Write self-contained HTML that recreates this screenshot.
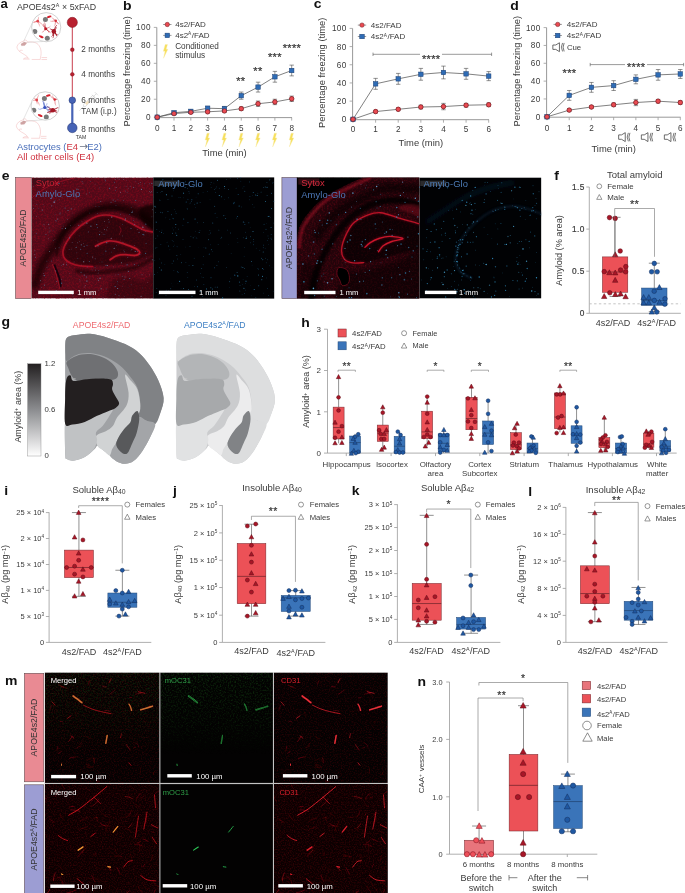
<!DOCTYPE html>
<html><head><meta charset="utf-8"><title>Figure</title>
<style>html,body{margin:0;padding:0;background:#fff}svg{display:block}text{font-family:"Liberation Sans",sans-serif}</style>
</head><body>
<svg width="685" height="893" viewBox="0 0 685 893">
<rect width="685" height="893" fill="#fff"/>
<text transform="translate(0.6 8) scale(1.06 1)" font-size="12.4" font-weight="bold" fill="#111">a</text>
<text x="17" y="10.2" font-size="8.8" fill="#3a3a3a" >APOE4s2<tspan dy="-3" font-size="60%">A</tspan><tspan dy="3" dx="0.5"> × 5xFAD</tspan></text>
<line x1="72.3" y1="22" x2="72.3" y2="100" stroke="#c2273a" stroke-width="0.9" />
<line x1="72.3" y1="100" x2="72.3" y2="128" stroke="#4663b6" stroke-width="2.2" />
<circle cx="72.3" cy="22.4" r="5.1" fill="#b8202f" stroke="#7d1320" stroke-width="0.5" />
<circle cx="72.3" cy="49.7" r="1.9" fill="#b8202f" stroke="#7d1320" stroke-width="0.4" />
<circle cx="72.3" cy="74.3" r="1.9" fill="#b8202f" stroke="#7d1320" stroke-width="0.4" />
<circle cx="72.3" cy="100.2" r="3.3" fill="#4663b6" stroke="#22336e" stroke-width="0.5" />
<circle cx="72.3" cy="127.9" r="4.8" fill="#4663b6" stroke="#22336e" stroke-width="0.5" />
<g transform="translate(88.85,101.15) rotate(-45)" stroke="#bdbdbd" stroke-width="0.45" fill="none"><rect x="-6.8" y="-1.3" width="13.6" height="2.6" fill="#fff"/><rect x="-4.2" y="-1.1" width="3.6" height="2.2" fill="#f6e2bd" stroke="none"/><line x1="-6.8" y1="0" x2="-13.4" y2="0"/><line x1="6.8" y1="-2.3" x2="6.8" y2="2.3"/><line x1="6.8" y1="0" x2="10.6" y2="0"/><line x1="10.6" y1="-2.2" x2="10.6" y2="2.2"/><line x1="1" y1="-1.3" x2="1" y2="0"/><line x1="3" y1="-1.3" x2="3" y2="0"/><line x1="5" y1="-1.3" x2="5" y2="0"/></g>
<text x="81.3" y="52.3" font-size="8.2" fill="#3a3a3a" >2 months</text>
<text x="81.3" y="76.8" font-size="8.2" fill="#3a3a3a" >4 months</text>
<text x="81.3" y="103.2" font-size="8.2" fill="#3a3a3a" >6 months</text>
<text x="81.3" y="113.8" font-size="8.2" fill="#3a3a3a" >TAM (i.p.)</text>
<text x="81.3" y="131.6" font-size="8.2" fill="#3a3a3a" >8 months</text>
<text x="75.8" y="139.3" font-size="5.2" fill="#3a3a3a" >TAM</text>
<text x="17" y="149.5" font-size="9.4" fill="#4a6fba">Astrocytes (<tspan fill="#cf3340">E4</tspan> <tspan fill="#6b7385" font-size="10.5" font-family="DejaVu Sans, sans-serif" dx="-1">→</tspan><tspan dx="-1.2">E2)</tspan></text>
<text x="17" y="160" font-size="9.5" fill="#cf3340" >All other cells (E4)</text>
<path d="M16.94 46.93 C17.69 43.89 20.35 41.99 23.39 41.23 C24.15 39.49 27.03 39.49 27.34 42.14 C30.22 41.61 34.78 41.84 37.06 43.51 C40.25 45.79 42.22 51.48 40.47 57.56 L40.25 59.46 L31.74 59.46 M29.62 59.08 L23.39 59.08 C24.91 57.41 28.1 57.56 28.32 58.62 M28.32 58.32 C27.19 55.28 22.63 54.14 19.59 51.48 C19.21 50.34 21.11 49.97 22.63 50.42 M19.59 51.48 C18.07 49.97 16.86 48.6 16.94 46.93 M41.46 57.56 L47.08 57.56 M41.46 59.53 L47.08 59.53" fill="none" stroke="#f0b4b4" stroke-width="0.5" />
<path d="M20.96 43.89 L24.15 41.99 L26.96 42.75 L24.91 45.41 L21.49 45.79Z" fill="#cfa3a3" stroke="#c59a9a" stroke-width="0.2" />
<line x1="23.6" y1="41.5" x2="32.18" y2="23.11" stroke="#c4c4c4" stroke-width="0.45" />
<line x1="27.1" y1="42.3" x2="43.28" y2="41.51" stroke="#c4c4c4" stroke-width="0.45" />
<circle cx="46.2" cy="27.2" r="14.6" fill="#fff" stroke="#b4b4b4" stroke-width="0.6" />
<clipPath id="bc10"><circle cx="46.2" cy="27.2" r="13.8"/></clipPath><g clip-path="url(#bc10)">
<circle cx="45.4" cy="19.6" r="2.5" fill="#787878" />
<circle cx="34.8" cy="31.4" r="2.5" fill="#787878" />
<circle cx="47.3" cy="38.2" r="2.5" fill="#787878" />
<circle cx="37.7" cy="21.2" r="1.4" fill="#e0474f" />
<line x1="37.7" y1="21.2" x2="33.77" y2="22.42" stroke="#e0474f" stroke-width="0.45" />
<line x1="33.77" y1="22.42" x2="32.23" y2="21.81" stroke="#e0474f" stroke-width="0.32" />
<line x1="37.7" y1="21.2" x2="33.78" y2="22.07" stroke="#e0474f" stroke-width="0.45" />
<line x1="33.78" y1="22.07" x2="32.18" y2="22.19" stroke="#e0474f" stroke-width="0.32" />
<line x1="37.7" y1="21.2" x2="39.31" y2="24.89" stroke="#e0474f" stroke-width="0.45" />
<line x1="39.31" y1="24.89" x2="39.63" y2="26.46" stroke="#e0474f" stroke-width="0.32" />
<line x1="37.7" y1="21.2" x2="38.54" y2="18.13" stroke="#e0474f" stroke-width="0.45" />
<line x1="38.54" y1="18.13" x2="38.48" y2="16.85" stroke="#e0474f" stroke-width="0.32" />
<line x1="37.7" y1="21.2" x2="41.59" y2="23.69" stroke="#e0474f" stroke-width="0.45" />
<line x1="41.59" y1="23.69" x2="42.77" y2="25.11" stroke="#e0474f" stroke-width="0.32" />
<circle cx="55.7" cy="20.7" r="1.26" fill="#d6303a" />
<line x1="55.7" y1="20.7" x2="51.87" y2="21.32" stroke="#d6303a" stroke-width="0.5" />
<line x1="51.87" y1="21.32" x2="50.32" y2="21.16" stroke="#d6303a" stroke-width="0.35" />
<line x1="55.7" y1="20.7" x2="57.4" y2="22.82" stroke="#d6303a" stroke-width="0.5" />
<line x1="57.4" y1="22.82" x2="58.24" y2="23.52" stroke="#d6303a" stroke-width="0.35" />
<line x1="55.7" y1="20.7" x2="55.08" y2="24.81" stroke="#d6303a" stroke-width="0.5" />
<line x1="55.08" y1="24.81" x2="54.35" y2="26.31" stroke="#d6303a" stroke-width="0.35" />
<line x1="55.7" y1="20.7" x2="52.72" y2="18.5" stroke="#d6303a" stroke-width="0.5" />
<line x1="52.72" y1="18.5" x2="51.79" y2="17.35" stroke="#d6303a" stroke-width="0.35" />
<line x1="55.7" y1="20.7" x2="57.84" y2="23.46" stroke="#d6303a" stroke-width="0.5" />
<line x1="57.84" y1="23.46" x2="59.14" y2="23.97" stroke="#d6303a" stroke-width="0.35" />
<circle cx="53.8" cy="31.4" r="1.57" fill="#a51826" />
<line x1="53.8" y1="31.4" x2="53.53" y2="36.29" stroke="#a51826" stroke-width="0.9" />
<line x1="53.53" y1="36.29" x2="52.86" y2="38.13" stroke="#a51826" stroke-width="0.63" />
<line x1="53.8" y1="31.4" x2="56" y2="28.33" stroke="#a51826" stroke-width="0.9" />
<line x1="56" y1="28.33" x2="56.28" y2="26.85" stroke="#a51826" stroke-width="0.63" />
<line x1="53.8" y1="31.4" x2="56.13" y2="34.48" stroke="#a51826" stroke-width="0.9" />
<line x1="56.13" y1="34.48" x2="56.54" y2="35.97" stroke="#a51826" stroke-width="0.63" />
<line x1="53.8" y1="31.4" x2="56.91" y2="34.72" stroke="#a51826" stroke-width="0.9" />
<line x1="56.91" y1="34.72" x2="58.62" y2="35.36" stroke="#a51826" stroke-width="0.63" />
<line x1="53.8" y1="31.4" x2="52.61" y2="35.56" stroke="#a51826" stroke-width="0.9" />
<line x1="52.61" y1="35.56" x2="51.34" y2="36.74" stroke="#a51826" stroke-width="0.63" />
<line x1="53.8" y1="31.4" x2="51.16" y2="29.27" stroke="#a51826" stroke-width="0.9" />
<line x1="51.16" y1="29.27" x2="49.87" y2="28.84" stroke="#a51826" stroke-width="0.63" />
<line x1="53.8" y1="31.4" x2="57.01" y2="35.63" stroke="#a51826" stroke-width="0.9" />
<line x1="57.01" y1="35.63" x2="57.34" y2="37.73" stroke="#a51826" stroke-width="0.63" />
<line x1="53.8" y1="31.4" x2="55.58" y2="26.5" stroke="#a51826" stroke-width="0.9" />
<line x1="55.58" y1="26.5" x2="56.99" y2="24.97" stroke="#a51826" stroke-width="0.63" />
<circle cx="53.8" cy="31.4" r="2.3" fill="#a51826" />
<circle cx="45.7" cy="28.7" r="1.54" fill="#c0202c" />
<line x1="45.7" y1="28.7" x2="49.5" y2="31.71" stroke="#c0202c" stroke-width="0.45" />
<line x1="49.5" y1="31.71" x2="50.68" y2="33.25" stroke="#c0202c" stroke-width="0.32" />
<line x1="45.7" y1="28.7" x2="49.32" y2="27.26" stroke="#c0202c" stroke-width="0.45" />
<line x1="49.32" y1="27.26" x2="50.44" y2="26.18" stroke="#c0202c" stroke-width="0.32" />
<line x1="45.7" y1="28.7" x2="45.21" y2="23.98" stroke="#c0202c" stroke-width="0.45" />
<line x1="45.21" y1="23.98" x2="44.44" y2="22.24" stroke="#c0202c" stroke-width="0.32" />
<line x1="45.7" y1="28.7" x2="44.02" y2="24.88" stroke="#c0202c" stroke-width="0.45" />
<line x1="44.02" y1="24.88" x2="44.06" y2="23.21" stroke="#c0202c" stroke-width="0.32" />
<line x1="45.7" y1="28.7" x2="48.49" y2="31.27" stroke="#c0202c" stroke-width="0.45" />
<line x1="48.49" y1="31.27" x2="48.77" y2="32.76" stroke="#c0202c" stroke-width="0.32" />
<line x1="45.7" y1="28.7" x2="43.27" y2="31.72" stroke="#c0202c" stroke-width="0.45" />
<line x1="43.27" y1="31.72" x2="41.85" y2="32.33" stroke="#c0202c" stroke-width="0.32" />
<line x1="45.7" y1="28.7" x2="43.24" y2="26.03" stroke="#c0202c" stroke-width="0.45" />
<line x1="43.24" y1="26.03" x2="42.34" y2="24.89" stroke="#c0202c" stroke-width="0.32" />
<line x1="45.7" y1="28.7" x2="43.81" y2="25.56" stroke="#c0202c" stroke-width="0.45" />
<line x1="43.81" y1="25.56" x2="43.38" y2="24.16" stroke="#c0202c" stroke-width="0.32" />
<line x1="45.7" y1="28.7" x2="48.59" y2="31.52" stroke="#c0202c" stroke-width="0.45" />
<line x1="48.59" y1="31.52" x2="50.2" y2="31.69" stroke="#c0202c" stroke-width="0.32" />
<ellipse cx="41.2" cy="36.7" rx="2.6" ry="1.1" fill="#d6202c" transform="rotate(25 41.2 36.7)"/>
<ellipse cx="49.2" cy="16.7" rx="2.4" ry="1" fill="#d6202c" transform="rotate(-15 49.2 16.7)"/>
</g>
<path d="M16.34 125.73 C17.09 122.69 19.75 120.79 22.79 120.03 C23.55 118.29 26.43 118.29 26.74 120.94 C29.62 120.41 34.18 120.64 36.46 122.31 C39.65 124.59 41.62 130.28 39.87 136.36 L39.65 138.26 L31.14 138.26 M29.02 137.88 L22.79 137.88 C24.31 136.21 27.5 136.36 27.72 137.42 M27.72 137.12 C26.59 134.08 22.03 132.94 18.99 130.28 C18.61 129.14 20.51 128.77 22.03 129.22 M18.99 130.28 C17.47 128.77 16.26 127.4 16.34 125.73 M40.86 136.36 L46.48 136.36 M40.86 138.33 L46.48 138.33" fill="none" stroke="#f0b4b4" stroke-width="0.5" />
<path d="M20.36 122.69 L23.55 120.79 L26.36 121.55 L24.31 124.21 L20.89 124.59Z" fill="#cfa3a3" stroke="#c59a9a" stroke-width="0.2" />
<line x1="23" y1="120.3" x2="31.57" y2="102.02" stroke="#c4c4c4" stroke-width="0.45" />
<line x1="26.5" y1="121.1" x2="42.36" y2="119.92" stroke="#c4c4c4" stroke-width="0.45" />
<circle cx="45.2" cy="106" r="14.2" fill="#fff" stroke="#b4b4b4" stroke-width="0.6" />
<clipPath id="bc20"><circle cx="45.2" cy="106" r="13.4"/></clipPath><g clip-path="url(#bc20)">
<circle cx="44.4" cy="98.4" r="2.5" fill="#787878" />
<circle cx="33.8" cy="110.2" r="2.5" fill="#787878" />
<circle cx="46.3" cy="117" r="2.5" fill="#787878" />
<circle cx="36.7" cy="100" r="1.4" fill="#e0474f" />
<line x1="36.7" y1="100" x2="38.93" y2="103.77" stroke="#e0474f" stroke-width="0.45" />
<line x1="38.93" y1="103.77" x2="39.48" y2="105.43" stroke="#e0474f" stroke-width="0.32" />
<line x1="36.7" y1="100" x2="33.3" y2="100.45" stroke="#e0474f" stroke-width="0.45" />
<line x1="33.3" y1="100.45" x2="32" y2="100" stroke="#e0474f" stroke-width="0.32" />
<line x1="36.7" y1="100" x2="38.12" y2="96.23" stroke="#e0474f" stroke-width="0.45" />
<line x1="38.12" y1="96.23" x2="38.7" y2="94.73" stroke="#e0474f" stroke-width="0.32" />
<line x1="36.7" y1="100" x2="36.97" y2="102.99" stroke="#e0474f" stroke-width="0.45" />
<line x1="36.97" y1="102.99" x2="37.31" y2="104.15" stroke="#e0474f" stroke-width="0.32" />
<line x1="36.7" y1="100" x2="34" y2="98.4" stroke="#e0474f" stroke-width="0.45" />
<line x1="34" y1="98.4" x2="33.33" y2="97.34" stroke="#e0474f" stroke-width="0.32" />
<circle cx="54.7" cy="99.5" r="1.26" fill="#d6303a" />
<line x1="54.7" y1="99.5" x2="57.55" y2="98.72" stroke="#d6303a" stroke-width="0.5" />
<line x1="57.55" y1="98.72" x2="58.16" y2="97.71" stroke="#d6303a" stroke-width="0.35" />
<line x1="54.7" y1="99.5" x2="57.73" y2="99.46" stroke="#d6303a" stroke-width="0.5" />
<line x1="57.73" y1="99.46" x2="58.72" y2="98.76" stroke="#d6303a" stroke-width="0.35" />
<line x1="54.7" y1="99.5" x2="52.77" y2="96.8" stroke="#d6303a" stroke-width="0.5" />
<line x1="52.77" y1="96.8" x2="52.77" y2="95.47" stroke="#d6303a" stroke-width="0.35" />
<line x1="54.7" y1="99.5" x2="55.21" y2="103.9" stroke="#d6303a" stroke-width="0.5" />
<line x1="55.21" y1="103.9" x2="55.91" y2="105.53" stroke="#d6303a" stroke-width="0.35" />
<line x1="54.7" y1="99.5" x2="51.17" y2="96.91" stroke="#d6303a" stroke-width="0.5" />
<line x1="51.17" y1="96.91" x2="50.13" y2="95.5" stroke="#d6303a" stroke-width="0.35" />
<circle cx="52.8" cy="110.2" r="1.57" fill="#a51826" />
<line x1="52.8" y1="110.2" x2="57.68" y2="107.69" stroke="#a51826" stroke-width="0.9" />
<line x1="57.68" y1="107.69" x2="59.85" y2="108.03" stroke="#a51826" stroke-width="0.63" />
<line x1="52.8" y1="110.2" x2="56.86" y2="112.55" stroke="#a51826" stroke-width="0.9" />
<line x1="56.86" y1="112.55" x2="58.58" y2="113.28" stroke="#a51826" stroke-width="0.63" />
<line x1="52.8" y1="110.2" x2="49.21" y2="109.52" stroke="#a51826" stroke-width="0.9" />
<line x1="49.21" y1="109.52" x2="47.82" y2="109.96" stroke="#a51826" stroke-width="0.63" />
<line x1="52.8" y1="110.2" x2="49.18" y2="111.52" stroke="#a51826" stroke-width="0.9" />
<line x1="49.18" y1="111.52" x2="47.77" y2="112.15" stroke="#a51826" stroke-width="0.63" />
<line x1="52.8" y1="110.2" x2="56.31" y2="110.75" stroke="#a51826" stroke-width="0.9" />
<line x1="56.31" y1="110.75" x2="57.56" y2="111.42" stroke="#a51826" stroke-width="0.63" />
<line x1="52.8" y1="110.2" x2="48.84" y2="112.35" stroke="#a51826" stroke-width="0.9" />
<line x1="48.84" y1="112.35" x2="47.05" y2="112.56" stroke="#a51826" stroke-width="0.63" />
<line x1="52.8" y1="110.2" x2="50.6" y2="112.9" stroke="#a51826" stroke-width="0.9" />
<line x1="50.6" y1="112.9" x2="49.33" y2="113.49" stroke="#a51826" stroke-width="0.63" />
<line x1="52.8" y1="110.2" x2="48.7" y2="107.64" stroke="#a51826" stroke-width="0.9" />
<line x1="48.7" y1="107.64" x2="47.29" y2="106.32" stroke="#a51826" stroke-width="0.63" />
<circle cx="52.8" cy="110.2" r="2.3" fill="#a51826" />
<circle cx="44.7" cy="107.5" r="1.54" fill="#3b55c0" />
<line x1="44.7" y1="107.5" x2="43.48" y2="102.5" stroke="#3b55c0" stroke-width="0.45" />
<line x1="43.48" y1="102.5" x2="42.08" y2="100.99" stroke="#3b55c0" stroke-width="0.32" />
<line x1="44.7" y1="107.5" x2="48.43" y2="107.45" stroke="#3b55c0" stroke-width="0.45" />
<line x1="48.43" y1="107.45" x2="49.87" y2="107.83" stroke="#3b55c0" stroke-width="0.32" />
<line x1="44.7" y1="107.5" x2="48.86" y2="110.21" stroke="#3b55c0" stroke-width="0.45" />
<line x1="48.86" y1="110.21" x2="50.85" y2="110.24" stroke="#3b55c0" stroke-width="0.32" />
<line x1="44.7" y1="107.5" x2="43.37" y2="102.79" stroke="#3b55c0" stroke-width="0.45" />
<line x1="43.37" y1="102.79" x2="43.66" y2="100.85" stroke="#3b55c0" stroke-width="0.32" />
<line x1="44.7" y1="107.5" x2="39.85" y2="109.38" stroke="#3b55c0" stroke-width="0.45" />
<line x1="39.85" y1="109.38" x2="37.94" y2="108.55" stroke="#3b55c0" stroke-width="0.32" />
<line x1="44.7" y1="107.5" x2="48.02" y2="110.45" stroke="#3b55c0" stroke-width="0.45" />
<line x1="48.02" y1="110.45" x2="48.22" y2="112.21" stroke="#3b55c0" stroke-width="0.32" />
<line x1="44.7" y1="107.5" x2="44.4" y2="103.23" stroke="#3b55c0" stroke-width="0.45" />
<line x1="44.4" y1="103.23" x2="43.76" y2="101.65" stroke="#3b55c0" stroke-width="0.32" />
<line x1="44.7" y1="107.5" x2="48.03" y2="106.48" stroke="#3b55c0" stroke-width="0.45" />
<line x1="48.03" y1="106.48" x2="49.42" y2="106.64" stroke="#3b55c0" stroke-width="0.32" />
<line x1="44.7" y1="107.5" x2="46.71" y2="104.46" stroke="#3b55c0" stroke-width="0.45" />
<line x1="46.71" y1="104.46" x2="47.15" y2="103.07" stroke="#3b55c0" stroke-width="0.32" />
<ellipse cx="40.2" cy="115.5" rx="2.6" ry="1.1" fill="#d6202c" transform="rotate(25 40.2 115.5)"/>
<ellipse cx="48.2" cy="95.5" rx="2.4" ry="1" fill="#d6202c" transform="rotate(-15 48.2 95.5)"/>
</g>
<line x1="156.8" y1="27.4" x2="156.8" y2="117.6" stroke="#8c8c8c" stroke-width="0.9" />
<line x1="156.8" y1="117.6" x2="292" y2="117.6" stroke="#8c8c8c" stroke-width="0.9" />
<line x1="153.8" y1="117.2" x2="156.8" y2="117.2" stroke="#9a9a9a" stroke-width="0.8" />
<text x="150.8" y="120.2" font-size="8.2" fill="#3a3a3a" text-anchor="end" letter-spacing="0.35">0</text>
<line x1="153.8" y1="99.24" x2="156.8" y2="99.24" stroke="#9a9a9a" stroke-width="0.8" />
<text x="150.8" y="102.24" font-size="8.2" fill="#3a3a3a" text-anchor="end" letter-spacing="0.35">20</text>
<line x1="153.8" y1="81.28" x2="156.8" y2="81.28" stroke="#9a9a9a" stroke-width="0.8" />
<text x="150.8" y="84.28" font-size="8.2" fill="#3a3a3a" text-anchor="end" letter-spacing="0.35">40</text>
<line x1="153.8" y1="63.32" x2="156.8" y2="63.32" stroke="#9a9a9a" stroke-width="0.8" />
<text x="150.8" y="66.32" font-size="8.2" fill="#3a3a3a" text-anchor="end" letter-spacing="0.35">60</text>
<line x1="153.8" y1="45.36" x2="156.8" y2="45.36" stroke="#9a9a9a" stroke-width="0.8" />
<text x="150.8" y="48.36" font-size="8.2" fill="#3a3a3a" text-anchor="end" letter-spacing="0.35">80</text>
<line x1="153.8" y1="27.4" x2="156.8" y2="27.4" stroke="#9a9a9a" stroke-width="0.8" />
<text x="150.8" y="30.4" font-size="8.2" fill="#3a3a3a" text-anchor="end" letter-spacing="0.35">100</text>
<line x1="157.2" y1="117.6" x2="157.2" y2="120.6" stroke="#9a9a9a" stroke-width="0.8" />
<text x="157.2" y="130.9" font-size="8.2" fill="#3a3a3a" text-anchor="middle" >0</text>
<line x1="174.01" y1="117.6" x2="174.01" y2="120.6" stroke="#9a9a9a" stroke-width="0.8" />
<text x="174.01" y="130.9" font-size="8.2" fill="#3a3a3a" text-anchor="middle" >1</text>
<line x1="190.82" y1="117.6" x2="190.82" y2="120.6" stroke="#9a9a9a" stroke-width="0.8" />
<text x="190.82" y="130.9" font-size="8.2" fill="#3a3a3a" text-anchor="middle" >2</text>
<line x1="207.64" y1="117.6" x2="207.64" y2="120.6" stroke="#9a9a9a" stroke-width="0.8" />
<text x="207.64" y="130.9" font-size="8.2" fill="#3a3a3a" text-anchor="middle" >3</text>
<line x1="224.45" y1="117.6" x2="224.45" y2="120.6" stroke="#9a9a9a" stroke-width="0.8" />
<text x="224.45" y="130.9" font-size="8.2" fill="#3a3a3a" text-anchor="middle" >4</text>
<line x1="241.26" y1="117.6" x2="241.26" y2="120.6" stroke="#9a9a9a" stroke-width="0.8" />
<text x="241.26" y="130.9" font-size="8.2" fill="#3a3a3a" text-anchor="middle" >5</text>
<line x1="258.07" y1="117.6" x2="258.07" y2="120.6" stroke="#9a9a9a" stroke-width="0.8" />
<text x="258.07" y="130.9" font-size="8.2" fill="#3a3a3a" text-anchor="middle" >6</text>
<line x1="274.89" y1="117.6" x2="274.89" y2="120.6" stroke="#9a9a9a" stroke-width="0.8" />
<text x="274.89" y="130.9" font-size="8.2" fill="#3a3a3a" text-anchor="middle" >7</text>
<line x1="291.7" y1="117.6" x2="291.7" y2="120.6" stroke="#9a9a9a" stroke-width="0.8" />
<text x="291.7" y="130.9" font-size="8.2" fill="#3a3a3a" text-anchor="middle" >8</text>
<text x="224.45" y="155.6" font-size="9.4" fill="#3a3a3a" text-anchor="middle" >Time (min)</text>
<text x="130.5" y="71.3" font-size="9.4" fill="#3a3a3a" text-anchor="middle" transform="rotate(-90 130.5 71.3)" >Percentage freezing (time)</text>
<text transform="translate(122.9 9.9) scale(1.06 1)" font-size="13.2" font-weight="bold" fill="#111">b</text>
<polyline points="157.2,117.2 174.01,113.61 190.82,112.26 207.64,111.81 224.45,110.91 241.26,108.67 258.07,103.73 274.89,101.93 291.7,98.79" fill="none" stroke="#4a4a4a" stroke-width="0.7"/>
<line x1="174.01" y1="112.71" x2="174.01" y2="114.51" stroke="#4a4a4a" stroke-width="0.6" />
<line x1="171.81" y1="112.71" x2="176.21" y2="112.71" stroke="#4a4a4a" stroke-width="0.6" />
<line x1="171.81" y1="114.51" x2="176.21" y2="114.51" stroke="#4a4a4a" stroke-width="0.6" />
<line x1="190.82" y1="111.36" x2="190.82" y2="113.16" stroke="#4a4a4a" stroke-width="0.6" />
<line x1="188.62" y1="111.36" x2="193.02" y2="111.36" stroke="#4a4a4a" stroke-width="0.6" />
<line x1="188.62" y1="113.16" x2="193.02" y2="113.16" stroke="#4a4a4a" stroke-width="0.6" />
<line x1="207.64" y1="110.73" x2="207.64" y2="112.89" stroke="#4a4a4a" stroke-width="0.6" />
<line x1="205.44" y1="110.73" x2="209.84" y2="110.73" stroke="#4a4a4a" stroke-width="0.6" />
<line x1="205.44" y1="112.89" x2="209.84" y2="112.89" stroke="#4a4a4a" stroke-width="0.6" />
<line x1="224.45" y1="109.57" x2="224.45" y2="112.26" stroke="#4a4a4a" stroke-width="0.6" />
<line x1="222.25" y1="109.57" x2="226.65" y2="109.57" stroke="#4a4a4a" stroke-width="0.6" />
<line x1="222.25" y1="112.26" x2="226.65" y2="112.26" stroke="#4a4a4a" stroke-width="0.6" />
<line x1="241.26" y1="106.87" x2="241.26" y2="110.47" stroke="#4a4a4a" stroke-width="0.6" />
<line x1="239.06" y1="106.87" x2="243.46" y2="106.87" stroke="#4a4a4a" stroke-width="0.6" />
<line x1="239.06" y1="110.47" x2="243.46" y2="110.47" stroke="#4a4a4a" stroke-width="0.6" />
<line x1="258.07" y1="101.04" x2="258.07" y2="106.42" stroke="#4a4a4a" stroke-width="0.6" />
<line x1="255.88" y1="101.04" x2="260.27" y2="101.04" stroke="#4a4a4a" stroke-width="0.6" />
<line x1="255.88" y1="106.42" x2="260.27" y2="106.42" stroke="#4a4a4a" stroke-width="0.6" />
<line x1="274.89" y1="99.24" x2="274.89" y2="104.63" stroke="#4a4a4a" stroke-width="0.6" />
<line x1="272.69" y1="99.24" x2="277.09" y2="99.24" stroke="#4a4a4a" stroke-width="0.6" />
<line x1="272.69" y1="104.63" x2="277.09" y2="104.63" stroke="#4a4a4a" stroke-width="0.6" />
<line x1="291.7" y1="96.1" x2="291.7" y2="101.48" stroke="#4a4a4a" stroke-width="0.6" />
<line x1="289.5" y1="96.1" x2="293.9" y2="96.1" stroke="#4a4a4a" stroke-width="0.6" />
<line x1="289.5" y1="101.48" x2="293.9" y2="101.48" stroke="#4a4a4a" stroke-width="0.6" />
<circle cx="157.2" cy="117.2" r="2.2" fill="#ea4b52" stroke="#6b1a20" stroke-width="0.5" />
<circle cx="174.01" cy="113.61" r="2.2" fill="#ea4b52" stroke="#6b1a20" stroke-width="0.5" />
<circle cx="190.82" cy="112.26" r="2.2" fill="#ea4b52" stroke="#6b1a20" stroke-width="0.5" />
<circle cx="207.64" cy="111.81" r="2.2" fill="#ea4b52" stroke="#6b1a20" stroke-width="0.5" />
<circle cx="224.45" cy="110.91" r="2.2" fill="#ea4b52" stroke="#6b1a20" stroke-width="0.5" />
<circle cx="241.26" cy="108.67" r="2.2" fill="#ea4b52" stroke="#6b1a20" stroke-width="0.5" />
<circle cx="258.07" cy="103.73" r="2.2" fill="#ea4b52" stroke="#6b1a20" stroke-width="0.5" />
<circle cx="274.89" cy="101.93" r="2.2" fill="#ea4b52" stroke="#6b1a20" stroke-width="0.5" />
<circle cx="291.7" cy="98.79" r="2.2" fill="#ea4b52" stroke="#6b1a20" stroke-width="0.5" />
<polyline points="157.2,117.2 174.01,112.71 190.82,111.36 207.64,108.22 224.45,108.67 241.26,95.65 258.07,87.12 274.89,76.79 291.7,70.5" fill="none" stroke="#4a4a4a" stroke-width="0.7"/>
<line x1="174.01" y1="111.36" x2="174.01" y2="114.06" stroke="#4a4a4a" stroke-width="0.6" />
<line x1="171.81" y1="111.36" x2="176.21" y2="111.36" stroke="#4a4a4a" stroke-width="0.6" />
<line x1="171.81" y1="114.06" x2="176.21" y2="114.06" stroke="#4a4a4a" stroke-width="0.6" />
<line x1="190.82" y1="110.02" x2="190.82" y2="112.71" stroke="#4a4a4a" stroke-width="0.6" />
<line x1="188.62" y1="110.02" x2="193.02" y2="110.02" stroke="#4a4a4a" stroke-width="0.6" />
<line x1="188.62" y1="112.71" x2="193.02" y2="112.71" stroke="#4a4a4a" stroke-width="0.6" />
<line x1="207.64" y1="106.42" x2="207.64" y2="110.02" stroke="#4a4a4a" stroke-width="0.6" />
<line x1="205.44" y1="106.42" x2="209.84" y2="106.42" stroke="#4a4a4a" stroke-width="0.6" />
<line x1="205.44" y1="110.02" x2="209.84" y2="110.02" stroke="#4a4a4a" stroke-width="0.6" />
<line x1="224.45" y1="106.42" x2="224.45" y2="110.91" stroke="#4a4a4a" stroke-width="0.6" />
<line x1="222.25" y1="106.42" x2="226.65" y2="106.42" stroke="#4a4a4a" stroke-width="0.6" />
<line x1="222.25" y1="110.91" x2="226.65" y2="110.91" stroke="#4a4a4a" stroke-width="0.6" />
<line x1="241.26" y1="92.06" x2="241.26" y2="99.24" stroke="#4a4a4a" stroke-width="0.6" />
<line x1="239.06" y1="92.06" x2="243.46" y2="92.06" stroke="#4a4a4a" stroke-width="0.6" />
<line x1="239.06" y1="99.24" x2="243.46" y2="99.24" stroke="#4a4a4a" stroke-width="0.6" />
<line x1="258.07" y1="82.18" x2="258.07" y2="92.06" stroke="#4a4a4a" stroke-width="0.6" />
<line x1="255.88" y1="82.18" x2="260.27" y2="82.18" stroke="#4a4a4a" stroke-width="0.6" />
<line x1="255.88" y1="92.06" x2="260.27" y2="92.06" stroke="#4a4a4a" stroke-width="0.6" />
<line x1="274.89" y1="71.4" x2="274.89" y2="82.18" stroke="#4a4a4a" stroke-width="0.6" />
<line x1="272.69" y1="71.4" x2="277.09" y2="71.4" stroke="#4a4a4a" stroke-width="0.6" />
<line x1="272.69" y1="82.18" x2="277.09" y2="82.18" stroke="#4a4a4a" stroke-width="0.6" />
<line x1="291.7" y1="65.12" x2="291.7" y2="75.89" stroke="#4a4a4a" stroke-width="0.6" />
<line x1="289.5" y1="65.12" x2="293.9" y2="65.12" stroke="#4a4a4a" stroke-width="0.6" />
<line x1="289.5" y1="75.89" x2="293.9" y2="75.89" stroke="#4a4a4a" stroke-width="0.6" />
<rect x="154.95" y="114.95" width="4.5" height="4.5" fill="#2f6cb5" stroke="#1b3f73" stroke-width="0.5" />
<rect x="171.76" y="110.46" width="4.5" height="4.5" fill="#2f6cb5" stroke="#1b3f73" stroke-width="0.5" />
<rect x="188.57" y="109.11" width="4.5" height="4.5" fill="#2f6cb5" stroke="#1b3f73" stroke-width="0.5" />
<rect x="205.39" y="105.97" width="4.5" height="4.5" fill="#2f6cb5" stroke="#1b3f73" stroke-width="0.5" />
<rect x="222.2" y="106.42" width="4.5" height="4.5" fill="#2f6cb5" stroke="#1b3f73" stroke-width="0.5" />
<rect x="239.01" y="93.4" width="4.5" height="4.5" fill="#2f6cb5" stroke="#1b3f73" stroke-width="0.5" />
<rect x="255.82" y="84.87" width="4.5" height="4.5" fill="#2f6cb5" stroke="#1b3f73" stroke-width="0.5" />
<rect x="272.64" y="74.54" width="4.5" height="4.5" fill="#2f6cb5" stroke="#1b3f73" stroke-width="0.5" />
<rect x="289.45" y="68.25" width="4.5" height="4.5" fill="#2f6cb5" stroke="#1b3f73" stroke-width="0.5" />
<circle cx="157.2" cy="117.2" r="2.2" fill="#ea4b52" stroke="#6b1a20" stroke-width="0.5" />
<circle cx="174.01" cy="113.61" r="2.2" fill="#ea4b52" stroke="#6b1a20" stroke-width="0.5" />
<circle cx="190.82" cy="112.26" r="2.2" fill="#ea4b52" stroke="#6b1a20" stroke-width="0.5" />
<circle cx="207.64" cy="111.81" r="2.2" fill="#ea4b52" stroke="#6b1a20" stroke-width="0.5" />
<circle cx="224.45" cy="110.91" r="2.2" fill="#ea4b52" stroke="#6b1a20" stroke-width="0.5" />
<circle cx="241.26" cy="108.67" r="2.2" fill="#ea4b52" stroke="#6b1a20" stroke-width="0.5" />
<circle cx="258.07" cy="103.73" r="2.2" fill="#ea4b52" stroke="#6b1a20" stroke-width="0.5" />
<circle cx="274.89" cy="101.93" r="2.2" fill="#ea4b52" stroke="#6b1a20" stroke-width="0.5" />
<circle cx="291.7" cy="98.79" r="2.2" fill="#ea4b52" stroke="#6b1a20" stroke-width="0.5" />
<line x1="163.1" y1="24.5" x2="171.5" y2="24.5" stroke="#555" stroke-width="0.6" />
<circle cx="167.3" cy="24.5" r="2.2" fill="#ea4b52" stroke="#6b1a20" stroke-width="0.5" />
<line x1="163.1" y1="35.4" x2="171.5" y2="35.4" stroke="#555" stroke-width="0.6" />
<rect x="165.05" y="33.15" width="4.5" height="4.5" fill="#2f6cb5" stroke="#1b3f73" stroke-width="0.5" />
<text x="175.2" y="27.3" font-size="8" fill="#3a3a3a" >4s2/FAD</text>
<text x="175.2" y="38.2" font-size="8" fill="#3a3a3a" >4s2<tspan dy="-2.8" font-size="60%">A</tspan><tspan dy="2.8" dx="0.5">/FAD</tspan></text>
<polygon points="165.2,44.5 167.5,44.5 166.2,49.2 167.9,49.2 163.5,58.3 165,51.3 163.3,51.3" fill="#f6df5a" stroke="#faedb0" stroke-width="0.4"/>
<text x="175.2" y="49.4" font-size="8.2" fill="#3a3a3a" >Conditioned</text>
<text x="175.2" y="58.4" font-size="8.2" fill="#3a3a3a" >stimulus</text>
<polygon points="207.04,133.2 209.34,133.2 208.04,137.9 209.74,137.9 205.34,147 206.84,140 205.14,140" fill="#f6df5a" stroke="#faedb0" stroke-width="0.4"/>
<polygon points="223.85,133.2 226.15,133.2 224.85,137.9 226.55,137.9 222.15,147 223.65,140 221.95,140" fill="#f6df5a" stroke="#faedb0" stroke-width="0.4"/>
<polygon points="240.66,133.2 242.96,133.2 241.66,137.9 243.36,137.9 238.96,147 240.46,140 238.76,140" fill="#f6df5a" stroke="#faedb0" stroke-width="0.4"/>
<polygon points="257.48,133.2 259.77,133.2 258.48,137.9 260.18,137.9 255.78,147 257.27,140 255.57,140" fill="#f6df5a" stroke="#faedb0" stroke-width="0.4"/>
<polygon points="274.29,133.2 276.59,133.2 275.29,137.9 276.99,137.9 272.59,147 274.09,140 272.39,140" fill="#f6df5a" stroke="#faedb0" stroke-width="0.4"/>
<polygon points="291.1,133.2 293.4,133.2 292.1,137.9 293.8,137.9 289.4,147 290.9,140 289.2,140" fill="#f6df5a" stroke="#faedb0" stroke-width="0.4"/>
<text x="240.86" y="85.4" font-size="11" fill="#3a3a3a" text-anchor="middle" letter-spacing="0.35" stroke="#3a3a3a" stroke-width="0.25">**</text>
<text x="257.97" y="74.6" font-size="11" fill="#3a3a3a" text-anchor="middle" letter-spacing="0.35" stroke="#3a3a3a" stroke-width="0.25">**</text>
<text x="274.89" y="60.6" font-size="11" fill="#3a3a3a" text-anchor="middle" letter-spacing="0.35" stroke="#3a3a3a" stroke-width="0.25">***</text>
<text x="291.9" y="52.4" font-size="11" fill="#3a3a3a" text-anchor="middle" letter-spacing="0.35" stroke="#3a3a3a" stroke-width="0.25">****</text>
<line x1="352.6" y1="28.4" x2="352.6" y2="119.7" stroke="#8c8c8c" stroke-width="0.9" />
<line x1="352.6" y1="119.7" x2="489" y2="119.7" stroke="#8c8c8c" stroke-width="0.9" />
<line x1="349.6" y1="119.3" x2="352.6" y2="119.3" stroke="#9a9a9a" stroke-width="0.8" />
<text x="346.6" y="122.3" font-size="8.2" fill="#3a3a3a" text-anchor="end" letter-spacing="0.35">0</text>
<line x1="349.6" y1="101.12" x2="352.6" y2="101.12" stroke="#9a9a9a" stroke-width="0.8" />
<text x="346.6" y="104.12" font-size="8.2" fill="#3a3a3a" text-anchor="end" letter-spacing="0.35">20</text>
<line x1="349.6" y1="82.94" x2="352.6" y2="82.94" stroke="#9a9a9a" stroke-width="0.8" />
<text x="346.6" y="85.94" font-size="8.2" fill="#3a3a3a" text-anchor="end" letter-spacing="0.35">40</text>
<line x1="349.6" y1="64.76" x2="352.6" y2="64.76" stroke="#9a9a9a" stroke-width="0.8" />
<text x="346.6" y="67.76" font-size="8.2" fill="#3a3a3a" text-anchor="end" letter-spacing="0.35">60</text>
<line x1="349.6" y1="46.58" x2="352.6" y2="46.58" stroke="#9a9a9a" stroke-width="0.8" />
<text x="346.6" y="49.58" font-size="8.2" fill="#3a3a3a" text-anchor="end" letter-spacing="0.35">80</text>
<line x1="349.6" y1="28.4" x2="352.6" y2="28.4" stroke="#9a9a9a" stroke-width="0.8" />
<text x="346.6" y="31.4" font-size="8.2" fill="#3a3a3a" text-anchor="end" letter-spacing="0.35">100</text>
<line x1="353" y1="119.7" x2="353" y2="122.7" stroke="#9a9a9a" stroke-width="0.8" />
<text x="353" y="132.1" font-size="8.2" fill="#3a3a3a" text-anchor="middle" >0</text>
<line x1="375.62" y1="119.7" x2="375.62" y2="122.7" stroke="#9a9a9a" stroke-width="0.8" />
<text x="375.62" y="132.1" font-size="8.2" fill="#3a3a3a" text-anchor="middle" >1</text>
<line x1="398.23" y1="119.7" x2="398.23" y2="122.7" stroke="#9a9a9a" stroke-width="0.8" />
<text x="398.23" y="132.1" font-size="8.2" fill="#3a3a3a" text-anchor="middle" >2</text>
<line x1="420.85" y1="119.7" x2="420.85" y2="122.7" stroke="#9a9a9a" stroke-width="0.8" />
<text x="420.85" y="132.1" font-size="8.2" fill="#3a3a3a" text-anchor="middle" >3</text>
<line x1="443.47" y1="119.7" x2="443.47" y2="122.7" stroke="#9a9a9a" stroke-width="0.8" />
<text x="443.47" y="132.1" font-size="8.2" fill="#3a3a3a" text-anchor="middle" >4</text>
<line x1="466.08" y1="119.7" x2="466.08" y2="122.7" stroke="#9a9a9a" stroke-width="0.8" />
<text x="466.08" y="132.1" font-size="8.2" fill="#3a3a3a" text-anchor="middle" >5</text>
<line x1="488.7" y1="119.7" x2="488.7" y2="122.7" stroke="#9a9a9a" stroke-width="0.8" />
<text x="488.7" y="132.1" font-size="8.2" fill="#3a3a3a" text-anchor="middle" >6</text>
<text x="420.85" y="145.6" font-size="9.4" fill="#3a3a3a" text-anchor="middle" >Time (min)</text>
<text x="325.5" y="72.85" font-size="9.4" fill="#3a3a3a" text-anchor="middle" transform="rotate(-90 325.5 72.85)" >Percentage freezing (time)</text>
<text transform="translate(313.8 7.8) scale(1.06 1)" font-size="13.2" font-weight="bold" fill="#111">c</text>
<polyline points="353,119.3 375.62,111.57 398.23,109.3 420.85,107.03 443.47,106.57 466.08,105.21 488.7,104.76" fill="none" stroke="#4a4a4a" stroke-width="0.7"/>
<line x1="375.62" y1="110.21" x2="375.62" y2="112.94" stroke="#4a4a4a" stroke-width="0.6" />
<line x1="373.42" y1="110.21" x2="377.82" y2="110.21" stroke="#4a4a4a" stroke-width="0.6" />
<line x1="373.42" y1="112.94" x2="377.82" y2="112.94" stroke="#4a4a4a" stroke-width="0.6" />
<line x1="398.23" y1="107.94" x2="398.23" y2="110.66" stroke="#4a4a4a" stroke-width="0.6" />
<line x1="396.03" y1="107.94" x2="400.43" y2="107.94" stroke="#4a4a4a" stroke-width="0.6" />
<line x1="396.03" y1="110.66" x2="400.43" y2="110.66" stroke="#4a4a4a" stroke-width="0.6" />
<line x1="420.85" y1="105.21" x2="420.85" y2="108.85" stroke="#4a4a4a" stroke-width="0.6" />
<line x1="418.65" y1="105.21" x2="423.05" y2="105.21" stroke="#4a4a4a" stroke-width="0.6" />
<line x1="418.65" y1="108.85" x2="423.05" y2="108.85" stroke="#4a4a4a" stroke-width="0.6" />
<line x1="443.47" y1="103.39" x2="443.47" y2="109.76" stroke="#4a4a4a" stroke-width="0.6" />
<line x1="441.27" y1="103.39" x2="445.67" y2="103.39" stroke="#4a4a4a" stroke-width="0.6" />
<line x1="441.27" y1="109.76" x2="445.67" y2="109.76" stroke="#4a4a4a" stroke-width="0.6" />
<line x1="466.08" y1="103.39" x2="466.08" y2="107.03" stroke="#4a4a4a" stroke-width="0.6" />
<line x1="463.88" y1="103.39" x2="468.28" y2="103.39" stroke="#4a4a4a" stroke-width="0.6" />
<line x1="463.88" y1="107.03" x2="468.28" y2="107.03" stroke="#4a4a4a" stroke-width="0.6" />
<line x1="488.7" y1="102.94" x2="488.7" y2="106.57" stroke="#4a4a4a" stroke-width="0.6" />
<line x1="486.5" y1="102.94" x2="490.9" y2="102.94" stroke="#4a4a4a" stroke-width="0.6" />
<line x1="486.5" y1="106.57" x2="490.9" y2="106.57" stroke="#4a4a4a" stroke-width="0.6" />
<circle cx="353" cy="119.3" r="2.2" fill="#ea4b52" stroke="#6b1a20" stroke-width="0.5" />
<circle cx="375.62" cy="111.57" r="2.2" fill="#ea4b52" stroke="#6b1a20" stroke-width="0.5" />
<circle cx="398.23" cy="109.3" r="2.2" fill="#ea4b52" stroke="#6b1a20" stroke-width="0.5" />
<circle cx="420.85" cy="107.03" r="2.2" fill="#ea4b52" stroke="#6b1a20" stroke-width="0.5" />
<circle cx="443.47" cy="106.57" r="2.2" fill="#ea4b52" stroke="#6b1a20" stroke-width="0.5" />
<circle cx="466.08" cy="105.21" r="2.2" fill="#ea4b52" stroke="#6b1a20" stroke-width="0.5" />
<circle cx="488.7" cy="104.76" r="2.2" fill="#ea4b52" stroke="#6b1a20" stroke-width="0.5" />
<polyline points="353,119.3 375.62,83.85 398.23,78.85 420.85,74.3 443.47,72.49 466.08,73.85 488.7,76.12" fill="none" stroke="#4a4a4a" stroke-width="0.7"/>
<line x1="375.62" y1="78.39" x2="375.62" y2="89.3" stroke="#4a4a4a" stroke-width="0.6" />
<line x1="373.42" y1="78.39" x2="377.82" y2="78.39" stroke="#4a4a4a" stroke-width="0.6" />
<line x1="373.42" y1="89.3" x2="377.82" y2="89.3" stroke="#4a4a4a" stroke-width="0.6" />
<line x1="398.23" y1="73.4" x2="398.23" y2="84.3" stroke="#4a4a4a" stroke-width="0.6" />
<line x1="396.03" y1="73.4" x2="400.43" y2="73.4" stroke="#4a4a4a" stroke-width="0.6" />
<line x1="396.03" y1="84.3" x2="400.43" y2="84.3" stroke="#4a4a4a" stroke-width="0.6" />
<line x1="420.85" y1="68.4" x2="420.85" y2="80.21" stroke="#4a4a4a" stroke-width="0.6" />
<line x1="418.65" y1="68.4" x2="423.05" y2="68.4" stroke="#4a4a4a" stroke-width="0.6" />
<line x1="418.65" y1="80.21" x2="423.05" y2="80.21" stroke="#4a4a4a" stroke-width="0.6" />
<line x1="443.47" y1="66.12" x2="443.47" y2="78.85" stroke="#4a4a4a" stroke-width="0.6" />
<line x1="441.27" y1="66.12" x2="445.67" y2="66.12" stroke="#4a4a4a" stroke-width="0.6" />
<line x1="441.27" y1="78.85" x2="445.67" y2="78.85" stroke="#4a4a4a" stroke-width="0.6" />
<line x1="466.08" y1="68.4" x2="466.08" y2="79.3" stroke="#4a4a4a" stroke-width="0.6" />
<line x1="463.88" y1="68.4" x2="468.28" y2="68.4" stroke="#4a4a4a" stroke-width="0.6" />
<line x1="463.88" y1="79.3" x2="468.28" y2="79.3" stroke="#4a4a4a" stroke-width="0.6" />
<line x1="488.7" y1="71.58" x2="488.7" y2="80.67" stroke="#4a4a4a" stroke-width="0.6" />
<line x1="486.5" y1="71.58" x2="490.9" y2="71.58" stroke="#4a4a4a" stroke-width="0.6" />
<line x1="486.5" y1="80.67" x2="490.9" y2="80.67" stroke="#4a4a4a" stroke-width="0.6" />
<rect x="350.75" y="117.05" width="4.5" height="4.5" fill="#2f6cb5" stroke="#1b3f73" stroke-width="0.5" />
<rect x="373.37" y="81.6" width="4.5" height="4.5" fill="#2f6cb5" stroke="#1b3f73" stroke-width="0.5" />
<rect x="395.98" y="76.6" width="4.5" height="4.5" fill="#2f6cb5" stroke="#1b3f73" stroke-width="0.5" />
<rect x="418.6" y="72.05" width="4.5" height="4.5" fill="#2f6cb5" stroke="#1b3f73" stroke-width="0.5" />
<rect x="441.22" y="70.24" width="4.5" height="4.5" fill="#2f6cb5" stroke="#1b3f73" stroke-width="0.5" />
<rect x="463.83" y="71.6" width="4.5" height="4.5" fill="#2f6cb5" stroke="#1b3f73" stroke-width="0.5" />
<rect x="486.45" y="73.87" width="4.5" height="4.5" fill="#2f6cb5" stroke="#1b3f73" stroke-width="0.5" />
<circle cx="353" cy="119.3" r="2.2" fill="#ea4b52" stroke="#6b1a20" stroke-width="0.5" />
<circle cx="375.62" cy="111.57" r="2.2" fill="#ea4b52" stroke="#6b1a20" stroke-width="0.5" />
<circle cx="398.23" cy="109.3" r="2.2" fill="#ea4b52" stroke="#6b1a20" stroke-width="0.5" />
<circle cx="420.85" cy="107.03" r="2.2" fill="#ea4b52" stroke="#6b1a20" stroke-width="0.5" />
<circle cx="443.47" cy="106.57" r="2.2" fill="#ea4b52" stroke="#6b1a20" stroke-width="0.5" />
<circle cx="466.08" cy="105.21" r="2.2" fill="#ea4b52" stroke="#6b1a20" stroke-width="0.5" />
<circle cx="488.7" cy="104.76" r="2.2" fill="#ea4b52" stroke="#6b1a20" stroke-width="0.5" />
<line x1="357.8" y1="25.1" x2="366.2" y2="25.1" stroke="#555" stroke-width="0.6" />
<circle cx="362" cy="25.1" r="2.2" fill="#ea4b52" stroke="#6b1a20" stroke-width="0.5" />
<line x1="357.8" y1="36.5" x2="366.2" y2="36.5" stroke="#555" stroke-width="0.6" />
<rect x="359.75" y="34.25" width="4.5" height="4.5" fill="#2f6cb5" stroke="#1b3f73" stroke-width="0.5" />
<text x="370.8" y="27.9" font-size="8" fill="#3a3a3a" >4s2/FAD</text>
<text x="370.8" y="39.3" font-size="8" fill="#3a3a3a" >4s2<tspan dy="-2.8" font-size="60%">A</tspan><tspan dy="2.8" dx="0.5">/FAD</tspan></text>
<line x1="373" y1="54.3" x2="420" y2="54.3" stroke="#555" stroke-width="0.6" />
<line x1="442" y1="54.3" x2="491.6" y2="54.3" stroke="#555" stroke-width="0.6" />
<line x1="373" y1="52.6" x2="373" y2="56" stroke="#555" stroke-width="0.6" />
<line x1="491.6" y1="52.6" x2="491.6" y2="56" stroke="#555" stroke-width="0.6" />
<text x="431.2" y="63.4" font-size="11" fill="#3a3a3a" text-anchor="middle" letter-spacing="0.35" stroke="#3a3a3a" stroke-width="0.25">****</text>
<line x1="546.6" y1="27.6" x2="546.6" y2="117.2" stroke="#8c8c8c" stroke-width="0.9" />
<line x1="546.6" y1="117.2" x2="680.6" y2="117.2" stroke="#8c8c8c" stroke-width="0.9" />
<line x1="543.6" y1="116.8" x2="546.6" y2="116.8" stroke="#9a9a9a" stroke-width="0.8" />
<text x="540.6" y="119.8" font-size="8.2" fill="#3a3a3a" text-anchor="end" letter-spacing="0.35">0</text>
<line x1="543.6" y1="98.96" x2="546.6" y2="98.96" stroke="#9a9a9a" stroke-width="0.8" />
<text x="540.6" y="101.96" font-size="8.2" fill="#3a3a3a" text-anchor="end" letter-spacing="0.35">20</text>
<line x1="543.6" y1="81.12" x2="546.6" y2="81.12" stroke="#9a9a9a" stroke-width="0.8" />
<text x="540.6" y="84.12" font-size="8.2" fill="#3a3a3a" text-anchor="end" letter-spacing="0.35">40</text>
<line x1="543.6" y1="63.28" x2="546.6" y2="63.28" stroke="#9a9a9a" stroke-width="0.8" />
<text x="540.6" y="66.28" font-size="8.2" fill="#3a3a3a" text-anchor="end" letter-spacing="0.35">60</text>
<line x1="543.6" y1="45.44" x2="546.6" y2="45.44" stroke="#9a9a9a" stroke-width="0.8" />
<text x="540.6" y="48.44" font-size="8.2" fill="#3a3a3a" text-anchor="end" letter-spacing="0.35">80</text>
<line x1="543.6" y1="27.6" x2="546.6" y2="27.6" stroke="#9a9a9a" stroke-width="0.8" />
<text x="540.6" y="30.6" font-size="8.2" fill="#3a3a3a" text-anchor="end" letter-spacing="0.35">100</text>
<line x1="547" y1="117.2" x2="547" y2="120.2" stroke="#9a9a9a" stroke-width="0.8" />
<text x="547" y="130.5" font-size="8.2" fill="#3a3a3a" text-anchor="middle" >0</text>
<line x1="569.22" y1="117.2" x2="569.22" y2="120.2" stroke="#9a9a9a" stroke-width="0.8" />
<text x="569.22" y="130.5" font-size="8.2" fill="#3a3a3a" text-anchor="middle" >1</text>
<line x1="591.43" y1="117.2" x2="591.43" y2="120.2" stroke="#9a9a9a" stroke-width="0.8" />
<text x="591.43" y="130.5" font-size="8.2" fill="#3a3a3a" text-anchor="middle" >2</text>
<line x1="613.65" y1="117.2" x2="613.65" y2="120.2" stroke="#9a9a9a" stroke-width="0.8" />
<text x="613.65" y="130.5" font-size="8.2" fill="#3a3a3a" text-anchor="middle" >3</text>
<line x1="635.87" y1="117.2" x2="635.87" y2="120.2" stroke="#9a9a9a" stroke-width="0.8" />
<text x="635.87" y="130.5" font-size="8.2" fill="#3a3a3a" text-anchor="middle" >4</text>
<line x1="658.08" y1="117.2" x2="658.08" y2="120.2" stroke="#9a9a9a" stroke-width="0.8" />
<text x="658.08" y="130.5" font-size="8.2" fill="#3a3a3a" text-anchor="middle" >5</text>
<line x1="680.3" y1="117.2" x2="680.3" y2="120.2" stroke="#9a9a9a" stroke-width="0.8" />
<text x="680.3" y="130.5" font-size="8.2" fill="#3a3a3a" text-anchor="middle" >6</text>
<text x="613.65" y="152.2" font-size="9.4" fill="#3a3a3a" text-anchor="middle" >Time (min)</text>
<text x="519.8" y="71.2" font-size="9.4" fill="#3a3a3a" text-anchor="middle" transform="rotate(-90 519.8 71.2)" >Percentage freezing (time)</text>
<text transform="translate(510.2 9.5) scale(1.06 1)" font-size="13.2" font-weight="bold" fill="#111">d</text>
<polyline points="547,116.8 569.22,110.11 591.43,106.99 613.65,104.76 635.87,102.53 658.08,101.19 680.3,102.53" fill="none" stroke="#4a4a4a" stroke-width="0.7"/>
<line x1="569.22" y1="108.77" x2="569.22" y2="111.45" stroke="#4a4a4a" stroke-width="0.6" />
<line x1="567.02" y1="108.77" x2="571.42" y2="108.77" stroke="#4a4a4a" stroke-width="0.6" />
<line x1="567.02" y1="111.45" x2="571.42" y2="111.45" stroke="#4a4a4a" stroke-width="0.6" />
<line x1="591.43" y1="105.65" x2="591.43" y2="108.33" stroke="#4a4a4a" stroke-width="0.6" />
<line x1="589.23" y1="105.65" x2="593.63" y2="105.65" stroke="#4a4a4a" stroke-width="0.6" />
<line x1="589.23" y1="108.33" x2="593.63" y2="108.33" stroke="#4a4a4a" stroke-width="0.6" />
<line x1="613.65" y1="102.97" x2="613.65" y2="106.54" stroke="#4a4a4a" stroke-width="0.6" />
<line x1="611.45" y1="102.97" x2="615.85" y2="102.97" stroke="#4a4a4a" stroke-width="0.6" />
<line x1="611.45" y1="106.54" x2="615.85" y2="106.54" stroke="#4a4a4a" stroke-width="0.6" />
<line x1="635.87" y1="99.41" x2="635.87" y2="105.65" stroke="#4a4a4a" stroke-width="0.6" />
<line x1="633.67" y1="99.41" x2="638.07" y2="99.41" stroke="#4a4a4a" stroke-width="0.6" />
<line x1="633.67" y1="105.65" x2="638.07" y2="105.65" stroke="#4a4a4a" stroke-width="0.6" />
<line x1="658.08" y1="99.41" x2="658.08" y2="102.97" stroke="#4a4a4a" stroke-width="0.6" />
<line x1="655.88" y1="99.41" x2="660.28" y2="99.41" stroke="#4a4a4a" stroke-width="0.6" />
<line x1="655.88" y1="102.97" x2="660.28" y2="102.97" stroke="#4a4a4a" stroke-width="0.6" />
<line x1="680.3" y1="100.74" x2="680.3" y2="104.31" stroke="#4a4a4a" stroke-width="0.6" />
<line x1="678.1" y1="100.74" x2="682.5" y2="100.74" stroke="#4a4a4a" stroke-width="0.6" />
<line x1="678.1" y1="104.31" x2="682.5" y2="104.31" stroke="#4a4a4a" stroke-width="0.6" />
<circle cx="547" cy="116.8" r="2.2" fill="#ea4b52" stroke="#6b1a20" stroke-width="0.5" />
<circle cx="569.22" cy="110.11" r="2.2" fill="#ea4b52" stroke="#6b1a20" stroke-width="0.5" />
<circle cx="591.43" cy="106.99" r="2.2" fill="#ea4b52" stroke="#6b1a20" stroke-width="0.5" />
<circle cx="613.65" cy="104.76" r="2.2" fill="#ea4b52" stroke="#6b1a20" stroke-width="0.5" />
<circle cx="635.87" cy="102.53" r="2.2" fill="#ea4b52" stroke="#6b1a20" stroke-width="0.5" />
<circle cx="658.08" cy="101.19" r="2.2" fill="#ea4b52" stroke="#6b1a20" stroke-width="0.5" />
<circle cx="680.3" cy="102.53" r="2.2" fill="#ea4b52" stroke="#6b1a20" stroke-width="0.5" />
<polyline points="547,116.8 569.22,95.39 591.43,87.36 613.65,85.58 635.87,79.34 658.08,74.88 680.3,73.98" fill="none" stroke="#4a4a4a" stroke-width="0.7"/>
<line x1="569.22" y1="90.49" x2="569.22" y2="100.3" stroke="#4a4a4a" stroke-width="0.6" />
<line x1="567.02" y1="90.49" x2="571.42" y2="90.49" stroke="#4a4a4a" stroke-width="0.6" />
<line x1="567.02" y1="100.3" x2="571.42" y2="100.3" stroke="#4a4a4a" stroke-width="0.6" />
<line x1="591.43" y1="82.46" x2="591.43" y2="92.27" stroke="#4a4a4a" stroke-width="0.6" />
<line x1="589.23" y1="82.46" x2="593.63" y2="82.46" stroke="#4a4a4a" stroke-width="0.6" />
<line x1="589.23" y1="92.27" x2="593.63" y2="92.27" stroke="#4a4a4a" stroke-width="0.6" />
<line x1="613.65" y1="80.67" x2="613.65" y2="90.49" stroke="#4a4a4a" stroke-width="0.6" />
<line x1="611.45" y1="80.67" x2="615.85" y2="80.67" stroke="#4a4a4a" stroke-width="0.6" />
<line x1="611.45" y1="90.49" x2="615.85" y2="90.49" stroke="#4a4a4a" stroke-width="0.6" />
<line x1="635.87" y1="74.88" x2="635.87" y2="83.8" stroke="#4a4a4a" stroke-width="0.6" />
<line x1="633.67" y1="74.88" x2="638.07" y2="74.88" stroke="#4a4a4a" stroke-width="0.6" />
<line x1="633.67" y1="83.8" x2="638.07" y2="83.8" stroke="#4a4a4a" stroke-width="0.6" />
<line x1="658.08" y1="69.52" x2="658.08" y2="80.23" stroke="#4a4a4a" stroke-width="0.6" />
<line x1="655.88" y1="69.52" x2="660.28" y2="69.52" stroke="#4a4a4a" stroke-width="0.6" />
<line x1="655.88" y1="80.23" x2="660.28" y2="80.23" stroke="#4a4a4a" stroke-width="0.6" />
<line x1="680.3" y1="69.52" x2="680.3" y2="78.44" stroke="#4a4a4a" stroke-width="0.6" />
<line x1="678.1" y1="69.52" x2="682.5" y2="69.52" stroke="#4a4a4a" stroke-width="0.6" />
<line x1="678.1" y1="78.44" x2="682.5" y2="78.44" stroke="#4a4a4a" stroke-width="0.6" />
<rect x="544.75" y="114.55" width="4.5" height="4.5" fill="#2f6cb5" stroke="#1b3f73" stroke-width="0.5" />
<rect x="566.97" y="93.14" width="4.5" height="4.5" fill="#2f6cb5" stroke="#1b3f73" stroke-width="0.5" />
<rect x="589.18" y="85.11" width="4.5" height="4.5" fill="#2f6cb5" stroke="#1b3f73" stroke-width="0.5" />
<rect x="611.4" y="83.33" width="4.5" height="4.5" fill="#2f6cb5" stroke="#1b3f73" stroke-width="0.5" />
<rect x="633.62" y="77.09" width="4.5" height="4.5" fill="#2f6cb5" stroke="#1b3f73" stroke-width="0.5" />
<rect x="655.83" y="72.63" width="4.5" height="4.5" fill="#2f6cb5" stroke="#1b3f73" stroke-width="0.5" />
<rect x="678.05" y="71.73" width="4.5" height="4.5" fill="#2f6cb5" stroke="#1b3f73" stroke-width="0.5" />
<circle cx="547" cy="116.8" r="2.2" fill="#ea4b52" stroke="#6b1a20" stroke-width="0.5" />
<circle cx="569.22" cy="110.11" r="2.2" fill="#ea4b52" stroke="#6b1a20" stroke-width="0.5" />
<circle cx="591.43" cy="106.99" r="2.2" fill="#ea4b52" stroke="#6b1a20" stroke-width="0.5" />
<circle cx="613.65" cy="104.76" r="2.2" fill="#ea4b52" stroke="#6b1a20" stroke-width="0.5" />
<circle cx="635.87" cy="102.53" r="2.2" fill="#ea4b52" stroke="#6b1a20" stroke-width="0.5" />
<circle cx="658.08" cy="101.19" r="2.2" fill="#ea4b52" stroke="#6b1a20" stroke-width="0.5" />
<circle cx="680.3" cy="102.53" r="2.2" fill="#ea4b52" stroke="#6b1a20" stroke-width="0.5" />
<line x1="553.5" y1="24.4" x2="561.9" y2="24.4" stroke="#555" stroke-width="0.6" />
<circle cx="557.7" cy="24.4" r="2.2" fill="#ea4b52" stroke="#6b1a20" stroke-width="0.5" />
<line x1="553.5" y1="35.5" x2="561.9" y2="35.5" stroke="#555" stroke-width="0.6" />
<rect x="555.45" y="33.25" width="4.5" height="4.5" fill="#2f6cb5" stroke="#1b3f73" stroke-width="0.5" />
<text x="566.8" y="27.2" font-size="8" fill="#3a3a3a" >4s2/FAD</text>
<text x="566.8" y="38.3" font-size="8" fill="#3a3a3a" >4s2<tspan dy="-2.8" font-size="60%">A</tspan><tspan dy="2.8" dx="0.5">/FAD</tspan></text>
<path d="M552.85 45 h2.9 l3.7 -2.25 v8.9 l-3.7 -2.25 h-2.9 z" fill="#fff" stroke="#3c3c3c" stroke-width="0.75" stroke-linejoin="miter"/>
<path d="M562.55 42.95 q-2.3 4.25 0 8.5" fill="none" stroke="#3c3c3c" stroke-width="0.7" />
<path d="M564.15 42.95 q-2.1 4.25 0 8.5" fill="none" stroke="#3c3c3c" stroke-width="0.7" />
<text x="566.9" y="50" font-size="7.8" fill="#3a3a3a" >Cue</text>
<path d="M618.65 134.9 h2.9 l3.7 -2.25 v8.9 l-3.7 -2.25 h-2.9 z" fill="#fff" stroke="#3c3c3c" stroke-width="0.75" stroke-linejoin="miter"/>
<path d="M628.35 132.85 q-2.3 4.25 0 8.5" fill="none" stroke="#3c3c3c" stroke-width="0.7" />
<path d="M629.95 132.85 q-2.1 4.25 0 8.5" fill="none" stroke="#3c3c3c" stroke-width="0.7" />
<path d="M641.35 134.9 h2.9 l3.7 -2.25 v8.9 l-3.7 -2.25 h-2.9 z" fill="#fff" stroke="#3c3c3c" stroke-width="0.75" stroke-linejoin="miter"/>
<path d="M651.05 132.85 q-2.3 4.25 0 8.5" fill="none" stroke="#3c3c3c" stroke-width="0.7" />
<path d="M652.65 132.85 q-2.1 4.25 0 8.5" fill="none" stroke="#3c3c3c" stroke-width="0.7" />
<path d="M664.35 134.9 h2.9 l3.7 -2.25 v8.9 l-3.7 -2.25 h-2.9 z" fill="#fff" stroke="#3c3c3c" stroke-width="0.75" stroke-linejoin="miter"/>
<path d="M674.05 132.85 q-2.3 4.25 0 8.5" fill="none" stroke="#3c3c3c" stroke-width="0.7" />
<path d="M675.65 132.85 q-2.1 4.25 0 8.5" fill="none" stroke="#3c3c3c" stroke-width="0.7" />
<text x="569.5" y="77.3" font-size="11" fill="#3a3a3a" text-anchor="middle" letter-spacing="0.35" stroke="#3a3a3a" stroke-width="0.25">***</text>
<line x1="590.2" y1="64.6" x2="625" y2="64.6" stroke="#555" stroke-width="0.6" />
<line x1="647" y1="64.6" x2="683.6" y2="64.6" stroke="#555" stroke-width="0.6" />
<line x1="590.2" y1="62.9" x2="590.2" y2="66.3" stroke="#555" stroke-width="0.6" />
<line x1="683.6" y1="62.9" x2="683.6" y2="66.3" stroke="#555" stroke-width="0.6" />
<text x="636.2" y="71.4" font-size="11" fill="#3a3a3a" text-anchor="middle" letter-spacing="0.35" stroke="#3a3a3a" stroke-width="0.25">****</text>
<text transform="translate(1.7 179.6) scale(1.06 1)" font-size="13.2" font-weight="bold" fill="#111">e</text>
<defs>
<filter id="rn1" x="0" y="0" width="100%" height="100%" color-interpolation-filters="sRGB"><feTurbulence type="fractalNoise" baseFrequency="0.55" numOctaves="3" seed="4"/><feColorMatrix type="matrix" values="0 0 0 0 0.50  0 0 0 0 0.03  0 0 0 0 0.10  2.2 0 0 0 -0.95"/></filter>
<filter id="rn2" x="0" y="0" width="100%" height="100%" color-interpolation-filters="sRGB"><feTurbulence type="fractalNoise" baseFrequency="0.7" numOctaves="2" seed="9"/><feColorMatrix type="matrix" values="0 0 0 0 0  0 0 0 0 0  0 0 0 0 0.02  0 2.8 0 0 -1.2"/></filter>
<filter id="b1"><feGaussianBlur stdDeviation="0.6"/></filter>
<filter id="b2"><feGaussianBlur stdDeviation="2.2"/></filter>
<filter id="b3"><feGaussianBlur stdDeviation="1.1"/></filter>
<clipPath id="ce1"><rect x="31.9" y="177.4" width="121.3" height="121.2"/></clipPath>
<clipPath id="ce3"><rect x="297" y="177.4" width="122.4" height="121.2"/></clipPath>
<clipPath id="ce4"><rect x="419.4" y="177.4" width="122" height="121.2"/></clipPath>
</defs>
<rect x="15.5" y="177.4" width="15.8" height="121.2" fill="#e98a93" stroke="#5a4447" stroke-width="0.55" />
<text x="26.3" y="238" font-size="8.6" fill="#333" text-anchor="middle" transform="rotate(-90 26.3 238)" >APOE4s2/FAD</text>
<g clip-path="url(#ce1)">
<rect x="31.9" y="177.4" width="121.3" height="121.2" fill="#520918" />
<rect x="31.9" y="177.4" width="121.3" height="121.2" fill="#000" filter="url(#rn1)"/>
<path d="M33.8 288.85 C35.06 285.06 38.22 272.88 41.39 266.08 C44.55 259.28 48.34 254.54 52.77 248.06 C57.2 241.57 62.26 233.03 67.95 227.18 C73.64 221.33 79.97 216.43 86.93 212.95 C93.88 209.47 102.11 206.78 109.7 206.31 C117.29 205.83 124.88 207.26 132.47 210.1 C140.06 212.95 151.44 221.17 155.24 223.39" fill="none" stroke="#0a0003" stroke-width="8" filter="url(#b2)" opacity="0.7"/>
<path d="M141.01 207.26 C143.92 205.68 154.45 202.2 157.13 206.31 C159.82 210.42 159.03 228.86 157.13 231.93 C155.24 234.99 148.66 227.4 145.75 224.72 C142.84 222.03 140.47 218.71 139.68 215.8 C138.89 212.89 138.1 208.84 141.01 207.26Z" fill="#0a0003" filter="url(#b3)" opacity="0.8"/>
<path d="M157.13 233.82 C154.92 230.34 147.96 231.77 143.85 230.03 C139.74 228.29 136.26 225.44 132.47 223.39 C128.67 221.33 124.88 219.12 121.08 217.69 C117.29 216.27 113.49 215.16 109.7 214.85 C105.9 214.53 102.11 214.69 98.31 215.8 C94.52 216.9 90.72 219.12 86.93 221.49 C83.13 223.86 79.02 226.71 75.54 230.03 C72.06 233.35 68.27 237.93 66.05 241.41 C63.84 244.89 62.57 248.06 62.26 250.9 C61.94 253.75 62.73 256.44 64.16 258.49 C65.58 260.55 67.95 261.97 70.8 263.24 C73.64 264.5 75.38 265.77 81.23 266.08 C87.08 266.4 97.99 265.61 105.9 265.13 C113.81 264.66 122.35 264.34 128.67 263.24 C135 262.13 139.11 260.55 143.85 258.49 C148.6 256.44 154.92 255.01 157.13 250.9 C159.35 246.79 159.35 237.3 157.13 233.82Z" fill="#0a0003" filter="url(#b3)" opacity="0.5"/>
<path d="M56.57 256.59 C57.2 253.59 57.51 244.2 60.36 238.57 C63.21 232.94 68.27 227.34 73.64 222.82 C79.02 218.3 85.66 213.8 92.62 211.43 C99.58 209.06 108.12 207.86 115.39 208.59 C122.66 209.31 129.62 212.7 136.26 215.8 C142.9 218.9 152.07 225.28 155.24 227.18" fill="none" stroke="#0a0003" stroke-width="3.4" filter="url(#b3)" opacity="0.6"/>
<path d="M75.54 270.83 C78.39 271.14 85.98 272.72 92.62 272.72 C99.26 272.72 108.12 271.77 115.39 270.83 C122.66 269.88 129.62 269.34 136.26 267.03 C142.9 264.72 152.07 258.65 155.24 256.97" fill="none" stroke="#0a0003" stroke-width="4" filter="url(#b3)" opacity="0.55"/>
<path d="M111.59 281.26 C114.44 277.15 123.3 277.47 128.67 277.47 C134.05 277.47 139.11 281.89 143.85 281.26 C148.6 280.63 154.92 270.19 157.13 273.67 C159.35 277.15 164.72 297.39 157.13 302.13 C149.54 306.88 119.18 305.61 111.59 302.13 C104 298.66 108.75 285.37 111.59 281.26Z" fill="#0a0003" filter="url(#b2)" opacity="0.3"/>
<path d="M31.9 197.77 C34.11 196.19 40.44 190.97 45.18 188.28 C49.92 185.59 54.98 183.48 60.36 181.64 C65.74 179.81 74.59 178 77.44 177.28" fill="none" stroke="#a0142a" stroke-width="1" filter="url(#b1)" opacity="0.75"/>
<path d="M155.24 232.31 C153.34 231.93 147.65 231.42 143.85 230.03 C140.06 228.64 136.26 225.92 132.47 223.96 C128.67 222 124.88 219.72 121.08 218.26 C117.29 216.81 113.49 215.61 109.7 215.23 C105.9 214.85 102.11 214.94 98.31 215.99 C94.52 217.03 90.72 219.09 86.93 221.49 C83.13 223.89 78.86 227.09 75.54 230.41 C72.22 233.73 69.09 238 67 241.41 C64.91 244.83 63.43 248.06 63.02 250.9 C62.61 253.75 63.24 256.44 64.54 258.49 C65.83 260.55 68.01 261.97 70.8 263.24 C73.58 264.5 77.6 265.54 81.23 266.08 C84.87 266.62 90.72 266.4 92.62 266.46" fill="none" stroke="#8a0c1e" stroke-width="3" filter="url(#b3)" opacity="0.45"/>
<path d="M155.24 232.31 C153.34 231.93 147.65 231.42 143.85 230.03 C140.06 228.64 136.26 225.92 132.47 223.96 C128.67 222 124.88 219.72 121.08 218.26 C117.29 216.81 113.49 215.61 109.7 215.23 C105.9 214.85 102.11 214.94 98.31 215.99 C94.52 217.03 90.72 219.09 86.93 221.49 C83.13 223.89 78.86 227.09 75.54 230.41 C72.22 233.73 69.09 238 67 241.41 C64.91 244.83 63.43 248.06 63.02 250.9 C62.61 253.75 63.24 256.44 64.54 258.49 C65.83 260.55 68.01 261.97 70.8 263.24 C73.58 264.5 77.6 265.54 81.23 266.08 C84.87 266.62 90.72 266.4 92.62 266.46" fill="none" stroke="#a41024" stroke-width="1.6" filter="url(#b1)" stroke-linecap="round"/>
<path d="M95.46 246.16 C96.57 245.62 99.73 243.82 102.11 242.93 C104.48 242.05 106.85 240.94 109.7 240.84 C112.54 240.75 116.02 241.57 119.18 242.36 C122.35 243.15 125.67 244.42 128.67 245.59 C131.68 246.76 135.38 248.18 137.21 249.38 C139.04 250.59 139.99 251.79 139.68 252.8 C139.36 253.81 137.78 255.14 135.31 255.46 C132.85 255.77 128.04 254.63 124.88 254.7 C121.71 254.76 118.8 254.98 116.34 255.83 C113.87 256.69 111.12 259.16 110.08 259.82" fill="none" stroke="#8a0c1e" stroke-width="3.2" filter="url(#b3)" opacity="0.45"/>
<path d="M95.46 246.16 C96.57 245.62 99.73 243.82 102.11 242.93 C104.48 242.05 106.85 240.94 109.7 240.84 C112.54 240.75 116.02 241.57 119.18 242.36 C122.35 243.15 125.67 244.42 128.67 245.59 C131.68 246.76 135.38 248.18 137.21 249.38 C139.04 250.59 139.99 251.79 139.68 252.8 C139.36 253.81 137.78 255.14 135.31 255.46 C132.85 255.77 128.04 254.63 124.88 254.7 C121.71 254.76 118.8 254.98 116.34 255.83 C113.87 256.69 111.12 259.16 110.08 259.82" fill="none" stroke="#b01226" stroke-width="1.8" filter="url(#b1)" stroke-linecap="round"/>
<path d="M54.29 264.56 C54.83 265.92 56.57 270.1 57.51 272.72 C58.46 275.35 59.44 277.94 59.98 280.31 C60.52 282.69 60.61 285.85 60.74 286.95" fill="none" stroke="#16020a" stroke-width="1.8" filter="url(#b1)"/>
<path d="M52.39 264.18 C52.87 265.45 54.29 268.93 55.24 271.77 C56.19 274.62 57.32 278.42 58.08 281.26 C58.84 284.11 59.51 287.59 59.79 288.85" fill="none" stroke="#c0142a" stroke-width="0.6" filter="url(#b1)"/>
<path d="M119.18 226.23 C119.5 226.87 121.08 228.61 121.08 230.03 C121.08 231.45 119.5 233.98 119.18 234.77" fill="none" stroke="#b0142a" stroke-width="0.5" filter="url(#b1)"/>
<circle cx="86.99" cy="245.24" r="0.58" fill="#3f6f96" opacity="0.73"/><circle cx="135.68" cy="200.42" r="0.54" fill="#3f6f96" opacity="0.81"/><circle cx="128.17" cy="188.81" r="0.39" fill="#5f8fb3" opacity="0.77"/><circle cx="139.95" cy="254.3" r="0.48" fill="#3f6f96" opacity="0.98"/><circle cx="111.36" cy="252.01" r="0.35" fill="#5f8fb3" opacity="0.92"/><circle cx="39.94" cy="181.72" r="0.56" fill="#5f8fb3" opacity="0.89"/><circle cx="71.75" cy="249.02" r="0.36" fill="#4f7fa6" opacity="0.82"/><circle cx="92.72" cy="257.69" r="0.44" fill="#7fa9c9" opacity="0.7"/><circle cx="98.95" cy="290.32" r="0.32" fill="#7fa9c9" opacity="0.66"/><circle cx="60.07" cy="212.43" r="0.32" fill="#5f8fb3" opacity="0.7"/><circle cx="134.65" cy="224.25" r="0.59" fill="#5f8fb3" opacity="0.61"/><circle cx="144.38" cy="183.74" r="0.41" fill="#3f6f96" opacity="0.71"/><circle cx="100.76" cy="201.46" r="0.5" fill="#7fa9c9" opacity="0.54"/><circle cx="72.51" cy="294.25" r="0.53" fill="#5f8fb3" opacity="0.57"/><circle cx="117.78" cy="178.73" r="0.44" fill="#3f6f96" opacity="0.59"/><circle cx="99.92" cy="231.63" r="0.36" fill="#4f7fa6" opacity="0.71"/><circle cx="78.7" cy="225.26" r="0.6" fill="#5f8fb3" opacity="0.63"/><circle cx="149.69" cy="274.77" r="0.39" fill="#5f8fb3" opacity="0.61"/><circle cx="79.97" cy="280.95" r="0.49" fill="#5f8fb3" opacity="0.52"/><circle cx="49.99" cy="230.91" r="0.3" fill="#7fa9c9" opacity="0.92"/><circle cx="78.99" cy="186.4" r="0.36" fill="#4f7fa6" opacity="0.51"/><circle cx="76.87" cy="252.8" r="0.34" fill="#3f6f96" opacity="0.92"/><circle cx="48.71" cy="224.19" r="0.49" fill="#7fa9c9" opacity="0.95"/><circle cx="131.17" cy="207.64" r="0.36" fill="#4f7fa6" opacity="0.84"/><circle cx="79.23" cy="235.88" r="0.32" fill="#5f8fb3" opacity="0.55"/><circle cx="36.98" cy="294.08" r="0.37" fill="#3f6f96" opacity="0.63"/><circle cx="131.89" cy="249.69" r="0.39" fill="#4f7fa6" opacity="0.96"/><circle cx="150.44" cy="192.72" r="0.44" fill="#5f8fb3" opacity="0.64"/><circle cx="143.21" cy="202.12" r="0.3" fill="#7fa9c9" opacity="0.71"/><circle cx="62.41" cy="183.05" r="0.38" fill="#4f7fa6" opacity="0.55"/><circle cx="49.03" cy="231.98" r="0.4" fill="#4f7fa6" opacity="0.79"/><circle cx="143.96" cy="234.94" r="0.41" fill="#7fa9c9" opacity="0.98"/><circle cx="34.87" cy="254.51" r="0.44" fill="#7fa9c9" opacity="0.66"/><circle cx="153.12" cy="186.52" r="0.46" fill="#5f8fb3" opacity="0.95"/><circle cx="121.41" cy="262.69" r="0.54" fill="#7fa9c9" opacity="0.68"/><circle cx="115.13" cy="286.58" r="0.56" fill="#3f6f96" opacity="0.97"/><circle cx="35.96" cy="237.99" r="0.3" fill="#3f6f96" opacity="0.69"/><circle cx="33.8" cy="186.16" r="0.33" fill="#5f8fb3" opacity="1"/><circle cx="138.67" cy="265.66" r="0.42" fill="#3f6f96" opacity="0.72"/><circle cx="133.66" cy="187.55" r="0.53" fill="#5f8fb3" opacity="0.66"/><circle cx="42.91" cy="180.1" r="0.59" fill="#5f8fb3" opacity="0.75"/><circle cx="106.59" cy="288.96" r="0.38" fill="#5f8fb3" opacity="0.68"/><circle cx="49.62" cy="251.55" r="0.46" fill="#7fa9c9" opacity="0.83"/><circle cx="85.73" cy="285.48" r="0.4" fill="#7fa9c9" opacity="0.6"/><circle cx="84.4" cy="275.09" r="0.57" fill="#4f7fa6" opacity="0.69"/><circle cx="102.8" cy="215.76" r="0.34" fill="#3f6f96" opacity="0.68"/><circle cx="140.58" cy="182.32" r="0.32" fill="#7fa9c9" opacity="0.91"/><circle cx="45.94" cy="234.53" r="0.58" fill="#3f6f96" opacity="0.69"/><circle cx="95.17" cy="258.86" r="0.51" fill="#3f6f96" opacity="0.66"/><circle cx="132.49" cy="211.11" r="0.48" fill="#7fa9c9" opacity="0.79"/><circle cx="69.66" cy="273.33" r="0.31" fill="#4f7fa6" opacity="0.7"/><circle cx="55.26" cy="270.63" r="0.38" fill="#4f7fa6" opacity="0.9"/><circle cx="151.27" cy="191.37" r="0.33" fill="#7fa9c9" opacity="0.98"/><circle cx="115.06" cy="201.56" r="0.44" fill="#4f7fa6" opacity="0.86"/><circle cx="123.59" cy="242.22" r="0.31" fill="#4f7fa6" opacity="0.64"/><circle cx="74.1" cy="261.91" r="0.46" fill="#4f7fa6" opacity="0.7"/><circle cx="128.04" cy="287.24" r="0.33" fill="#3f6f96" opacity="0.56"/><circle cx="87.13" cy="253.22" r="0.57" fill="#3f6f96" opacity="0.78"/><circle cx="111.21" cy="238.32" r="0.55" fill="#7fa9c9" opacity="0.73"/><circle cx="111.04" cy="202.23" r="0.52" fill="#5f8fb3" opacity="0.61"/><circle cx="141.11" cy="296.24" r="0.59" fill="#7fa9c9" opacity="0.63"/><circle cx="119.14" cy="179.3" r="0.45" fill="#5f8fb3" opacity="0.72"/><circle cx="98.83" cy="270.51" r="0.45" fill="#5f8fb3" opacity="0.61"/><circle cx="137.19" cy="229.39" r="0.31" fill="#7fa9c9" opacity="0.84"/><circle cx="143.05" cy="234.43" r="0.6" fill="#3f6f96" opacity="0.97"/><circle cx="91.85" cy="292.44" r="0.33" fill="#4f7fa6" opacity="0.72"/><circle cx="99.86" cy="278.14" r="0.47" fill="#4f7fa6" opacity="0.76"/><circle cx="134.29" cy="245.27" r="0.39" fill="#3f6f96" opacity="0.98"/><circle cx="137.49" cy="251.26" r="0.39" fill="#4f7fa6" opacity="0.98"/><circle cx="95.68" cy="246.85" r="0.36" fill="#5f8fb3" opacity="0.75"/><circle cx="105.47" cy="180.76" r="0.59" fill="#3f6f96" opacity="0.77"/><circle cx="151.92" cy="192.18" r="0.33" fill="#4f7fa6" opacity="0.53"/><circle cx="97.43" cy="227.55" r="0.59" fill="#3f6f96" opacity="0.63"/><circle cx="89.51" cy="192.79" r="0.43" fill="#3f6f96" opacity="0.76"/><circle cx="45.43" cy="228.25" r="0.31" fill="#7fa9c9" opacity="0.56"/><circle cx="126.52" cy="180.16" r="0.36" fill="#4f7fa6" opacity="0.51"/><circle cx="66.65" cy="265.1" r="0.37" fill="#3f6f96" opacity="0.55"/><circle cx="120.67" cy="192.28" r="0.45" fill="#7fa9c9" opacity="0.86"/><circle cx="117.1" cy="283.9" r="0.31" fill="#3f6f96" opacity="0.91"/><circle cx="106.75" cy="242.63" r="0.56" fill="#4f7fa6" opacity="0.76"/><circle cx="135.22" cy="251.54" r="0.56" fill="#4f7fa6" opacity="0.96"/><circle cx="108.21" cy="219.53" r="0.35" fill="#7fa9c9" opacity="0.95"/><circle cx="55.84" cy="271.73" r="0.36" fill="#5f8fb3" opacity="0.57"/><circle cx="61.24" cy="265.46" r="0.38" fill="#5f8fb3" opacity="0.72"/><circle cx="146.09" cy="243.25" r="0.51" fill="#4f7fa6" opacity="0.7"/><circle cx="115.14" cy="179.55" r="0.36" fill="#7fa9c9" opacity="0.96"/><circle cx="149.38" cy="191.39" r="0.45" fill="#7fa9c9" opacity="0.75"/><circle cx="115.2" cy="200.31" r="0.32" fill="#5f8fb3" opacity="0.51"/><circle cx="124.43" cy="251.74" r="0.57" fill="#3f6f96" opacity="0.57"/><circle cx="54.61" cy="202.11" r="0.55" fill="#7fa9c9" opacity="0.96"/><circle cx="43.82" cy="184.91" r="0.59" fill="#3f6f96" opacity="0.54"/><circle cx="43.99" cy="224.78" r="0.43" fill="#7fa9c9" opacity="0.72"/><circle cx="104.95" cy="179.01" r="0.51" fill="#4f7fa6" opacity="0.59"/><circle cx="87.18" cy="267.01" r="0.42" fill="#4f7fa6" opacity="0.8"/><circle cx="43.76" cy="273.43" r="0.4" fill="#5f8fb3" opacity="0.9"/><circle cx="117.49" cy="281.72" r="0.49" fill="#3f6f96" opacity="0.78"/><circle cx="55.39" cy="248.26" r="0.4" fill="#7fa9c9" opacity="0.64"/><circle cx="46.36" cy="267.45" r="0.35" fill="#3f6f96" opacity="0.57"/><circle cx="72.19" cy="242.71" r="0.41" fill="#3f6f96" opacity="0.88"/><circle cx="81.35" cy="264.98" r="0.32" fill="#7fa9c9" opacity="0.65"/><circle cx="44.49" cy="285.03" r="0.6" fill="#5f8fb3" opacity="0.62"/><circle cx="146.51" cy="258.13" r="0.4" fill="#3f6f96" opacity="0.78"/><circle cx="96.75" cy="224.62" r="0.6" fill="#4f7fa6" opacity="0.85"/><circle cx="124.39" cy="296.19" r="0.31" fill="#5f8fb3" opacity="0.87"/><circle cx="63.33" cy="226.07" r="0.32" fill="#4f7fa6" opacity="0.82"/><circle cx="33.6" cy="208.74" r="0.38" fill="#7fa9c9" opacity="0.78"/><circle cx="93.7" cy="294.62" r="0.47" fill="#5f8fb3" opacity="0.82"/><circle cx="130.17" cy="186.63" r="0.48" fill="#5f8fb3" opacity="0.69"/><circle cx="145.78" cy="224.17" r="0.59" fill="#3f6f96" opacity="0.77"/><circle cx="104.42" cy="229.46" r="0.45" fill="#7fa9c9" opacity="0.76"/><circle cx="104.58" cy="221.71" r="0.39" fill="#7fa9c9" opacity="0.78"/><circle cx="66.58" cy="264.25" r="0.39" fill="#5f8fb3" opacity="0.89"/><circle cx="103.12" cy="254.12" r="0.42" fill="#3f6f96" opacity="0.53"/><circle cx="70.4" cy="225.61" r="0.47" fill="#7fa9c9" opacity="0.54"/><circle cx="141.78" cy="229.46" r="0.44" fill="#4f7fa6" opacity="0.52"/><circle cx="44.21" cy="275.59" r="0.57" fill="#4f7fa6" opacity="0.99"/><circle cx="131.04" cy="250.56" r="0.33" fill="#3f6f96" opacity="0.73"/><circle cx="56.92" cy="183.71" r="0.46" fill="#5f8fb3" opacity="0.68"/><circle cx="49.2" cy="227.94" r="0.48" fill="#3f6f96" opacity="0.68"/><circle cx="122.23" cy="276.19" r="0.34" fill="#7fa9c9" opacity="0.87"/><circle cx="61.12" cy="191.2" r="0.57" fill="#7fa9c9" opacity="0.64"/><circle cx="106.03" cy="265.28" r="0.51" fill="#4f7fa6" opacity="0.82"/><circle cx="123.38" cy="200.41" r="0.37" fill="#4f7fa6" opacity="0.94"/><circle cx="37.08" cy="184.77" r="0.38" fill="#3f6f96" opacity="0.51"/><circle cx="36.9" cy="204.37" r="0.38" fill="#5f8fb3" opacity="0.96"/><circle cx="51.75" cy="205.85" r="0.59" fill="#3f6f96" opacity="0.74"/><circle cx="57.77" cy="219.06" r="0.52" fill="#5f8fb3" opacity="0.9"/><circle cx="86.38" cy="277.03" r="0.55" fill="#4f7fa6" opacity="0.72"/><circle cx="122.65" cy="224.68" r="0.35" fill="#4f7fa6" opacity="0.83"/><circle cx="151.89" cy="216.84" r="0.46" fill="#4f7fa6" opacity="0.71"/><circle cx="76.94" cy="189.16" r="0.56" fill="#5f8fb3" opacity="0.77"/><circle cx="84.53" cy="246.24" r="0.54" fill="#3f6f96" opacity="0.65"/><circle cx="126.06" cy="186.62" r="0.36" fill="#5f8fb3" opacity="0.85"/><circle cx="92.12" cy="270.01" r="0.4" fill="#4f7fa6" opacity="0.61"/><circle cx="111.76" cy="217.04" r="0.57" fill="#7fa9c9" opacity="0.85"/><circle cx="101.13" cy="288.73" r="0.58" fill="#7fa9c9" opacity="0.72"/><circle cx="129.39" cy="214.34" r="0.4" fill="#3f6f96" opacity="0.98"/><circle cx="120.53" cy="239.96" r="0.33" fill="#7fa9c9" opacity="0.51"/><circle cx="114.15" cy="248.28" r="0.54" fill="#7fa9c9" opacity="0.9"/><circle cx="97.65" cy="278.77" r="0.47" fill="#4f7fa6" opacity="0.54"/><circle cx="87.23" cy="280.99" r="0.54" fill="#4f7fa6" opacity="0.76"/><circle cx="98.09" cy="246.18" r="0.59" fill="#3f6f96" opacity="0.53"/><circle cx="98.41" cy="272.91" r="0.33" fill="#5f8fb3" opacity="0.64"/><circle cx="45.04" cy="215.43" r="0.31" fill="#4f7fa6" opacity="0.55"/><circle cx="130.98" cy="228.55" r="0.51" fill="#3f6f96" opacity="0.88"/><circle cx="95.36" cy="270.08" r="0.42" fill="#7fa9c9" opacity="0.9"/><circle cx="72.56" cy="193.97" r="0.45" fill="#5f8fb3" opacity="0.85"/><circle cx="142.92" cy="227.17" r="0.55" fill="#7fa9c9" opacity="0.93"/><circle cx="129.73" cy="278.46" r="0.57" fill="#5f8fb3" opacity="0.76"/><circle cx="118.15" cy="274.63" r="0.43" fill="#3f6f96" opacity="0.96"/><circle cx="62.01" cy="197.07" r="0.49" fill="#4f7fa6" opacity="0.66"/><circle cx="79.37" cy="241.52" r="0.38" fill="#5f8fb3" opacity="0.74"/><circle cx="120.65" cy="214.18" r="0.35" fill="#4f7fa6" opacity="0.96"/><circle cx="123.35" cy="179.48" r="0.44" fill="#5f8fb3" opacity="0.66"/><circle cx="56.19" cy="220.95" r="0.48" fill="#3f6f96" opacity="0.8"/><circle cx="59.38" cy="199.82" r="0.38" fill="#4f7fa6" opacity="0.96"/><circle cx="145.63" cy="253.36" r="0.58" fill="#3f6f96" opacity="0.93"/><circle cx="90.91" cy="226.2" r="0.59" fill="#5f8fb3" opacity="0.74"/><circle cx="59.02" cy="183.42" r="0.58" fill="#3f6f96" opacity="0.99"/><circle cx="128.38" cy="271.23" r="0.54" fill="#5f8fb3" opacity="0.83"/><circle cx="61.03" cy="178.72" r="0.44" fill="#7fa9c9" opacity="0.73"/><circle cx="62.11" cy="228.48" r="0.56" fill="#3f6f96" opacity="0.58"/><circle cx="71.21" cy="208.84" r="0.56" fill="#4f7fa6" opacity="0.82"/><circle cx="152.37" cy="209.7" r="0.46" fill="#4f7fa6" opacity="0.79"/><circle cx="53.86" cy="202.16" r="0.57" fill="#4f7fa6" opacity="0.91"/><circle cx="42.27" cy="210.11" r="0.51" fill="#5f8fb3" opacity="0.94"/><circle cx="116.17" cy="187.44" r="0.52" fill="#7fa9c9" opacity="0.51"/><circle cx="55" cy="200.8" r="0.5" fill="#3f6f96" opacity="0.6"/><circle cx="97.99" cy="241.11" r="0.35" fill="#7fa9c9" opacity="0.66"/><circle cx="81.32" cy="244.83" r="0.6" fill="#5f8fb3" opacity="0.68"/><circle cx="115.37" cy="190.22" r="0.42" fill="#3f6f96" opacity="0.87"/><circle cx="127.14" cy="192.17" r="0.43" fill="#3f6f96" opacity="0.86"/><circle cx="89.76" cy="212.97" r="0.33" fill="#5f8fb3" opacity="0.93"/><circle cx="134.4" cy="264.57" r="0.57" fill="#4f7fa6" opacity="0.65"/><circle cx="77.76" cy="242.82" r="0.39" fill="#7fa9c9" opacity="0.88"/><circle cx="99.47" cy="187.94" r="0.36" fill="#3f6f96" opacity="0.87"/><circle cx="72.12" cy="291.94" r="0.47" fill="#7fa9c9" opacity="0.72"/><circle cx="78.54" cy="189.75" r="0.49" fill="#4f7fa6" opacity="0.84"/><circle cx="117.93" cy="199.2" r="0.42" fill="#3f6f96" opacity="0.8"/><circle cx="43.19" cy="204.86" r="0.35" fill="#5f8fb3" opacity="0.72"/><circle cx="125.54" cy="218.81" r="0.55" fill="#4f7fa6" opacity="0.82"/><circle cx="125.01" cy="276.92" r="0.42" fill="#7fa9c9" opacity="0.96"/><circle cx="107.62" cy="265.5" r="0.48" fill="#7fa9c9" opacity="0.99"/><circle cx="127.77" cy="257.42" r="0.48" fill="#5f8fb3" opacity="0.63"/><circle cx="55.12" cy="214.58" r="0.43" fill="#3f6f96" opacity="0.6"/><circle cx="72.53" cy="212.97" r="0.33" fill="#4f7fa6" opacity="0.63"/><circle cx="97.45" cy="213.58" r="0.37" fill="#4f7fa6" opacity="0.79"/><circle cx="56.26" cy="290.54" r="0.6" fill="#4f7fa6" opacity="0.78"/><circle cx="35.53" cy="257.32" r="0.53" fill="#4f7fa6" opacity="0.62"/><circle cx="102" cy="261.89" r="0.4" fill="#7fa9c9" opacity="0.63"/><circle cx="139.05" cy="232.22" r="0.52" fill="#4f7fa6" opacity="0.95"/><circle cx="98" cy="245.36" r="0.47" fill="#7fa9c9" opacity="0.58"/><circle cx="122.46" cy="286.11" r="0.4" fill="#4f7fa6" opacity="0.56"/><circle cx="132" cy="212.38" r="0.57" fill="#4f7fa6" opacity="0.88"/><circle cx="76.2" cy="197.5" r="0.48" fill="#5f8fb3" opacity="0.73"/><circle cx="81.07" cy="272.27" r="0.58" fill="#4f7fa6" opacity="0.65"/><circle cx="113.45" cy="266.81" r="0.41" fill="#5f8fb3" opacity="0.58"/><circle cx="82.11" cy="181.41" r="0.46" fill="#5f8fb3" opacity="0.78"/><circle cx="53.3" cy="240.4" r="0.38" fill="#7fa9c9" opacity="0.53"/><circle cx="127.08" cy="264.86" r="0.54" fill="#3f6f96" opacity="0.98"/><circle cx="104.85" cy="234.35" r="0.42" fill="#3f6f96" opacity="0.88"/><circle cx="91.03" cy="297.95" r="0.55" fill="#3f6f96" opacity="0.91"/><circle cx="46.49" cy="191.29" r="0.58" fill="#7fa9c9" opacity="0.76"/><circle cx="84.56" cy="287" r="0.4" fill="#5f8fb3" opacity="0.65"/><circle cx="106.8" cy="229.91" r="0.41" fill="#7fa9c9" opacity="0.88"/><circle cx="69.14" cy="249.32" r="0.32" fill="#5f8fb3" opacity="0.92"/><circle cx="61.6" cy="283.21" r="0.59" fill="#3f6f96" opacity="0.85"/><circle cx="95.92" cy="206.38" r="0.39" fill="#3f6f96" opacity="0.97"/><circle cx="138.66" cy="298.51" r="0.52" fill="#7fa9c9" opacity="0.93"/><circle cx="83.25" cy="275" r="0.37" fill="#3f6f96" opacity="0.78"/><circle cx="141.52" cy="189.35" r="0.54" fill="#5f8fb3" opacity="0.94"/><circle cx="101.92" cy="232.33" r="0.39" fill="#7fa9c9" opacity="0.51"/><circle cx="53.1" cy="230.82" r="0.44" fill="#3f6f96" opacity="0.57"/><circle cx="116" cy="205.37" r="0.39" fill="#3f6f96" opacity="0.95"/><circle cx="69.52" cy="237.81" r="0.58" fill="#3f6f96" opacity="0.94"/><circle cx="56.81" cy="281.51" r="0.51" fill="#5f8fb3" opacity="0.6"/><circle cx="133.6" cy="220.32" r="0.44" fill="#4f7fa6" opacity="0.82"/><circle cx="116.68" cy="245.25" r="0.46" fill="#4f7fa6" opacity="0.6"/><circle cx="138.71" cy="183.46" r="0.33" fill="#7fa9c9" opacity="0.98"/><circle cx="65.41" cy="228.35" r="0.56" fill="#7fa9c9" opacity="0.85"/><circle cx="145.68" cy="231.35" r="0.32" fill="#4f7fa6" opacity="0.93"/><circle cx="46.89" cy="261.17" r="0.38" fill="#4f7fa6" opacity="0.75"/><circle cx="68.02" cy="210.52" r="0.54" fill="#5f8fb3" opacity="0.79"/><circle cx="59.99" cy="213.87" r="0.58" fill="#4f7fa6" opacity="0.64"/><circle cx="109.67" cy="188.31" r="0.59" fill="#3f6f96" opacity="0.96"/><circle cx="41.22" cy="287.38" r="0.3" fill="#7fa9c9" opacity="0.77"/><circle cx="83.49" cy="246.31" r="0.35" fill="#4f7fa6" opacity="0.62"/><circle cx="66.04" cy="243.83" r="0.36" fill="#4f7fa6" opacity="0.99"/><circle cx="36.36" cy="233.35" r="0.53" fill="#3f6f96" opacity="0.5"/><circle cx="140.09" cy="184.7" r="0.32" fill="#7fa9c9" opacity="0.66"/><circle cx="90.75" cy="181.27" r="0.39" fill="#4f7fa6" opacity="0.8"/><circle cx="125.54" cy="190.99" r="0.43" fill="#3f6f96" opacity="0.77"/><circle cx="63.27" cy="264.19" r="0.52" fill="#7fa9c9" opacity="0.74"/><circle cx="59.05" cy="247.71" r="0.45" fill="#5f8fb3" opacity="0.6"/><circle cx="149.65" cy="183.76" r="0.43" fill="#4f7fa6" opacity="0.66"/><circle cx="105.84" cy="251.16" r="0.54" fill="#3f6f96" opacity="0.86"/><circle cx="135.87" cy="181.15" r="0.33" fill="#4f7fa6" opacity="0.78"/><circle cx="97.98" cy="273.34" r="0.37" fill="#4f7fa6" opacity="0.53"/><circle cx="83.73" cy="261.71" r="0.55" fill="#7fa9c9" opacity="0.88"/><circle cx="92.55" cy="256.19" r="0.45" fill="#3f6f96" opacity="0.63"/><circle cx="51.62" cy="261.11" r="0.55" fill="#3f6f96" opacity="0.53"/><circle cx="81.95" cy="221.57" r="0.36" fill="#5f8fb3" opacity="0.56"/><circle cx="123.63" cy="250.21" r="0.34" fill="#3f6f96" opacity="0.76"/><circle cx="151.46" cy="177.81" r="0.42" fill="#4f7fa6" opacity="0.55"/><circle cx="99.53" cy="234.59" r="0.58" fill="#5f8fb3" opacity="0.84"/><circle cx="118.99" cy="295.7" r="0.48" fill="#7fa9c9" opacity="0.63"/><circle cx="99.02" cy="206.69" r="0.44" fill="#4f7fa6" opacity="0.68"/><circle cx="73.05" cy="296.33" r="0.48" fill="#5f8fb3" opacity="0.58"/><circle cx="103.05" cy="297.96" r="0.52" fill="#4f7fa6" opacity="0.73"/><circle cx="79.81" cy="279.58" r="0.41" fill="#5f8fb3" opacity="0.61"/><circle cx="74.3" cy="199.65" r="0.46" fill="#4f7fa6" opacity="0.74"/><circle cx="80.69" cy="249.38" r="0.53" fill="#3f6f96" opacity="0.72"/><circle cx="152.39" cy="259.72" r="0.56" fill="#4f7fa6" opacity="0.77"/><circle cx="82.98" cy="183.12" r="0.38" fill="#7fa9c9" opacity="0.81"/><circle cx="95.04" cy="267.28" r="0.45" fill="#4f7fa6" opacity="0.63"/><circle cx="75.96" cy="196.01" r="0.58" fill="#7fa9c9" opacity="0.57"/><circle cx="61.42" cy="279.13" r="0.34" fill="#7fa9c9" opacity="0.92"/><circle cx="86.7" cy="280.97" r="0.41" fill="#7fa9c9" opacity="0.89"/><circle cx="95.08" cy="184.05" r="0.42" fill="#4f7fa6" opacity="0.74"/><circle cx="55" cy="239.68" r="0.34" fill="#4f7fa6" opacity="0.66"/><circle cx="83.57" cy="243.33" r="0.34" fill="#7fa9c9" opacity="0.66"/><circle cx="86.91" cy="223.09" r="0.56" fill="#7fa9c9" opacity="0.77"/><circle cx="86.63" cy="193.97" r="0.46" fill="#7fa9c9" opacity="0.61"/><circle cx="67.61" cy="219.21" r="0.36" fill="#5f8fb3" opacity="0.92"/><circle cx="122.62" cy="235.92" r="0.3" fill="#7fa9c9" opacity="0.83"/><circle cx="40.39" cy="280.78" r="0.47" fill="#7fa9c9" opacity="0.83"/><circle cx="147.78" cy="282.65" r="0.37" fill="#7fa9c9" opacity="0.54"/><circle cx="84.01" cy="224.96" r="0.32" fill="#3f6f96" opacity="0.97"/><circle cx="66.7" cy="262.64" r="0.37" fill="#3f6f96" opacity="0.6"/><circle cx="125.19" cy="219.91" r="0.51" fill="#5f8fb3" opacity="0.87"/><circle cx="142.02" cy="274.87" r="0.44" fill="#7fa9c9" opacity="0.85"/><circle cx="99.18" cy="262.26" r="0.31" fill="#3f6f96" opacity="0.56"/><circle cx="142.28" cy="287.99" r="0.38" fill="#3f6f96" opacity="0.75"/><circle cx="103.13" cy="234.24" r="0.4" fill="#7fa9c9" opacity="0.54"/><circle cx="36.57" cy="216.61" r="0.41" fill="#7fa9c9" opacity="0.63"/><circle cx="113.07" cy="199.94" r="0.44" fill="#7fa9c9" opacity="0.98"/><circle cx="76.14" cy="247.23" r="0.58" fill="#5f8fb3" opacity="0.81"/><circle cx="107.36" cy="227.21" r="0.42" fill="#7fa9c9" opacity="0.53"/><circle cx="88.39" cy="231.89" r="0.59" fill="#3f6f96" opacity="0.52"/><circle cx="48.72" cy="238.86" r="0.39" fill="#7fa9c9" opacity="0.74"/><circle cx="34.85" cy="250.78" r="0.38" fill="#7fa9c9" opacity="0.84"/><circle cx="60.66" cy="177.51" r="0.46" fill="#3f6f96" opacity="0.5"/><circle cx="98.43" cy="280.3" r="0.53" fill="#5f8fb3" opacity="0.81"/><circle cx="100.1" cy="278.13" r="0.59" fill="#7fa9c9" opacity="0.63"/><circle cx="44.86" cy="179.75" r="0.54" fill="#4f7fa6" opacity="0.85"/><circle cx="115.3" cy="294.23" r="0.55" fill="#4f7fa6" opacity="0.67"/><circle cx="115.63" cy="274.96" r="0.39" fill="#3f6f96" opacity="0.64"/><circle cx="122.85" cy="242.12" r="0.37" fill="#4f7fa6" opacity="0.68"/><circle cx="117.68" cy="288.59" r="0.52" fill="#5f8fb3" opacity="0.99"/><circle cx="131.18" cy="284.74" r="0.39" fill="#3f6f96" opacity="0.76"/><circle cx="114.42" cy="182.29" r="0.49" fill="#3f6f96" opacity="0.93"/><circle cx="38.76" cy="208.17" r="0.45" fill="#3f6f96" opacity="0.63"/><circle cx="109.04" cy="221.97" r="0.5" fill="#4f7fa6" opacity="0.67"/><circle cx="124.09" cy="279.54" r="0.55" fill="#3f6f96" opacity="0.82"/><circle cx="47.48" cy="267.12" r="0.38" fill="#4f7fa6" opacity="0.56"/><circle cx="77.87" cy="258.53" r="0.37" fill="#4f7fa6" opacity="0.99"/><circle cx="89.34" cy="261.49" r="0.54" fill="#4f7fa6" opacity="0.63"/><circle cx="65.08" cy="207.94" r="0.5" fill="#3f6f96" opacity="0.97"/><circle cx="151.85" cy="183.3" r="0.51" fill="#5f8fb3" opacity="0.94"/><circle cx="55.73" cy="220.6" r="0.46" fill="#5f8fb3" opacity="0.7"/>
</g>
<rect x="32.9" y="178.3" width="21" height="6.3" fill="#3a1018" opacity="0.75"/>
<text x="35.8" y="185.8" font-size="9.4" fill="#c81f33" >Sytox</text>
<text x="35.6" y="197.2" font-size="9.4" fill="#4d78b8" letter-spacing="0.1">Amylo-Glo</text>
<rect x="38.2" y="290.7" width="35.6" height="3.4" fill="#fff" />
<text x="77.3" y="295.2" font-size="7.6" fill="#fff" >1 mm</text>
<rect x="153.2" y="177.4" width="121" height="121.2" fill="#010103" />
<circle cx="173.48" cy="261" r="0.41" fill="#2a6f98" opacity="0.99"/><circle cx="210.79" cy="294.14" r="0.42" fill="#2f7fa8" opacity="0.46"/><circle cx="266" cy="229.3" r="0.48" fill="#2a6f98" opacity="0.83"/><circle cx="206.24" cy="298.04" r="0.39" fill="#1f5f88" opacity="0.47"/><circle cx="193.24" cy="237.7" r="0.54" fill="#3f9fcf" opacity="0.46"/><circle cx="242.89" cy="188.12" r="0.29" fill="#2a6f98" opacity="0.75"/><circle cx="194.92" cy="236.15" r="0.29" fill="#2a6f98" opacity="0.49"/><circle cx="177.38" cy="259.06" r="0.46" fill="#2f7fa8" opacity="0.52"/><circle cx="211" cy="277.63" r="0.53" fill="#1f5f88" opacity="0.61"/><circle cx="268.62" cy="238.17" r="0.41" fill="#3f9fcf" opacity="0.46"/><circle cx="164.84" cy="264.43" r="0.41" fill="#1f5f88" opacity="0.49"/><circle cx="192" cy="296.18" r="0.46" fill="#3f9fcf" opacity="0.91"/><circle cx="183.21" cy="197.85" r="0.33" fill="#1f5f88" opacity="0.66"/><circle cx="212.75" cy="222.92" r="0.52" fill="#2a6f98" opacity="0.76"/><circle cx="160.52" cy="212.3" r="0.46" fill="#2f7fa8" opacity="0.68"/><circle cx="174.16" cy="185.82" r="0.52" fill="#2a6f98" opacity="0.86"/><circle cx="216.94" cy="265.71" r="0.34" fill="#3f9fcf" opacity="0.89"/><circle cx="259.82" cy="250.28" r="0.44" fill="#1f5f88" opacity="0.62"/><circle cx="154.83" cy="260.46" r="0.29" fill="#3f9fcf" opacity="0.8"/><circle cx="256.23" cy="248.22" r="0.39" fill="#2a6f98" opacity="0.52"/><circle cx="165.03" cy="188.79" r="0.4" fill="#2a6f98" opacity="0.49"/><circle cx="167.95" cy="211.5" r="0.53" fill="#1f5f88" opacity="0.72"/><circle cx="180.06" cy="197.53" r="0.38" fill="#2f7fa8" opacity="0.78"/><circle cx="214.44" cy="267.76" r="0.53" fill="#1f5f88" opacity="0.71"/><circle cx="161.25" cy="269.99" r="0.47" fill="#3f9fcf" opacity="0.98"/><circle cx="226.53" cy="267.79" r="0.32" fill="#3f9fcf" opacity="0.9"/><circle cx="250.37" cy="236.8" r="0.43" fill="#2f7fa8" opacity="0.73"/><circle cx="242.12" cy="294.61" r="0.47" fill="#2a6f98" opacity="0.49"/><circle cx="251.77" cy="295.79" r="0.37" fill="#1f5f88" opacity="0.51"/><circle cx="162.77" cy="186.29" r="0.49" fill="#1f5f88" opacity="0.73"/><circle cx="267.72" cy="259.8" r="0.41" fill="#1f5f88" opacity="0.93"/><circle cx="162.08" cy="180.42" r="0.29" fill="#3f9fcf" opacity="0.84"/><circle cx="252.08" cy="265.12" r="0.34" fill="#1f5f88" opacity="0.63"/><circle cx="181.05" cy="288.26" r="0.29" fill="#2a6f98" opacity="0.72"/><circle cx="240.02" cy="285.33" r="0.45" fill="#3f9fcf" opacity="0.58"/><circle cx="264.06" cy="224.18" r="0.5" fill="#2f7fa8" opacity="0.54"/><circle cx="177.95" cy="283.53" r="0.3" fill="#2a6f98" opacity="0.49"/><circle cx="190.06" cy="291.76" r="0.4" fill="#2f7fa8" opacity="0.99"/><circle cx="173.66" cy="229.91" r="0.38" fill="#2a6f98" opacity="0.59"/><circle cx="268.22" cy="216.44" r="0.51" fill="#2a6f98" opacity="0.94"/><circle cx="214.7" cy="206.29" r="0.47" fill="#2a6f98" opacity="0.97"/><circle cx="209.87" cy="230.35" r="0.36" fill="#2a6f98" opacity="0.82"/><circle cx="228.52" cy="189.39" r="0.34" fill="#3f9fcf" opacity="0.9"/><circle cx="266.24" cy="262.8" r="0.42" fill="#2f7fa8" opacity="0.67"/><circle cx="267.06" cy="195.32" r="0.33" fill="#3f9fcf" opacity="0.94"/><circle cx="198.19" cy="193.76" r="0.5" fill="#2f7fa8" opacity="0.62"/><circle cx="203.87" cy="284.36" r="0.44" fill="#1f5f88" opacity="0.94"/><circle cx="155.72" cy="247.95" r="0.52" fill="#2a6f98" opacity="0.53"/><circle cx="172" cy="196" r="0.45" fill="#2f7fa8" opacity="0.94"/><circle cx="162.16" cy="185.6" r="0.46" fill="#2a6f98" opacity="0.65"/><circle cx="196.06" cy="197.05" r="0.35" fill="#1f5f88" opacity="0.54"/><circle cx="166.15" cy="290.22" r="0.39" fill="#2a6f98" opacity="0.85"/><circle cx="216.81" cy="186.89" r="0.34" fill="#2f7fa8" opacity="0.85"/><circle cx="156.14" cy="222.06" r="0.51" fill="#1f5f88" opacity="0.89"/><circle cx="262.82" cy="259.75" r="0.49" fill="#2f7fa8" opacity="0.98"/><circle cx="200.61" cy="291.55" r="0.49" fill="#2f7fa8" opacity="0.95"/><circle cx="174.49" cy="209.54" r="0.38" fill="#2a6f98" opacity="0.55"/><circle cx="271.03" cy="238.06" r="0.34" fill="#3f9fcf" opacity="0.88"/><circle cx="242.77" cy="284.39" r="0.3" fill="#1f5f88" opacity="0.78"/><circle cx="222.64" cy="297.89" r="0.54" fill="#2f7fa8" opacity="0.99"/><circle cx="242.78" cy="267.3" r="0.42" fill="#3f9fcf" opacity="0.94"/><circle cx="215.53" cy="192.29" r="0.39" fill="#1f5f88" opacity="0.87"/><circle cx="244.14" cy="256.27" r="0.4" fill="#1f5f88" opacity="0.57"/><circle cx="211.1" cy="182.31" r="0.34" fill="#3f9fcf" opacity="0.77"/><circle cx="273.31" cy="223.08" r="0.28" fill="#3f9fcf" opacity="0.77"/><circle cx="273.82" cy="201.27" r="0.48" fill="#1f5f88" opacity="0.82"/><circle cx="156.86" cy="288.47" r="0.37" fill="#3f9fcf" opacity="0.66"/><circle cx="257.87" cy="268.46" r="0.35" fill="#1f5f88" opacity="0.89"/><circle cx="265.44" cy="201.49" r="0.52" fill="#2f7fa8" opacity="0.86"/><circle cx="183.57" cy="193.14" r="0.53" fill="#2f7fa8" opacity="0.83"/><circle cx="189.24" cy="203.85" r="0.41" fill="#1f5f88" opacity="0.57"/><circle cx="236.31" cy="218.01" r="0.38" fill="#2a6f98" opacity="0.91"/><circle cx="187.79" cy="209.21" r="0.3" fill="#2f7fa8" opacity="1"/><circle cx="181.61" cy="262.77" r="0.43" fill="#3f9fcf" opacity="0.69"/><circle cx="156.17" cy="292.67" r="0.39" fill="#1f5f88" opacity="0.8"/><circle cx="208.66" cy="239.67" r="0.49" fill="#2f7fa8" opacity="0.92"/><circle cx="261.77" cy="279.64" r="0.52" fill="#2f7fa8" opacity="0.64"/><circle cx="172.2" cy="179.03" r="0.47" fill="#3f9fcf" opacity="0.57"/><circle cx="159.4" cy="200.02" r="0.45" fill="#2a6f98" opacity="0.57"/><circle cx="167.07" cy="242.18" r="0.39" fill="#2f7fa8" opacity="0.56"/><circle cx="237.91" cy="242.69" r="0.35" fill="#2f7fa8" opacity="0.58"/><circle cx="237.77" cy="275.88" r="0.54" fill="#3f9fcf" opacity="0.94"/><circle cx="203.94" cy="247.34" r="0.39" fill="#1f5f88" opacity="0.55"/><circle cx="265.21" cy="187.07" r="0.49" fill="#3f9fcf" opacity="0.74"/><circle cx="173.36" cy="218.71" r="0.46" fill="#1f5f88" opacity="0.95"/><circle cx="188.91" cy="191.39" r="0.41" fill="#2a6f98" opacity="0.86"/><circle cx="171.6" cy="214.78" r="0.46" fill="#1f5f88" opacity="0.95"/><circle cx="159.51" cy="267.78" r="0.42" fill="#2f7fa8" opacity="0.8"/><circle cx="210.67" cy="244.84" r="0.33" fill="#1f5f88" opacity="0.79"/><circle cx="155.86" cy="238.33" r="0.34" fill="#2a6f98" opacity="0.93"/><circle cx="194.19" cy="258.25" r="0.46" fill="#1f5f88" opacity="0.59"/><circle cx="196.33" cy="279.92" r="0.47" fill="#2a6f98" opacity="0.83"/><circle cx="255.57" cy="195.07" r="0.49" fill="#2f7fa8" opacity="0.93"/><circle cx="183.25" cy="298.2" r="0.38" fill="#2a6f98" opacity="0.85"/><circle cx="156.95" cy="247.44" r="0.34" fill="#2a6f98" opacity="0.88"/><circle cx="258.69" cy="285.7" r="0.54" fill="#1f5f88" opacity="0.81"/><circle cx="233.83" cy="203.05" r="0.52" fill="#1f5f88" opacity="0.82"/><circle cx="189.13" cy="193.09" r="0.32" fill="#2f7fa8" opacity="0.86"/><circle cx="173.6" cy="190.85" r="0.3" fill="#3f9fcf" opacity="0.51"/><circle cx="215.1" cy="213.25" r="0.47" fill="#1f5f88" opacity="0.87"/><circle cx="268.19" cy="244.56" r="0.28" fill="#1f5f88" opacity="0.91"/><circle cx="271.62" cy="208.57" r="0.36" fill="#3f9fcf" opacity="0.92"/><circle cx="169.88" cy="219.21" r="0.38" fill="#2a6f98" opacity="0.9"/><circle cx="187.18" cy="272.35" r="0.37" fill="#2a6f98" opacity="0.88"/><circle cx="237.14" cy="238.56" r="0.29" fill="#3f9fcf" opacity="0.77"/><circle cx="228.51" cy="197.87" r="0.31" fill="#3f9fcf" opacity="0.68"/><circle cx="192.92" cy="265.52" r="0.49" fill="#3f9fcf" opacity="0.86"/><circle cx="241.48" cy="206.98" r="0.36" fill="#1f5f88" opacity="0.87"/><circle cx="176.42" cy="293.28" r="0.52" fill="#1f5f88" opacity="0.7"/><circle cx="237.08" cy="272.48" r="0.45" fill="#2f7fa8" opacity="0.93"/><circle cx="263.45" cy="187.67" r="0.41" fill="#2a6f98" opacity="0.9"/><circle cx="263.18" cy="252.1" r="0.49" fill="#3f9fcf" opacity="0.74"/><circle cx="240.57" cy="177.63" r="0.52" fill="#1f5f88" opacity="0.5"/><circle cx="202.7" cy="296.62" r="0.49" fill="#1f5f88" opacity="0.86"/><circle cx="176.07" cy="213.55" r="0.34" fill="#2f7fa8" opacity="0.96"/><circle cx="170.74" cy="288.71" r="0.43" fill="#3f9fcf" opacity="0.67"/><circle cx="243.34" cy="222.02" r="0.53" fill="#2a6f98" opacity="0.94"/><circle cx="209.04" cy="234.69" r="0.35" fill="#1f5f88" opacity="0.6"/><circle cx="177.08" cy="246.75" r="0.44" fill="#1f5f88" opacity="0.74"/><circle cx="217.24" cy="287.11" r="0.48" fill="#3f9fcf" opacity="0.91"/><circle cx="211.57" cy="249.73" r="0.42" fill="#2f7fa8" opacity="0.93"/><circle cx="231.12" cy="253.6" r="0.36" fill="#2f7fa8" opacity="0.56"/><circle cx="218.41" cy="261.82" r="0.43" fill="#2a6f98" opacity="0.8"/><circle cx="237.77" cy="298.18" r="0.39" fill="#2a6f98" opacity="0.69"/><circle cx="155.44" cy="212.77" r="0.33" fill="#3f9fcf" opacity="0.96"/><circle cx="229.47" cy="281.3" r="0.44" fill="#2a6f98" opacity="0.48"/><circle cx="197.26" cy="222.74" r="0.4" fill="#2f7fa8" opacity="0.6"/><circle cx="172.94" cy="285.96" r="0.31" fill="#2a6f98" opacity="0.54"/><circle cx="223.64" cy="215.61" r="0.53" fill="#2f7fa8" opacity="0.47"/><circle cx="159.78" cy="259" r="0.43" fill="#2a6f98" opacity="0.54"/><circle cx="201.43" cy="276.88" r="0.29" fill="#2a6f98" opacity="0.53"/><circle cx="266.44" cy="223.46" r="0.32" fill="#1f5f88" opacity="0.64"/><circle cx="234.58" cy="202.19" r="0.33" fill="#2f7fa8" opacity="0.99"/><circle cx="158.37" cy="294.5" r="0.37" fill="#1f5f88" opacity="0.89"/><circle cx="211.11" cy="187.59" r="0.39" fill="#3f9fcf" opacity="0.53"/><circle cx="215.83" cy="188.16" r="0.4" fill="#1f5f88" opacity="0.81"/><circle cx="250.16" cy="227.26" r="0.29" fill="#3f9fcf" opacity="0.58"/><circle cx="185.37" cy="246.99" r="0.34" fill="#1f5f88" opacity="0.66"/><circle cx="194.86" cy="292.03" r="0.33" fill="#3f9fcf" opacity="0.91"/><circle cx="187.85" cy="277.3" r="0.29" fill="#2f7fa8" opacity="0.99"/><circle cx="162" cy="191.63" r="0.46" fill="#3f9fcf" opacity="0.88"/><circle cx="270.76" cy="217.33" r="0.35" fill="#2a6f98" opacity="0.55"/><circle cx="243.97" cy="186.75" r="0.39" fill="#1f5f88" opacity="0.72"/><circle cx="262.48" cy="268.58" r="0.5" fill="#1f5f88" opacity="0.97"/><circle cx="239.82" cy="291" r="0.5" fill="#2a6f98" opacity="0.6"/><circle cx="178.44" cy="197.78" r="0.29" fill="#1f5f88" opacity="0.78"/><circle cx="187.49" cy="188.69" r="0.35" fill="#2f7fa8" opacity="0.83"/><circle cx="254.06" cy="207.02" r="0.38" fill="#3f9fcf" opacity="0.48"/><circle cx="272" cy="267.44" r="0.29" fill="#2a6f98" opacity="0.47"/><circle cx="212.01" cy="292.73" r="0.54" fill="#1f5f88" opacity="0.84"/><circle cx="263.27" cy="247.78" r="0.45" fill="#2f7fa8" opacity="0.59"/><circle cx="191.85" cy="199.71" r="0.54" fill="#2a6f98" opacity="0.76"/><circle cx="253.37" cy="239.41" r="0.45" fill="#2a6f98" opacity="0.88"/><circle cx="271.49" cy="208.81" r="0.49" fill="#3f9fcf" opacity="0.66"/><circle cx="210.86" cy="287.79" r="0.54" fill="#3f9fcf" opacity="0.58"/><circle cx="233.77" cy="203.72" r="0.41" fill="#1f5f88" opacity="0.97"/><circle cx="173.4" cy="241.68" r="0.35" fill="#2f7fa8" opacity="0.53"/><circle cx="185" cy="182.29" r="0.46" fill="#2a6f98" opacity="0.71"/><circle cx="230.55" cy="278.07" r="0.38" fill="#1f5f88" opacity="0.62"/><circle cx="257.82" cy="193.19" r="0.39" fill="#3f9fcf" opacity="0.61"/><circle cx="200.09" cy="202.52" r="0.33" fill="#3f9fcf" opacity="0.93"/><circle cx="157.56" cy="272.49" r="0.35" fill="#1f5f88" opacity="0.57"/><circle cx="225.7" cy="218.49" r="0.48" fill="#2f7fa8" opacity="0.77"/><circle cx="249.95" cy="196.4" r="0.4" fill="#2a6f98" opacity="0.91"/><circle cx="171.41" cy="283.18" r="0.29" fill="#1f5f88" opacity="0.52"/><circle cx="220.91" cy="238.46" r="0.4" fill="#2f7fa8" opacity="0.61"/><circle cx="155.76" cy="207.34" r="0.46" fill="#2f7fa8" opacity="0.63"/><circle cx="209.27" cy="254.13" r="0.55" fill="#1f5f88" opacity="0.65"/><circle cx="252.47" cy="204.35" r="0.33" fill="#2a6f98" opacity="0.85"/><circle cx="212.68" cy="251.28" r="0.3" fill="#2a6f98" opacity="0.89"/><circle cx="246.02" cy="281.53" r="0.55" fill="#1f5f88" opacity="0.66"/><circle cx="191.61" cy="201.42" r="0.45" fill="#2a6f98" opacity="0.74"/><circle cx="248.82" cy="222.7" r="0.5" fill="#2f7fa8" opacity="0.55"/><circle cx="244.86" cy="224.46" r="0.49" fill="#2a6f98" opacity="0.83"/><circle cx="240.82" cy="181.17" r="0.46" fill="#1f5f88" opacity="0.49"/><circle cx="162.91" cy="179.43" r="0.52" fill="#1f5f88" opacity="0.67"/><circle cx="157.83" cy="235.91" r="0.44" fill="#2a6f98" opacity="0.88"/><circle cx="255.84" cy="297.65" r="0.45" fill="#3f9fcf" opacity="0.52"/><circle cx="177.34" cy="271.59" r="0.49" fill="#2f7fa8" opacity="0.61"/><circle cx="203.15" cy="264.69" r="0.44" fill="#1f5f88" opacity="0.68"/><circle cx="266.96" cy="182.36" r="0.29" fill="#3f9fcf" opacity="0.94"/><circle cx="230.38" cy="233.03" r="0.45" fill="#3f9fcf" opacity="0.66"/><circle cx="229.6" cy="287.69" r="0.29" fill="#2a6f98" opacity="0.71"/><circle cx="245.36" cy="283.57" r="0.38" fill="#2a6f98" opacity="0.64"/><circle cx="269.92" cy="179.4" r="0.47" fill="#2a6f98" opacity="0.9"/><circle cx="195.49" cy="231.22" r="0.37" fill="#2a6f98" opacity="0.53"/><circle cx="175.84" cy="232.98" r="0.5" fill="#2f7fa8" opacity="0.59"/><circle cx="221.65" cy="196.78" r="0.5" fill="#2f7fa8" opacity="0.69"/><circle cx="187.96" cy="222.62" r="0.51" fill="#2f7fa8" opacity="0.57"/><circle cx="175.29" cy="211.83" r="0.33" fill="#2a6f98" opacity="0.69"/><circle cx="203.64" cy="256.67" r="0.43" fill="#2a6f98" opacity="0.66"/><circle cx="199.94" cy="230.48" r="0.45" fill="#2a6f98" opacity="0.5"/><circle cx="168.57" cy="245.91" r="0.53" fill="#2f7fa8" opacity="0.6"/><circle cx="176.91" cy="255.38" r="0.34" fill="#3f9fcf" opacity="0.97"/><circle cx="263.27" cy="269.22" r="0.37" fill="#2f7fa8" opacity="0.91"/><circle cx="189.78" cy="292.62" r="0.28" fill="#1f5f88" opacity="0.95"/><circle cx="271.5" cy="193.36" r="0.5" fill="#2a6f98" opacity="0.73"/><circle cx="258.53" cy="275.08" r="0.5" fill="#3f9fcf" opacity="0.56"/><circle cx="262.5" cy="276.28" r="0.54" fill="#3f9fcf" opacity="0.89"/><circle cx="175.81" cy="224.56" r="0.53" fill="#2f7fa8" opacity="0.92"/><circle cx="203.1" cy="277.56" r="0.38" fill="#3f9fcf" opacity="0.7"/><circle cx="265.22" cy="248.15" r="0.46" fill="#1f5f88" opacity="0.55"/><circle cx="198.13" cy="247.72" r="0.28" fill="#2a6f98" opacity="0.45"/><circle cx="249.26" cy="199.82" r="0.36" fill="#2a6f98" opacity="0.84"/><circle cx="250.59" cy="242.84" r="0.39" fill="#2f7fa8" opacity="0.65"/><circle cx="203.5" cy="222.43" r="0.36" fill="#3f9fcf" opacity="0.63"/><circle cx="263.64" cy="232.33" r="0.39" fill="#2f7fa8" opacity="0.49"/><circle cx="156.95" cy="192.77" r="0.29" fill="#1f5f88" opacity="0.81"/><circle cx="267.7" cy="288.49" r="0.39" fill="#1f5f88" opacity="0.82"/><circle cx="252.54" cy="195.45" r="0.31" fill="#2a6f98" opacity="0.74"/><circle cx="224.8" cy="188.4" r="0.38" fill="#2a6f98" opacity="0.84"/><circle cx="157.61" cy="186.1" r="0.38" fill="#2f7fa8" opacity="0.97"/><circle cx="183.03" cy="239.5" r="0.49" fill="#2a6f98" opacity="0.54"/><circle cx="161.98" cy="230.04" r="0.28" fill="#2a6f98" opacity="0.99"/><circle cx="165.99" cy="295.17" r="0.4" fill="#2f7fa8" opacity="0.78"/><circle cx="159.34" cy="231.67" r="0.33" fill="#2f7fa8" opacity="0.57"/><circle cx="243.92" cy="288.27" r="0.51" fill="#3f9fcf" opacity="0.81"/><circle cx="154.33" cy="274.6" r="0.52" fill="#1f5f88" opacity="0.7"/><circle cx="179.63" cy="281.21" r="0.54" fill="#3f9fcf" opacity="0.96"/><circle cx="261.42" cy="258.18" r="0.44" fill="#3f9fcf" opacity="0.8"/><circle cx="221.62" cy="237.18" r="0.52" fill="#2a6f98" opacity="0.56"/><circle cx="193.98" cy="187.75" r="0.32" fill="#3f9fcf" opacity="0.74"/><circle cx="219.23" cy="188.2" r="0.39" fill="#2a6f98" opacity="0.8"/><circle cx="224.47" cy="199.36" r="0.38" fill="#1f5f88" opacity="0.55"/><circle cx="271.24" cy="234.48" r="0.5" fill="#1f5f88" opacity="0.55"/><circle cx="160.63" cy="192.46" r="0.3" fill="#1f5f88" opacity="0.91"/><circle cx="195.04" cy="218.95" r="0.5" fill="#2f7fa8" opacity="0.91"/><circle cx="160.09" cy="200.61" r="0.38" fill="#2f7fa8" opacity="0.59"/><circle cx="185.92" cy="262.4" r="0.33" fill="#2a6f98" opacity="0.76"/><circle cx="187.94" cy="199.24" r="0.48" fill="#1f5f88" opacity="0.81"/><circle cx="245.35" cy="232.17" r="0.43" fill="#2f7fa8" opacity="0.61"/><circle cx="243.26" cy="237.75" r="0.47" fill="#2a6f98" opacity="0.56"/><circle cx="200.59" cy="273.6" r="0.33" fill="#1f5f88" opacity="0.9"/><circle cx="269.58" cy="180.26" r="0.42" fill="#2f7fa8" opacity="0.48"/><circle cx="173.92" cy="270.35" r="0.28" fill="#2a6f98" opacity="0.85"/><circle cx="210.01" cy="199.86" r="0.38" fill="#1f5f88" opacity="0.62"/><circle cx="253.31" cy="192.44" r="0.54" fill="#1f5f88" opacity="0.82"/><circle cx="166.88" cy="183.73" r="0.35" fill="#3f9fcf" opacity="0.52"/><circle cx="160.89" cy="244.7" r="0.35" fill="#1f5f88" opacity="0.98"/><circle cx="267.07" cy="187.26" r="0.54" fill="#2a6f98" opacity="0.99"/><circle cx="269.06" cy="216.4" r="0.53" fill="#3f9fcf" opacity="0.48"/><circle cx="226.76" cy="179.48" r="0.31" fill="#3f9fcf" opacity="0.82"/><circle cx="168.3" cy="290.37" r="0.42" fill="#3f9fcf" opacity="0.46"/><circle cx="185.8" cy="181.14" r="0.34" fill="#2f7fa8" opacity="1"/><circle cx="175.32" cy="227.57" r="0.4" fill="#2a6f98" opacity="0.65"/><circle cx="182.94" cy="225.25" r="0.38" fill="#1f5f88" opacity="0.79"/><circle cx="169.9" cy="249.85" r="0.38" fill="#1f5f88" opacity="0.78"/><circle cx="194.75" cy="204.2" r="0.44" fill="#2f7fa8" opacity="0.62"/><circle cx="161.52" cy="232.41" r="0.55" fill="#2a6f98" opacity="0.58"/><circle cx="243.19" cy="267.33" r="0.45" fill="#2f7fa8" opacity="0.46"/><circle cx="178.09" cy="272.43" r="0.45" fill="#1f5f88" opacity="0.91"/><circle cx="183.7" cy="219.06" r="0.53" fill="#2a6f98" opacity="0.75"/><circle cx="165.85" cy="217.84" r="0.35" fill="#2a6f98" opacity="0.61"/><circle cx="258.31" cy="269.12" r="0.4" fill="#2f7fa8" opacity="0.77"/><circle cx="267.27" cy="240.37" r="0.4" fill="#1f5f88" opacity="0.83"/><circle cx="229.8" cy="281.85" r="0.34" fill="#3f9fcf" opacity="0.84"/><circle cx="172.65" cy="233.25" r="0.44" fill="#2f7fa8" opacity="0.95"/><circle cx="217.03" cy="217.62" r="0.42" fill="#2f7fa8" opacity="0.58"/><circle cx="244.65" cy="268.33" r="0.36" fill="#3f9fcf" opacity="0.89"/><circle cx="210.69" cy="184.72" r="0.29" fill="#1f5f88" opacity="0.88"/><circle cx="218.91" cy="230.1" r="0.35" fill="#3f9fcf" opacity="0.82"/><circle cx="241.23" cy="267" r="0.48" fill="#1f5f88" opacity="0.89"/><circle cx="213.92" cy="182.99" r="0.36" fill="#3f9fcf" opacity="0.56"/><circle cx="197.49" cy="286.84" r="0.49" fill="#1f5f88" opacity="1"/><circle cx="238.16" cy="194.45" r="0.5" fill="#1f5f88" opacity="0.74"/><circle cx="257.18" cy="195.61" r="0.5" fill="#3f9fcf" opacity="0.79"/><circle cx="253" cy="231.41" r="0.47" fill="#3f9fcf" opacity="0.98"/><circle cx="190.92" cy="236.29" r="0.32" fill="#3f9fcf" opacity="0.87"/><circle cx="167.62" cy="199.55" r="0.32" fill="#3f9fcf" opacity="0.55"/><circle cx="161.36" cy="262.96" r="0.34" fill="#2f7fa8" opacity="0.99"/><circle cx="244.36" cy="293.39" r="0.42" fill="#2a6f98" opacity="0.96"/><circle cx="214.65" cy="189.37" r="0.33" fill="#3f9fcf" opacity="0.8"/><circle cx="203.05" cy="192.64" r="0.44" fill="#1f5f88" opacity="0.57"/><circle cx="178.61" cy="229.06" r="0.33" fill="#3f9fcf" opacity="0.74"/><circle cx="197.03" cy="238.5" r="0.33" fill="#1f5f88" opacity="0.6"/><circle cx="237.41" cy="216.41" r="0.52" fill="#1f5f88" opacity="0.78"/><circle cx="180.79" cy="254.72" r="0.34" fill="#3f9fcf" opacity="0.53"/><circle cx="245.98" cy="281.07" r="0.55" fill="#2f7fa8" opacity="0.6"/><circle cx="224.56" cy="186.53" r="0.54" fill="#3f9fcf" opacity="0.84"/><circle cx="224.93" cy="215.73" r="0.29" fill="#3f9fcf" opacity="0.6"/><circle cx="162.17" cy="212.75" r="0.43" fill="#2f7fa8" opacity="0.92"/><circle cx="272.41" cy="183.01" r="0.44" fill="#2a6f98" opacity="0.67"/><circle cx="176.46" cy="235.31" r="0.46" fill="#3f9fcf" opacity="0.95"/><circle cx="261.05" cy="192.02" r="0.38" fill="#3f9fcf" opacity="0.83"/><circle cx="253.71" cy="241.69" r="0.47" fill="#1f5f88" opacity="0.68"/><circle cx="269.63" cy="265.86" r="0.37" fill="#1f5f88" opacity="0.82"/><circle cx="205.87" cy="248" r="0.43" fill="#3f9fcf" opacity="0.84"/><circle cx="268.58" cy="295.58" r="0.4" fill="#2a6f98" opacity="0.87"/><circle cx="254.24" cy="289.59" r="0.53" fill="#2a6f98" opacity="0.99"/><circle cx="267.99" cy="235.92" r="0.34" fill="#2a6f98" opacity="0.91"/><circle cx="172.69" cy="218.22" r="0.38" fill="#2f7fa8" opacity="0.6"/><circle cx="207.78" cy="191.68" r="0.32" fill="#1f5f88" opacity="0.92"/><circle cx="156.85" cy="229.64" r="0.39" fill="#2f7fa8" opacity="0.7"/><circle cx="244.66" cy="247.36" r="0.3" fill="#2a6f98" opacity="0.82"/><circle cx="185.11" cy="187.36" r="0.53" fill="#1f5f88" opacity="1"/><circle cx="168.83" cy="199.74" r="0.31" fill="#1f5f88" opacity="0.92"/><circle cx="250.56" cy="285.76" r="0.29" fill="#2a6f98" opacity="0.49"/><circle cx="167.95" cy="182.99" r="0.29" fill="#1f5f88" opacity="0.61"/><circle cx="239.12" cy="206.08" r="0.51" fill="#2f7fa8" opacity="0.88"/><circle cx="172.16" cy="240.75" r="0.4" fill="#2f7fa8" opacity="0.54"/><circle cx="263.37" cy="245.09" r="0.43" fill="#2a6f98" opacity="0.98"/><circle cx="243.09" cy="279.41" r="0.33" fill="#2a6f98" opacity="0.53"/><circle cx="163.39" cy="233.64" r="0.31" fill="#2a6f98" opacity="0.61"/><circle cx="215.11" cy="287.09" r="0.41" fill="#2a6f98" opacity="0.96"/><circle cx="273.38" cy="182.5" r="0.37" fill="#1f5f88" opacity="0.73"/><circle cx="218.14" cy="244.39" r="0.4" fill="#3f9fcf" opacity="0.51"/><circle cx="228.64" cy="244.49" r="0.31" fill="#1f5f88" opacity="0.58"/><circle cx="195.55" cy="207.59" r="0.45" fill="#1f5f88" opacity="0.53"/><circle cx="244.8" cy="191.23" r="0.49" fill="#3f9fcf" opacity="0.66"/><circle cx="271.07" cy="227.61" r="0.5" fill="#2a6f98" opacity="0.9"/><circle cx="246.62" cy="237" r="0.53" fill="#2a6f98" opacity="0.54"/><circle cx="186.19" cy="201.96" r="0.5" fill="#1f5f88" opacity="0.85"/><circle cx="206.57" cy="289.18" r="0.43" fill="#2f7fa8" opacity="0.84"/><circle cx="154.99" cy="206.2" r="0.53" fill="#3f9fcf" opacity="0.84"/><circle cx="209.34" cy="292.72" r="0.34" fill="#3f9fcf" opacity="0.81"/><circle cx="201.73" cy="268.39" r="0.4" fill="#2f7fa8" opacity="0.97"/><circle cx="187.15" cy="208.62" r="0.37" fill="#3f9fcf" opacity="0.67"/><circle cx="219.27" cy="195.59" r="0.52" fill="#3f9fcf" opacity="0.89"/><circle cx="245.6" cy="290.07" r="0.35" fill="#1f5f88" opacity="0.79"/><circle cx="212.39" cy="288.96" r="0.53" fill="#2f7fa8" opacity="0.74"/><circle cx="166.4" cy="194.7" r="0.53" fill="#3f9fcf" opacity="0.91"/><circle cx="263.55" cy="293.08" r="0.41" fill="#2a6f98" opacity="0.57"/><circle cx="246.12" cy="238.58" r="0.5" fill="#3f9fcf" opacity="0.87"/><circle cx="236.07" cy="188.14" r="0.31" fill="#2f7fa8" opacity="0.84"/><circle cx="198.36" cy="186.09" r="0.43" fill="#2f7fa8" opacity="0.99"/><circle cx="189.99" cy="246.54" r="0.47" fill="#3f9fcf" opacity="0.47"/><circle cx="249.58" cy="181.96" r="0.38" fill="#2f7fa8" opacity="0.94"/><circle cx="156.78" cy="222.44" r="0.29" fill="#3f9fcf" opacity="0.84"/><circle cx="172.06" cy="263.55" r="0.31" fill="#3f9fcf" opacity="0.87"/><circle cx="157.35" cy="192.48" r="0.35" fill="#2a6f98" opacity="0.89"/><circle cx="247.15" cy="276.42" r="0.48" fill="#1f5f88" opacity="0.5"/><circle cx="209.73" cy="294.7" r="0.37" fill="#3f9fcf" opacity="0.94"/><circle cx="251.52" cy="261.52" r="0.55" fill="#2f7fa8" opacity="0.64"/><circle cx="183.65" cy="288.52" r="0.49" fill="#2f7fa8" opacity="0.99"/><circle cx="190.25" cy="177.48" r="0.46" fill="#1f5f88" opacity="0.57"/><circle cx="266.37" cy="277.97" r="0.4" fill="#1f5f88" opacity="0.55"/><circle cx="189.04" cy="265.61" r="0.42" fill="#2f7fa8" opacity="0.66"/><circle cx="206.56" cy="288.74" r="0.48" fill="#2f7fa8" opacity="0.8"/><circle cx="188.59" cy="289.43" r="0.43" fill="#3f9fcf" opacity="0.95"/><circle cx="244.82" cy="222.54" r="0.35" fill="#2f7fa8" opacity="0.5"/><circle cx="190.35" cy="203.01" r="0.41" fill="#1f5f88" opacity="0.66"/><circle cx="271.8" cy="239.42" r="0.3" fill="#3f9fcf" opacity="0.73"/><circle cx="194.62" cy="286.51" r="0.3" fill="#2f7fa8" opacity="0.94"/><circle cx="239.39" cy="282.1" r="0.54" fill="#2f7fa8" opacity="0.67"/><circle cx="197.12" cy="203.04" r="0.5" fill="#2f7fa8" opacity="0.84"/><circle cx="237.58" cy="178.65" r="0.41" fill="#2f7fa8" opacity="0.87"/><circle cx="230.14" cy="178.3" r="0.29" fill="#2f7fa8" opacity="0.86"/><circle cx="234.77" cy="275.14" r="0.53" fill="#1f5f88" opacity="0.97"/><circle cx="174.79" cy="245.04" r="0.34" fill="#2f7fa8" opacity="0.5"/><circle cx="196.21" cy="237.91" r="0.44" fill="#1f5f88" opacity="0.88"/><circle cx="253.45" cy="244.69" r="0.47" fill="#1f5f88" opacity="0.76"/><circle cx="173.74" cy="246.63" r="0.4" fill="#2a6f98" opacity="0.6"/><circle cx="177.72" cy="235.46" r="0.32" fill="#2a6f98" opacity="0.55"/><circle cx="265.41" cy="258.17" r="0.32" fill="#2a6f98" opacity="0.91"/><circle cx="273.8" cy="291.58" r="0.3" fill="#1f5f88" opacity="0.69"/><circle cx="217.67" cy="180.26" r="0.42" fill="#3f9fcf" opacity="0.99"/><circle cx="199.12" cy="232.48" r="0.49" fill="#2f7fa8" opacity="0.91"/><circle cx="227.68" cy="230.06" r="0.43" fill="#1f5f88" opacity="0.87"/><circle cx="210.57" cy="233.03" r="0.43" fill="#1f5f88" opacity="0.9"/><circle cx="172.19" cy="227.98" r="0.38" fill="#1f5f88" opacity="0.59"/>
<rect x="154.2" y="180.6" width="26" height="5.4" fill="#2a2a2c" />
<text x="158.2" y="187.2" font-size="9.4" fill="#4d7db8" letter-spacing="0.1">Amylo-Glo</text>
<rect x="158.9" y="290.7" width="36.6" height="3.4" fill="#fff" />
<text x="199" y="295.2" font-size="7.6" fill="#fff" >1 mm</text>
<rect x="281.9" y="177.4" width="15.1" height="121.2" fill="#9c9dd3" stroke="#5a4447" stroke-width="0.55" />
<text x="292.35" y="238" font-size="8.8" fill="#333" text-anchor="middle" transform="rotate(-90 292.35 238)" >APOE4s2<tspan dy="-2.8" font-size="60%">A</tspan><tspan dy="2.8" dx="0.5">/FAD</tspan></text>
<g clip-path="url(#ce3)">
<rect x="297" y="177.4" width="122.4" height="121.2" fill="#020102" />
<path d="M296.24 245.82 L297.31 235.09 L299.46 226.5 L304.18 217.92 L310.19 210.41 L317.27 202.9 L325.21 196.46 L333.36 191.31 L342.38 186.8 L350.96 182.51 L359.55 178.86 L368.13 175 L430 170 L430 310 L296.24 310 Z" fill="#22040a" />
<rect x="297" y="177.4" width="122.4" height="121.2" fill="#000" filter="url(#rn1)" opacity="0.5"/>
<path d="M290 170 L368.13 170 L368.13 175 L359.55 178.86 L350.96 182.51 L342.38 186.8 L333.36 191.31 L325.21 196.46 L317.27 202.9 L310.19 210.41 L304.18 217.92 L299.46 226.5 L297.31 235.09 L296.24 245.82 L296.24 310 L290 310 Z" fill="#030102" filter="url(#b1)"/>
<path d="M299.24 248.39 C299.42 246.6 299.78 240.88 300.32 237.66 C300.85 234.44 301.32 231.94 302.46 229.08 C303.61 226.22 305.4 223.18 307.18 220.49 C308.97 217.81 311.01 215.49 313.19 212.98 C315.37 210.48 317.77 207.8 320.27 205.47 C322.78 203.15 325.53 200.97 328.21 199.03 C330.9 197.1 333.51 195.49 336.37 193.88 C339.23 192.27 342.45 190.84 345.38 189.38 C348.31 187.91 351.1 186.41 353.97 185.09 C356.83 183.76 359.69 182.69 362.55 181.44 C365.41 180.19 369.7 178.22 371.13 177.58" fill="none" stroke="#b0162a" stroke-width="2.6" filter="url(#b3)" opacity="0.6"/>
<path d="M315.55 239.81 C316.34 238.38 318.49 233.91 320.27 231.22 C322.06 228.54 324.1 226.22 326.28 223.71 C328.46 221.21 330.86 218.53 333.36 216.2 C335.87 213.88 338.62 211.7 341.3 209.76 C343.99 207.83 346.6 206.22 349.46 204.61 C352.32 203 355.54 201.57 358.47 200.11 C361.4 198.64 364.19 197.14 367.06 195.82 C369.92 194.49 372.78 193.42 375.64 192.17 C378.5 190.92 380.47 189.02 384.22 188.3 C387.98 187.59 390.84 187.59 398.17 187.88 C405.5 188.16 423.21 189.66 428.21 190.02" fill="none" stroke="#050001" stroke-width="9" filter="url(#b2)" opacity="0.55"/>
<path d="M310.19 308.05 C310.9 303.04 311.62 288.02 314.48 278 C317.34 267.99 321.99 257.44 327.36 247.96 C332.72 238.48 339.52 228.29 346.67 221.14 C353.82 213.98 361.69 208.51 370.27 205.04 C378.86 201.57 388.52 199.79 398.17 200.32 C407.83 200.86 423.21 206.94 428.21 208.26" fill="none" stroke="#050001" stroke-width="6.5" filter="url(#b3)" opacity="0.8"/>
<path d="M342.38 308.05 C328.43 302.68 340.23 282.3 344.52 275.86 C348.82 269.42 359.19 271.92 368.13 269.42 C377.07 266.92 388.16 264.06 398.17 260.84 C408.19 257.62 423.21 242.24 428.21 250.11 C433.22 257.98 442.52 298.39 428.21 308.05 C413.91 317.7 356.33 313.41 342.38 308.05Z" fill="#050001" filter="url(#b2)" opacity="0.45"/>
<path d="M299.46 308.05 C295.53 300.89 299.1 271.92 301.61 265.13 C304.11 258.33 310.9 263.7 314.48 267.27 C318.06 270.85 321.28 279.79 323.06 286.59 C324.85 293.38 329.14 304.47 325.21 308.05 C321.28 311.62 303.39 315.2 299.46 308.05Z" fill="#050001" filter="url(#b2)" opacity="0.35"/>
<path d="M428.21 226.07 C423.21 221.53 406.04 220.71 398.17 218.56 C390.3 216.42 386.01 213.73 381 213.2 C376 212.66 372.78 213.56 368.13 215.34 C363.48 217.13 356.97 220.21 353.11 223.93 C349.24 227.65 346.85 233.3 344.95 237.66 C343.06 242.02 341.73 246.49 341.73 250.11 C341.73 253.72 342.7 257.08 344.95 259.33 C347.21 261.59 350.32 263.45 355.25 263.63 C360.19 263.81 367.41 262.02 374.57 260.41 C381.72 258.8 389.23 256.4 398.17 253.97 C407.11 251.54 423.21 250.46 428.21 245.82 C433.22 241.17 433.22 230.62 428.21 226.07Z" fill="#050001" filter="url(#b3)" opacity="0.6"/>
<path d="M398.17 207.19 C399.24 205.94 406.04 203.61 411.05 203.97 C416.05 204.33 425.35 206.47 428.21 209.33 C431.08 212.2 430.36 220.24 428.21 221.14 C426.07 222.03 419.27 216.31 415.34 214.7 C411.4 213.09 407.47 212.73 404.61 211.48 C401.75 210.23 397.1 208.44 398.17 207.19Z" fill="#7a0e1e" filter="url(#b3)" opacity="0.5"/>
<path d="M338.73 267.7 C340.27 266.92 344.49 268.06 346.24 269.42 C347.99 270.78 348.89 273.53 349.24 275.86 C349.6 278.18 349.53 281.76 348.39 283.37 C347.24 284.98 343.81 286.05 342.38 285.52 C340.95 284.98 340.7 282.05 339.8 280.15 C338.91 278.25 337.19 276.22 337.01 274.14 C336.83 272.07 337.19 268.49 338.73 267.7Z" fill="#020001" filter="url(#b1)"/>
<path d="M338.73 267.7 C340.27 266.92 344.49 268.06 346.24 269.42 C347.99 270.78 348.89 273.53 349.24 275.86 C349.6 278.18 349.53 281.76 348.39 283.37 C347.24 284.98 343.81 286.05 342.38 285.52 C340.95 284.98 340.7 282.05 339.8 280.15 C338.91 278.25 337.19 276.22 337.01 274.14 C336.83 272.07 337.19 268.49 338.73 267.7Z" fill="none" stroke="#a01226" stroke-width="0.6" filter="url(#b1)" opacity="0.9"/>
<path d="M428.21 225.21 C426.43 224.89 422.49 224.5 417.48 223.28 C412.48 222.07 404.25 219.67 398.17 217.92 C392.09 216.17 386.01 213.27 381 212.77 C376 212.27 372.78 213.13 368.13 214.91 C363.48 216.7 356.97 219.78 353.11 223.5 C349.24 227.22 346.88 232.8 344.95 237.23 C343.02 241.67 341.59 246.42 341.52 250.11 C341.45 253.79 342.59 257.19 344.52 259.33 C346.45 261.48 349.89 262.45 353.11 262.98 C356.33 263.52 362.05 262.63 363.84 262.55" fill="none" stroke="#8a0c1e" stroke-width="2.8" filter="url(#b3)" opacity="0.4"/>
<path d="M428.21 225.21 C426.43 224.89 422.49 224.5 417.48 223.28 C412.48 222.07 404.25 219.67 398.17 217.92 C392.09 216.17 386.01 213.27 381 212.77 C376 212.27 372.78 213.13 368.13 214.91 C363.48 216.7 356.97 219.78 353.11 223.5 C349.24 227.22 346.88 232.8 344.95 237.23 C343.02 241.67 341.59 246.42 341.52 250.11 C341.45 253.79 342.59 257.19 344.52 259.33 C346.45 261.48 349.89 262.45 353.11 262.98 C356.33 263.52 362.05 262.63 363.84 262.55" fill="none" stroke="#b81226" stroke-width="1.3" filter="url(#b1)" stroke-linecap="round"/>
<path d="M364.91 247.32 C365.8 246.53 367.95 244.06 370.27 242.6 C372.6 241.13 375.64 239.56 378.86 238.52 C382.08 237.48 385.58 236.37 389.59 236.37 C393.59 236.37 402.54 237.66 402.89 238.52 C403.25 239.38 395.02 240.31 391.73 241.52 C388.44 242.74 385.37 244.1 383.15 245.82 C380.93 247.53 379.22 250.82 378.43 251.82" fill="none" stroke="#8a0c1e" stroke-width="2.8" filter="url(#b3)" opacity="0.4"/>
<path d="M364.91 247.32 C365.8 246.53 367.95 244.06 370.27 242.6 C372.6 241.13 375.64 239.56 378.86 238.52 C382.08 237.48 385.58 236.37 389.59 236.37 C393.59 236.37 402.54 237.66 402.89 238.52 C403.25 239.38 395.02 240.31 391.73 241.52 C388.44 242.74 385.37 244.1 383.15 245.82 C380.93 247.53 379.22 250.82 378.43 251.82" fill="none" stroke="#c8142a" stroke-width="1.4" filter="url(#b1)" stroke-linecap="round"/>
<circle cx="380.7" cy="194.21" r="0.5" fill="#3a8fc0" opacity="0.57"/><circle cx="387.66" cy="257.65" r="0.64" fill="#2f7fa8" opacity="0.76"/><circle cx="322.08" cy="249.28" r="0.75" fill="#2f7fa8" opacity="0.67"/><circle cx="322.21" cy="224.9" r="0.51" fill="#3a8fc0" opacity="0.71"/><circle cx="378.12" cy="184.68" r="0.48" fill="#3a8fc0" opacity="0.6"/><circle cx="399.38" cy="297.26" r="0.73" fill="#2f7fa8" opacity="0.83"/><circle cx="323.73" cy="273.95" r="0.49" fill="#3a8fc0" opacity="0.74"/><circle cx="329.24" cy="212.96" r="0.62" fill="#5fb0e0" opacity="0.98"/><circle cx="416.52" cy="297.81" r="0.54" fill="#3a8fc0" opacity="0.78"/><circle cx="411.56" cy="279" r="0.48" fill="#3f8fc0" opacity="0.96"/><circle cx="370.61" cy="261.68" r="0.58" fill="#5fb0e0" opacity="0.82"/><circle cx="418.38" cy="201.26" r="0.76" fill="#2f7fa8" opacity="0.7"/><circle cx="302.94" cy="263.94" r="0.79" fill="#3f8fc0" opacity="0.98"/><circle cx="359.67" cy="281.68" r="0.62" fill="#3f8fc0" opacity="0.93"/><circle cx="356.42" cy="274.03" r="0.62" fill="#3f8fc0" opacity="0.63"/><circle cx="390.7" cy="296.79" r="0.41" fill="#2f7fa8" opacity="0.79"/><circle cx="351.57" cy="297.77" r="0.66" fill="#3f8fc0" opacity="0.96"/><circle cx="405.55" cy="273.02" r="0.79" fill="#3a8fc0" opacity="0.78"/><circle cx="365.36" cy="239.62" r="0.63" fill="#3a8fc0" opacity="0.76"/><circle cx="384.77" cy="233.34" r="0.61" fill="#3a8fc0" opacity="0.69"/><circle cx="360.97" cy="219.44" r="0.53" fill="#2f7fa8" opacity="0.79"/><circle cx="317.34" cy="280.8" r="0.59" fill="#3a8fc0" opacity="0.62"/><circle cx="405.01" cy="202.22" r="0.54" fill="#3a8fc0" opacity="0.96"/><circle cx="329.98" cy="291.24" r="0.61" fill="#5fb0e0" opacity="0.63"/><circle cx="321.74" cy="276.04" r="0.58" fill="#2f7fa8" opacity="0.69"/><circle cx="382.42" cy="222.03" r="0.43" fill="#3a8fc0" opacity="0.94"/><circle cx="381.9" cy="285.06" r="0.69" fill="#3a8fc0" opacity="0.71"/><circle cx="398.82" cy="296.32" r="0.52" fill="#5fb0e0" opacity="0.65"/><circle cx="408.7" cy="247.62" r="0.75" fill="#3a8fc0" opacity="0.62"/><circle cx="314.44" cy="254.08" r="0.78" fill="#3a8fc0" opacity="0.51"/><circle cx="407.93" cy="237.08" r="0.61" fill="#5fb0e0" opacity="0.65"/><circle cx="344.45" cy="259.48" r="0.5" fill="#2f7fa8" opacity="0.52"/><circle cx="366.84" cy="293.64" r="0.78" fill="#2f7fa8" opacity="0.84"/><circle cx="336.62" cy="296.56" r="0.43" fill="#3a8fc0" opacity="0.86"/><circle cx="390.06" cy="229.23" r="0.54" fill="#3f8fc0" opacity="0.97"/><circle cx="324.59" cy="281.81" r="0.43" fill="#2f7fa8" opacity="0.9"/><circle cx="350.86" cy="235.58" r="0.71" fill="#5fb0e0" opacity="0.62"/><circle cx="418.55" cy="233.78" r="0.82" fill="#2f7fa8" opacity="0.95"/><circle cx="336.44" cy="224.56" r="0.83" fill="#2f7fa8" opacity="0.52"/><circle cx="386.4" cy="232.06" r="0.77" fill="#5fb0e0" opacity="0.71"/><circle cx="365.07" cy="272.51" r="0.46" fill="#5fb0e0" opacity="0.94"/><circle cx="403.56" cy="192.57" r="0.5" fill="#5fb0e0" opacity="0.67"/><circle cx="409.5" cy="271.31" r="0.67" fill="#2f7fa8" opacity="0.67"/><circle cx="407.92" cy="197.94" r="0.45" fill="#5fb0e0" opacity="0.63"/><circle cx="392.42" cy="229.77" r="0.44" fill="#2f7fa8" opacity="0.74"/><circle cx="314.54" cy="230.25" r="0.52" fill="#5fb0e0" opacity="0.66"/><circle cx="400.63" cy="243.94" r="0.45" fill="#3a8fc0" opacity="0.78"/><circle cx="369.47" cy="270.37" r="0.65" fill="#2f7fa8" opacity="0.8"/><circle cx="363.4" cy="281.12" r="0.52" fill="#3f8fc0" opacity="0.82"/><circle cx="317.59" cy="260.78" r="0.83" fill="#3a8fc0" opacity="0.71"/><circle cx="415.31" cy="198.28" r="0.71" fill="#5fb0e0" opacity="0.9"/><circle cx="356.72" cy="201.59" r="0.41" fill="#5fb0e0" opacity="0.83"/><circle cx="316.84" cy="263.19" r="0.67" fill="#5fb0e0" opacity="0.97"/><circle cx="313.42" cy="288.39" r="0.81" fill="#5fb0e0" opacity="0.91"/><circle cx="417.03" cy="246.09" r="0.57" fill="#2f7fa8" opacity="0.65"/><circle cx="314.6" cy="295.5" r="0.72" fill="#3f8fc0" opacity="0.66"/><circle cx="327.53" cy="282.83" r="0.82" fill="#5fb0e0" opacity="0.76"/><circle cx="349.31" cy="297.72" r="0.84" fill="#3f8fc0" opacity="0.82"/><circle cx="386.32" cy="250.26" r="0.8" fill="#5fb0e0" opacity="0.83"/><circle cx="357.05" cy="219.1" r="0.61" fill="#5fb0e0" opacity="0.97"/><circle cx="330.96" cy="220.66" r="0.52" fill="#2f7fa8" opacity="0.67"/><circle cx="376.13" cy="201.68" r="0.64" fill="#3f8fc0" opacity="0.51"/><circle cx="362.31" cy="241.63" r="0.77" fill="#2f7fa8" opacity="0.54"/><circle cx="369.75" cy="248.61" r="0.75" fill="#2f7fa8" opacity="0.75"/><circle cx="361.26" cy="244.41" r="0.63" fill="#3f8fc0" opacity="0.99"/><circle cx="412.46" cy="211.55" r="0.53" fill="#2f7fa8" opacity="0.62"/><circle cx="351.52" cy="207.01" r="0.62" fill="#3a8fc0" opacity="0.56"/><circle cx="377.46" cy="250.32" r="0.42" fill="#5fb0e0" opacity="0.85"/><circle cx="373.53" cy="189.81" r="0.58" fill="#2f7fa8" opacity="0.84"/><circle cx="375.25" cy="223.99" r="0.76" fill="#3f8fc0" opacity="0.67"/><circle cx="413.27" cy="250.86" r="0.8" fill="#3f8fc0" opacity="0.58"/><circle cx="366.74" cy="185.67" r="0.42" fill="#2f7fa8" opacity="0.61"/><circle cx="361.01" cy="184.27" r="0.49" fill="#5fb0e0" opacity="0.56"/><circle cx="365.33" cy="187.94" r="0.46" fill="#2f7fa8" opacity="0.89"/><circle cx="417.8" cy="216.91" r="0.57" fill="#3f8fc0" opacity="0.93"/><circle cx="404.39" cy="279.66" r="0.85" fill="#2f7fa8" opacity="0.61"/><circle cx="354.61" cy="260.64" r="0.64" fill="#3f8fc0" opacity="0.91"/><circle cx="382.27" cy="277.86" r="0.67" fill="#3a8fc0" opacity="0.81"/><circle cx="315.13" cy="232.49" r="0.66" fill="#3f8fc0" opacity="0.85"/><circle cx="345.02" cy="248.38" r="0.51" fill="#5fb0e0" opacity="0.76"/><circle cx="332.73" cy="243.8" r="0.63" fill="#3f8fc0" opacity="0.69"/><circle cx="396.77" cy="207.6" r="0.74" fill="#3a8fc0" opacity="0.84"/><circle cx="399.93" cy="274.63" r="0.55" fill="#5fb0e0" opacity="0.83"/><circle cx="345.64" cy="212.35" r="0.72" fill="#3a8fc0" opacity="0.94"/><circle cx="321.1" cy="261.79" r="0.66" fill="#5fb0e0" opacity="0.77"/><circle cx="411.98" cy="256.98" r="0.51" fill="#2f7fa8" opacity="0.86"/><circle cx="402.65" cy="182.1" r="0.56" fill="#5fb0e0" opacity="0.8"/><circle cx="327.71" cy="220.25" r="0.66" fill="#3f8fc0" opacity="0.81"/><circle cx="397.57" cy="245.7" r="0.6" fill="#5fb0e0" opacity="0.54"/><circle cx="398.48" cy="214.66" r="0.57" fill="#3f8fc0" opacity="0.86"/><circle cx="345.12" cy="262.4" r="0.44" fill="#5fb0e0" opacity="0.61"/><circle cx="349.06" cy="287.75" r="0.54" fill="#3a8fc0" opacity="0.55"/><circle cx="398.42" cy="267.47" r="0.44" fill="#3a8fc0" opacity="0.69"/><circle cx="350.08" cy="239.95" r="0.7" fill="#3a8fc0" opacity="0.84"/><circle cx="308.65" cy="255.88" r="0.56" fill="#3f8fc0" opacity="0.76"/><circle cx="396.66" cy="217.12" r="0.78" fill="#2f7fa8" opacity="0.78"/><circle cx="400.39" cy="195.42" r="0.68" fill="#5fb0e0" opacity="0.82"/><circle cx="375.92" cy="228.77" r="0.48" fill="#3a8fc0" opacity="0.78"/><circle cx="401.28" cy="244.1" r="0.67" fill="#3a8fc0" opacity="0.73"/><circle cx="338.43" cy="214.7" r="0.51" fill="#2f7fa8" opacity="0.55"/><circle cx="392.1" cy="235.37" r="0.62" fill="#5fb0e0" opacity="0.64"/><circle cx="326.91" cy="223.54" r="0.74" fill="#3a8fc0" opacity="0.83"/><circle cx="398.81" cy="292.78" r="0.83" fill="#5fb0e0" opacity="0.75"/><circle cx="313.59" cy="241.99" r="0.85" fill="#3a8fc0" opacity="0.67"/><circle cx="332.04" cy="278.84" r="0.76" fill="#5fb0e0" opacity="0.75"/><circle cx="376.99" cy="207.96" r="0.52" fill="#3a8fc0" opacity="0.53"/><circle cx="319.74" cy="220.54" r="0.76" fill="#3f8fc0" opacity="0.72"/><circle cx="303.91" cy="281.76" r="0.84" fill="#2f7fa8" opacity="0.94"/><circle cx="318.67" cy="232.91" r="0.53" fill="#2f7fa8" opacity="0.68"/><circle cx="391.73" cy="277.82" r="0.53" fill="#3a8fc0" opacity="1"/><circle cx="380.24" cy="206.48" r="0.58" fill="#2f7fa8" opacity="0.94"/><circle cx="362.13" cy="245.97" r="0.72" fill="#3f8fc0" opacity="0.75"/><circle cx="376.66" cy="186.41" r="0.73" fill="#5fb0e0" opacity="0.87"/><circle cx="352.9" cy="193.07" r="0.85" fill="#5fb0e0" opacity="0.7"/><circle cx="380.98" cy="262.81" r="0.42" fill="#2f7fa8" opacity="0.82"/><circle cx="407.51" cy="294.17" r="0.56" fill="#3a8fc0" opacity="0.59"/><circle cx="324.3" cy="296.03" r="0.61" fill="#3a8fc0" opacity="0.52"/><circle cx="347.45" cy="241.88" r="0.74" fill="#2f7fa8" opacity="0.92"/><circle cx="360.33" cy="208.25" r="0.56" fill="#3f8fc0" opacity="0.69"/><circle cx="385.99" cy="254.64" r="0.6" fill="#2f7fa8" opacity="0.9"/>
</g>
<rect x="298.3" y="178.4" width="21" height="6.2" fill="#3a1018" opacity="0.8"/>
<text x="301.2" y="186" font-size="9.4" fill="#d62a3c" >Sytox</text>
<text x="301.2" y="197.5" font-size="9.4" fill="#4d78b8" letter-spacing="0.1">Amylo-Glo</text>
<rect x="304.2" y="290.8" width="31.3" height="3.4" fill="#fff" />
<text x="339.4" y="295.3" font-size="7.6" fill="#fff" >1 mm</text>
<g clip-path="url(#ce4)">
<rect x="419.4" y="177.4" width="122" height="121.2" fill="#010204" />
<path d="M545.93 215.8 C543.08 214.69 534.23 210.74 528.85 209.16 C523.48 207.57 519.05 206.31 513.67 206.31 C508.3 206.31 501.97 207.26 496.59 209.16 C491.22 211.05 486.16 214.22 481.41 217.69 C476.67 221.17 471.93 225.44 468.13 230.03 C464.34 234.61 460.7 240.15 458.64 245.21 C456.59 250.27 455.48 255.96 455.8 260.39 C456.11 264.82 457.85 268.77 460.54 271.77 C463.23 274.78 470.03 277.31 471.93 278.42" fill="none" stroke="#0a2438" stroke-width="2.4" filter="url(#b3)" opacity="0.55"/>
<path d="M426.39 222.44 C429.23 220.54 437.14 215.16 443.46 211.05 C449.79 206.94 457.06 201.57 464.34 197.77 C471.61 193.98 478.88 190.81 487.11 188.28 C495.33 185.75 509.24 183.54 513.67 182.59" fill="none" stroke="#061826" stroke-width="3" filter="url(#b2)"/>
<circle cx="465.88" cy="205.36" r="0.71" fill="#4fb0e0" opacity="0.75"/><circle cx="466.19" cy="266.07" r="0.65" fill="#2f8fc0" opacity="0.69"/><circle cx="439.84" cy="256.74" r="0.33" fill="#2f8fc0" opacity="0.69"/><circle cx="453.78" cy="266.46" r="0.46" fill="#1f6f98" opacity="0.52"/><circle cx="501.13" cy="192.4" r="0.61" fill="#2a7fb0" opacity="0.48"/><circle cx="458.17" cy="252.53" r="0.38" fill="#2f8fc0" opacity="0.62"/><circle cx="437.2" cy="258.32" r="0.6" fill="#1f6f98" opacity="0.92"/><circle cx="447.51" cy="187.81" r="0.73" fill="#1f6f98" opacity="0.68"/><circle cx="510.22" cy="242.82" r="0.59" fill="#4fb0e0" opacity="0.55"/><circle cx="517.87" cy="264.2" r="0.61" fill="#2f8fc0" opacity="0.99"/><circle cx="505.43" cy="285.85" r="0.62" fill="#2f8fc0" opacity="0.78"/><circle cx="470.44" cy="280.23" r="0.41" fill="#1f6f98" opacity="0.65"/><circle cx="475.48" cy="264.91" r="0.34" fill="#4fb0e0" opacity="0.75"/><circle cx="532.75" cy="207.56" r="0.62" fill="#1f6f98" opacity="0.88"/><circle cx="455.36" cy="230.85" r="0.55" fill="#2a7fb0" opacity="0.47"/><circle cx="441.44" cy="258.19" r="0.41" fill="#2a7fb0" opacity="0.72"/><circle cx="434.28" cy="223.97" r="0.67" fill="#1f6f98" opacity="0.78"/><circle cx="506.39" cy="244.37" r="0.74" fill="#4fb0e0" opacity="0.9"/><circle cx="423.04" cy="248.85" r="0.59" fill="#2a7fb0" opacity="0.68"/><circle cx="538.07" cy="293.93" r="0.6" fill="#4fb0e0" opacity="0.57"/><circle cx="468.11" cy="290.37" r="0.43" fill="#4fb0e0" opacity="0.92"/><circle cx="494.06" cy="277.94" r="0.43" fill="#1f6f98" opacity="0.62"/><circle cx="516.69" cy="261.22" r="0.53" fill="#1f6f98" opacity="0.58"/><circle cx="441.66" cy="234.88" r="0.52" fill="#1f6f98" opacity="0.48"/><circle cx="520.14" cy="264.23" r="0.31" fill="#2a7fb0" opacity="0.68"/><circle cx="480.23" cy="288.71" r="0.49" fill="#2f8fc0" opacity="0.57"/><circle cx="525.88" cy="239.67" r="0.59" fill="#1f6f98" opacity="0.46"/><circle cx="519.88" cy="210.24" r="0.64" fill="#2a7fb0" opacity="0.66"/><circle cx="442.12" cy="241.27" r="0.61" fill="#1f6f98" opacity="0.49"/><circle cx="485.03" cy="182.26" r="0.42" fill="#2f8fc0" opacity="0.86"/><circle cx="517.34" cy="280.82" r="0.62" fill="#2f8fc0" opacity="0.62"/><circle cx="517.73" cy="243.4" r="0.44" fill="#1f6f98" opacity="0.86"/><circle cx="464.81" cy="273.74" r="0.47" fill="#4fb0e0" opacity="0.54"/><circle cx="475.19" cy="209.43" r="0.33" fill="#2f8fc0" opacity="0.62"/><circle cx="529.58" cy="215.34" r="0.39" fill="#1f6f98" opacity="0.99"/><circle cx="526.56" cy="261.25" r="0.71" fill="#4fb0e0" opacity="0.74"/><circle cx="533.39" cy="210.58" r="0.64" fill="#1f6f98" opacity="0.87"/><circle cx="513.6" cy="226.38" r="0.6" fill="#4fb0e0" opacity="0.76"/><circle cx="439.08" cy="291.08" r="0.31" fill="#4fb0e0" opacity="0.74"/><circle cx="442.98" cy="257.99" r="0.41" fill="#4fb0e0" opacity="0.6"/><circle cx="430.68" cy="279.87" r="0.44" fill="#1f6f98" opacity="0.93"/><circle cx="486.17" cy="264.52" r="0.73" fill="#4fb0e0" opacity="0.96"/><circle cx="469.99" cy="291.84" r="0.59" fill="#2f8fc0" opacity="0.9"/><circle cx="426.89" cy="251.46" r="0.52" fill="#2f8fc0" opacity="0.73"/><circle cx="487.87" cy="234.63" r="0.32" fill="#2f8fc0" opacity="0.8"/><circle cx="475.19" cy="187.38" r="0.7" fill="#2f8fc0" opacity="0.9"/><circle cx="536.35" cy="295.2" r="0.31" fill="#4fb0e0" opacity="0.7"/><circle cx="471.98" cy="210.18" r="0.58" fill="#2f8fc0" opacity="0.96"/><circle cx="518.82" cy="272.31" r="0.48" fill="#4fb0e0" opacity="0.71"/><circle cx="464.61" cy="293.21" r="0.7" fill="#2a7fb0" opacity="0.83"/><circle cx="452.29" cy="210.14" r="0.34" fill="#2a7fb0" opacity="0.54"/><circle cx="520.55" cy="187.32" r="0.42" fill="#4fb0e0" opacity="0.89"/><circle cx="535.96" cy="198.56" r="0.37" fill="#4fb0e0" opacity="0.77"/><circle cx="514.88" cy="187.23" r="0.62" fill="#2f8fc0" opacity="0.88"/><circle cx="498.42" cy="188.39" r="0.46" fill="#2f8fc0" opacity="0.53"/><circle cx="455.88" cy="292.26" r="0.38" fill="#1f6f98" opacity="0.58"/><circle cx="445.33" cy="235.33" r="0.46" fill="#1f6f98" opacity="0.72"/><circle cx="473.76" cy="287.76" r="0.58" fill="#4fb0e0" opacity="0.53"/><circle cx="431.05" cy="231.57" r="0.51" fill="#2a7fb0" opacity="0.97"/><circle cx="519.04" cy="288.98" r="0.46" fill="#2f8fc0" opacity="0.75"/><circle cx="454.54" cy="281.16" r="0.4" fill="#2f8fc0" opacity="0.73"/><circle cx="529.16" cy="241.31" r="0.6" fill="#1f6f98" opacity="0.96"/><circle cx="491.87" cy="238.43" r="0.34" fill="#1f6f98" opacity="0.54"/><circle cx="497.49" cy="244.12" r="0.65" fill="#2a7fb0" opacity="0.56"/><circle cx="536.31" cy="218.79" r="0.41" fill="#1f6f98" opacity="0.94"/><circle cx="454.81" cy="225.48" r="0.68" fill="#4fb0e0" opacity="0.56"/><circle cx="461.51" cy="279.93" r="0.38" fill="#4fb0e0" opacity="0.77"/><circle cx="535.72" cy="262.51" r="0.32" fill="#1f6f98" opacity="0.89"/><circle cx="436.35" cy="229.65" r="0.66" fill="#2f8fc0" opacity="0.5"/><circle cx="517.01" cy="257.61" r="0.31" fill="#4fb0e0" opacity="1"/><circle cx="536.49" cy="277.76" r="0.68" fill="#2f8fc0" opacity="0.96"/><circle cx="434.9" cy="241.94" r="0.71" fill="#2a7fb0" opacity="0.72"/><circle cx="467.69" cy="242.16" r="0.58" fill="#2a7fb0" opacity="0.71"/><circle cx="432.4" cy="270.22" r="0.47" fill="#2a7fb0" opacity="0.54"/><circle cx="513.86" cy="198.88" r="0.31" fill="#2f8fc0" opacity="0.52"/><circle cx="459.99" cy="244.33" r="0.66" fill="#2f8fc0" opacity="0.93"/><circle cx="462.09" cy="276.56" r="0.72" fill="#1f6f98" opacity="0.64"/><circle cx="455.15" cy="297.93" r="0.5" fill="#1f6f98" opacity="0.63"/><circle cx="504.73" cy="209.45" r="0.61" fill="#1f6f98" opacity="0.79"/><circle cx="446.14" cy="256.85" r="0.37" fill="#2a7fb0" opacity="0.72"/><circle cx="501.92" cy="203.41" r="0.59" fill="#4fb0e0" opacity="0.82"/><circle cx="446.35" cy="292.48" r="0.38" fill="#4fb0e0" opacity="0.78"/><circle cx="473.57" cy="296.08" r="0.65" fill="#1f6f98" opacity="0.48"/><circle cx="471.32" cy="204.61" r="0.61" fill="#4fb0e0" opacity="0.88"/><circle cx="529.41" cy="247.84" r="0.31" fill="#4fb0e0" opacity="0.71"/><circle cx="460.28" cy="239.75" r="0.66" fill="#2a7fb0" opacity="0.85"/><circle cx="460.26" cy="297.95" r="0.41" fill="#2f8fc0" opacity="0.88"/><circle cx="526.44" cy="278.78" r="0.48" fill="#4fb0e0" opacity="0.9"/><circle cx="445.64" cy="296.95" r="0.71" fill="#2f8fc0" opacity="0.61"/><circle cx="479.24" cy="276.98" r="0.72" fill="#2f8fc0" opacity="0.88"/><circle cx="483.74" cy="263.28" r="0.49" fill="#2f8fc0" opacity="0.78"/><circle cx="519.53" cy="187.23" r="0.74" fill="#2f8fc0" opacity="0.51"/><circle cx="497.99" cy="185.4" r="0.34" fill="#2a7fb0" opacity="0.95"/><circle cx="495.81" cy="291.04" r="0.6" fill="#1f6f98" opacity="0.7"/><circle cx="451.47" cy="286.46" r="0.4" fill="#2a7fb0" opacity="0.68"/><circle cx="462.08" cy="200.26" r="0.54" fill="#2f8fc0" opacity="0.92"/><circle cx="534.99" cy="291.52" r="0.62" fill="#2f8fc0" opacity="0.67"/><circle cx="464.15" cy="289.72" r="0.67" fill="#4fb0e0" opacity="0.87"/><circle cx="419.44" cy="187.13" r="0.7" fill="#2a7fb0" opacity="0.9"/><circle cx="461.46" cy="256.8" r="0.55" fill="#2a7fb0" opacity="0.89"/><circle cx="525.31" cy="281.32" r="0.74" fill="#1f6f98" opacity="0.84"/><circle cx="470.97" cy="213.68" r="0.64" fill="#2f8fc0" opacity="0.57"/><circle cx="472.18" cy="223.81" r="0.47" fill="#1f6f98" opacity="0.93"/><circle cx="489.53" cy="285.25" r="0.73" fill="#4fb0e0" opacity="0.49"/><circle cx="522.41" cy="275.03" r="0.57" fill="#2a7fb0" opacity="0.86"/><circle cx="522.67" cy="288.06" r="0.41" fill="#4fb0e0" opacity="0.63"/><circle cx="484.06" cy="227.15" r="0.37" fill="#2a7fb0" opacity="0.7"/><circle cx="470.48" cy="242.43" r="0.6" fill="#1f6f98" opacity="0.46"/><circle cx="457.26" cy="227.14" r="0.48" fill="#4fb0e0" opacity="0.82"/><circle cx="506.87" cy="266.04" r="0.69" fill="#2a7fb0" opacity="0.57"/><circle cx="467.07" cy="254.02" r="0.65" fill="#2a7fb0" opacity="0.8"/><circle cx="472.84" cy="214.14" r="0.38" fill="#4fb0e0" opacity="0.66"/><circle cx="445.35" cy="233.25" r="0.66" fill="#2f8fc0" opacity="0.47"/><circle cx="454.74" cy="289.28" r="0.64" fill="#2a7fb0" opacity="0.95"/><circle cx="495.22" cy="223.84" r="0.4" fill="#1f6f98" opacity="0.77"/><circle cx="532.61" cy="287.25" r="0.42" fill="#1f6f98" opacity="0.63"/><circle cx="530.5" cy="232.1" r="0.62" fill="#1f6f98" opacity="0.57"/><circle cx="493.93" cy="277.06" r="0.39" fill="#2f8fc0" opacity="0.95"/><circle cx="502.35" cy="272.89" r="0.34" fill="#2f8fc0" opacity="0.54"/><circle cx="533.29" cy="193.82" r="0.71" fill="#2a7fb0" opacity="0.66"/><circle cx="510.24" cy="235.63" r="0.47" fill="#4fb0e0" opacity="0.81"/><circle cx="454.54" cy="270.54" r="0.65" fill="#4fb0e0" opacity="0.8"/><circle cx="479.58" cy="265.23" r="0.31" fill="#1f6f98" opacity="0.97"/><circle cx="427.3" cy="283.58" r="0.6" fill="#2f8fc0" opacity="0.82"/><circle cx="451.39" cy="273.72" r="0.58" fill="#1f6f98" opacity="0.68"/><circle cx="444.46" cy="272.26" r="0.73" fill="#4fb0e0" opacity="0.78"/><circle cx="460.68" cy="211.92" r="0.38" fill="#1f6f98" opacity="0.9"/><circle cx="426.37" cy="267.87" r="0.7" fill="#4fb0e0" opacity="0.79"/><circle cx="423.72" cy="259.87" r="0.46" fill="#2a7fb0" opacity="0.64"/><circle cx="484.52" cy="199.76" r="0.43" fill="#4fb0e0" opacity="0.74"/><circle cx="487.29" cy="182.46" r="0.38" fill="#2f8fc0" opacity="0.98"/><circle cx="536.52" cy="252.65" r="0.43" fill="#2a7fb0" opacity="0.64"/><circle cx="511.63" cy="190.75" r="0.58" fill="#4fb0e0" opacity="0.87"/><circle cx="437.3" cy="256.87" r="0.56" fill="#1f6f98" opacity="0.69"/><circle cx="500.92" cy="223.44" r="0.54" fill="#1f6f98" opacity="0.66"/><circle cx="426.99" cy="229.4" r="0.51" fill="#4fb0e0" opacity="0.75"/><circle cx="476.38" cy="236.64" r="0.58" fill="#1f6f98" opacity="0.93"/><circle cx="505.58" cy="290.38" r="0.64" fill="#1f6f98" opacity="0.93"/><circle cx="430.59" cy="251.86" r="0.45" fill="#2a7fb0" opacity="0.77"/><circle cx="472.88" cy="190.44" r="0.32" fill="#2f8fc0" opacity="0.99"/><circle cx="500.55" cy="202.98" r="0.45" fill="#4fb0e0" opacity="0.62"/><circle cx="448.55" cy="210.26" r="0.43" fill="#2f8fc0" opacity="0.61"/><circle cx="466.73" cy="202.25" r="0.68" fill="#2a7fb0" opacity="0.91"/><circle cx="497.9" cy="228.95" r="0.37" fill="#4fb0e0" opacity="0.62"/><circle cx="470.65" cy="195.95" r="0.68" fill="#2a7fb0" opacity="0.9"/><circle cx="428.45" cy="268.77" r="0.48" fill="#1f6f98" opacity="0.55"/><circle cx="474.92" cy="203.31" r="0.66" fill="#2f8fc0" opacity="0.63"/><circle cx="519.82" cy="255.45" r="0.44" fill="#1f6f98" opacity="0.54"/><circle cx="530.52" cy="215.13" r="0.59" fill="#2f8fc0" opacity="0.48"/><circle cx="447.16" cy="269.9" r="0.73" fill="#1f6f98" opacity="0.75"/><circle cx="533.01" cy="185.74" r="0.4" fill="#2f8fc0" opacity="0.78"/><circle cx="490.48" cy="191.39" r="0.46" fill="#2a7fb0" opacity="0.65"/><circle cx="432.61" cy="259.34" r="0.35" fill="#1f6f98" opacity="0.52"/><circle cx="456.67" cy="209.14" r="0.52" fill="#2f8fc0" opacity="0.65"/><circle cx="449.88" cy="238.62" r="0.5" fill="#2f8fc0" opacity="0.67"/><circle cx="473.46" cy="221.94" r="0.72" fill="#4fb0e0" opacity="0.67"/><circle cx="456.46" cy="242.15" r="0.71" fill="#2a7fb0" opacity="0.49"/><circle cx="507.97" cy="236.45" r="0.68" fill="#4fb0e0" opacity="0.48"/><circle cx="494.64" cy="295.42" r="0.58" fill="#2a7fb0" opacity="0.9"/><circle cx="426.38" cy="237.83" r="0.36" fill="#2f8fc0" opacity="0.9"/><circle cx="519.34" cy="241.45" r="0.53" fill="#1f6f98" opacity="0.7"/><circle cx="501.79" cy="182.82" r="0.54" fill="#2a7fb0" opacity="0.6"/><circle cx="525.18" cy="219.41" r="0.35" fill="#4fb0e0" opacity="0.45"/><circle cx="484.08" cy="202.41" r="0.5" fill="#2a7fb0" opacity="0.93"/><circle cx="521.6" cy="241.44" r="0.43" fill="#2f8fc0" opacity="0.99"/><circle cx="492.59" cy="258.5" r="0.67" fill="#2a7fb0" opacity="0.93"/><circle cx="531.74" cy="291.01" r="0.65" fill="#4fb0e0" opacity="0.94"/><circle cx="463.46" cy="269.96" r="0.47" fill="#2a7fb0" opacity="1"/><circle cx="473.33" cy="232.22" r="0.43" fill="#4fb0e0" opacity="0.88"/><circle cx="462.77" cy="224.35" r="0.37" fill="#4fb0e0" opacity="0.65"/><circle cx="472.97" cy="242.13" r="0.59" fill="#1f6f98" opacity="0.55"/><circle cx="475.45" cy="250.12" r="0.44" fill="#2f8fc0" opacity="0.68"/><circle cx="427.6" cy="249.47" r="0.39" fill="#1f6f98" opacity="0.71"/><circle cx="495.48" cy="266.8" r="0.72" fill="#2a7fb0" opacity="0.62"/><circle cx="468.93" cy="227.69" r="0.44" fill="#4fb0e0" opacity="0.61"/><circle cx="509.53" cy="296.73" r="0.32" fill="#4fb0e0" opacity="0.65"/><circle cx="444.32" cy="276.64" r="0.59" fill="#2f8fc0" opacity="0.63"/><circle cx="443.04" cy="284.59" r="0.72" fill="#4fb0e0" opacity="0.85"/><circle cx="497.55" cy="200.45" r="0.58" fill="#2f8fc0" opacity="0.52"/><circle cx="475.05" cy="298.38" r="0.52" fill="#4fb0e0" opacity="0.74"/><circle cx="523" cy="248.9" r="0.72" fill="#4fb0e0" opacity="0.98"/><circle cx="469.3" cy="203.85" r="0.3" fill="#4fb0e0" opacity="0.85"/><circle cx="495.02" cy="281.9" r="0.67" fill="#2f8fc0" opacity="0.77"/><circle cx="512.93" cy="280.49" r="0.51" fill="#2f8fc0" opacity="0.71"/><circle cx="525.85" cy="200.75" r="0.36" fill="#2f8fc0" opacity="0.77"/><circle cx="453.38" cy="218.75" r="0.58" fill="#2a7fb0" opacity="0.54"/><circle cx="462.71" cy="270.4" r="0.72" fill="#2f8fc0" opacity="0.94"/><circle cx="515.46" cy="206.55" r="0.62" fill="#2a7fb0" opacity="0.5"/><circle cx="456.69" cy="255.7" r="0.74" fill="#1f6f98" opacity="0.73"/><circle cx="498.08" cy="209.43" r="0.4" fill="#2f8fc0" opacity="0.76"/><circle cx="518.81" cy="262.75" r="0.48" fill="#2a7fb0" opacity="0.63"/><circle cx="426.52" cy="290.94" r="0.73" fill="#1f6f98" opacity="0.72"/><circle cx="534.72" cy="235.95" r="0.67" fill="#2f8fc0" opacity="0.59"/><circle cx="462.21" cy="242.71" r="0.58" fill="#4fb0e0" opacity="0.54"/><circle cx="491.46" cy="296.93" r="0.63" fill="#2f8fc0" opacity="0.86"/><circle cx="421.36" cy="279.88" r="0.36" fill="#2a7fb0" opacity="0.68"/><circle cx="462.24" cy="200.3" r="0.37" fill="#1f6f98" opacity="0.96"/><circle cx="470.32" cy="202.81" r="0.41" fill="#2a7fb0" opacity="0.73"/><circle cx="504.77" cy="244.44" r="0.6" fill="#1f6f98" opacity="0.59"/><circle cx="458.76" cy="240.49" r="0.37" fill="#2f8fc0" opacity="0.88"/><circle cx="487.59" cy="293.5" r="0.35" fill="#2a7fb0" opacity="0.54"/><circle cx="466.22" cy="235.16" r="0.36" fill="#2a7fb0" opacity="0.98"/><circle cx="470.59" cy="195.77" r="0.32" fill="#2a7fb0" opacity="0.57"/><circle cx="454.16" cy="261.19" r="0.36" fill="#4fb0e0" opacity="0.9"/><circle cx="439.12" cy="247.63" r="0.63" fill="#2a7fb0" opacity="0.82"/><circle cx="430.32" cy="242.37" r="0.57" fill="#1f6f98" opacity="0.76"/><circle cx="538.98" cy="191.76" r="0.49" fill="#4fb0e0" opacity="0.46"/><circle cx="447.69" cy="288.49" r="0.34" fill="#2f8fc0" opacity="0.86"/><circle cx="467.31" cy="224.87" r="0.67" fill="#4fb0e0" opacity="0.57"/><circle cx="458.7" cy="284.94" r="0.47" fill="#2f8fc0" opacity="0.6"/><circle cx="536.63" cy="203.29" r="0.5" fill="#2f8fc0" opacity="0.7"/><circle cx="527.19" cy="268.47" r="0.67" fill="#2f8fc0" opacity="0.76"/><circle cx="441.95" cy="282.38" r="0.31" fill="#4fb0e0" opacity="0.98"/><circle cx="521.74" cy="272.51" r="0.37" fill="#2a7fb0" opacity="0.51"/><circle cx="457.24" cy="289.34" r="0.52" fill="#4fb0e0" opacity="0.51"/><circle cx="455.85" cy="246.12" r="0.63" fill="#2a7fb0" opacity="0.95"/><circle cx="457.46" cy="261.64" r="0.51" fill="#2a7fb0" opacity="0.98"/><circle cx="478.01" cy="287.75" r="0.47" fill="#4fb0e0" opacity="0.91"/><circle cx="439.57" cy="254.86" r="0.73" fill="#2f8fc0" opacity="0.86"/><circle cx="455.55" cy="232.67" r="0.5" fill="#2f8fc0" opacity="0.82"/><circle cx="431.22" cy="277.65" r="0.7" fill="#2a7fb0" opacity="0.82"/><circle cx="456.86" cy="291.71" r="0.67" fill="#4fb0e0" opacity="0.84"/><circle cx="437.55" cy="267.82" r="0.62" fill="#4fb0e0" opacity="0.8"/><circle cx="441.59" cy="228.41" r="0.33" fill="#4fb0e0" opacity="0.99"/><circle cx="486.12" cy="193.9" r="0.7" fill="#2a7fb0" opacity="0.71"/><circle cx="535.02" cy="205.61" r="0.41" fill="#2a7fb0" opacity="0.71"/><circle cx="484.73" cy="185.12" r="0.31" fill="#1f6f98" opacity="0.66"/><circle cx="443.76" cy="221.3" r="0.59" fill="#2f8fc0" opacity="0.64"/><circle cx="484.11" cy="291.43" r="0.66" fill="#4fb0e0" opacity="0.55"/><circle cx="520.24" cy="216.3" r="0.43" fill="#2a7fb0" opacity="0.89"/>
<circle cx="462.77" cy="239.7" r="0.58" fill="#3f9fd0" opacity="0.87"/>
<circle cx="463.21" cy="273.72" r="0.58" fill="#3f9fd0" opacity="0.82"/>
<circle cx="461.15" cy="272.44" r="0.37" fill="#3f9fd0" opacity="0.77"/>
<circle cx="465.78" cy="232.09" r="0.38" fill="#3f9fd0" opacity="0.96"/>
<circle cx="455.56" cy="259.22" r="0.34" fill="#3f9fd0" opacity="0.81"/>
<circle cx="525.93" cy="209.35" r="0.36" fill="#3f9fd0" opacity="0.61"/>
<circle cx="470.72" cy="277.03" r="0.59" fill="#3f9fd0" opacity="0.77"/>
<circle cx="457.88" cy="247.44" r="0.51" fill="#3f9fd0" opacity="0.98"/>
<circle cx="460.72" cy="271.84" r="0.35" fill="#3f9fd0" opacity="0.57"/>
<circle cx="535.6" cy="212.07" r="0.3" fill="#3f9fd0" opacity="0.84"/>
<circle cx="495.67" cy="210.02" r="0.44" fill="#3f9fd0" opacity="0.66"/>
<circle cx="477.35" cy="221.07" r="0.59" fill="#3f9fd0" opacity="0.51"/>
<circle cx="457.07" cy="255.79" r="0.54" fill="#3f9fd0" opacity="0.68"/>
<circle cx="465.38" cy="232.44" r="0.35" fill="#3f9fd0" opacity="0.98"/>
<circle cx="517.59" cy="207.66" r="0.58" fill="#3f9fd0" opacity="0.67"/>
<circle cx="493.7" cy="211.25" r="0.33" fill="#3f9fd0" opacity="0.87"/>
<circle cx="457.2" cy="261.64" r="0.58" fill="#3f9fd0" opacity="0.55"/>
<circle cx="495.76" cy="210.39" r="0.4" fill="#3f9fd0" opacity="0.96"/>
<circle cx="469.08" cy="228.58" r="0.35" fill="#3f9fd0" opacity="0.54"/>
<circle cx="524" cy="208.98" r="0.35" fill="#3f9fd0" opacity="0.52"/>
<circle cx="470.62" cy="277.47" r="0.37" fill="#3f9fd0" opacity="0.8"/>
<circle cx="457.8" cy="265.24" r="0.32" fill="#3f9fd0" opacity="0.96"/>
<circle cx="540.89" cy="214.38" r="0.34" fill="#3f9fd0" opacity="0.87"/>
<circle cx="466.99" cy="275.88" r="0.33" fill="#3f9fd0" opacity="0.72"/>
<circle cx="524.19" cy="207.85" r="0.44" fill="#3f9fd0" opacity="1"/>
<circle cx="459.74" cy="267.95" r="0.45" fill="#3f9fd0" opacity="0.86"/>
<circle cx="476.94" cy="221.38" r="0.34" fill="#3f9fd0" opacity="0.69"/>
<circle cx="471.47" cy="277.92" r="0.45" fill="#3f9fd0" opacity="0.67"/>
<circle cx="531.87" cy="210.92" r="0.56" fill="#3f9fd0" opacity="0.68"/>
<circle cx="456.59" cy="261.55" r="0.5" fill="#3f9fd0" opacity="0.88"/>
<circle cx="492.81" cy="211.12" r="0.45" fill="#3f9fd0" opacity="0.88"/>
<circle cx="457.69" cy="249.23" r="0.49" fill="#3f9fd0" opacity="0.79"/>
<circle cx="544.23" cy="214.71" r="0.5" fill="#3f9fd0" opacity="0.73"/>
<circle cx="457.69" cy="264.85" r="0.4" fill="#3f9fd0" opacity="0.82"/>
<circle cx="457.35" cy="254.69" r="0.55" fill="#3f9fd0" opacity="0.93"/>
<circle cx="458.85" cy="248.9" r="0.46" fill="#3f9fd0" opacity="0.76"/>
<circle cx="521.87" cy="208.44" r="0.44" fill="#3f9fd0" opacity="0.85"/>
<circle cx="457.65" cy="251.93" r="0.53" fill="#3f9fd0" opacity="0.79"/>
<circle cx="458.61" cy="245.25" r="0.53" fill="#3f9fd0" opacity="0.82"/>
<circle cx="456.51" cy="252.01" r="0.43" fill="#3f9fd0" opacity="0.83"/>
<circle cx="514.4" cy="206.6" r="0.31" fill="#3f9fd0" opacity="0.74"/>
<circle cx="512.34" cy="205.83" r="0.4" fill="#3f9fd0" opacity="0.59"/>
<circle cx="516.87" cy="206.99" r="0.41" fill="#3f9fd0" opacity="0.81"/>
<circle cx="464.76" cy="235.4" r="0.3" fill="#3f9fd0" opacity="0.7"/>
<circle cx="504.87" cy="207.14" r="0.55" fill="#3f9fd0" opacity="0.69"/>
</g>
<rect x="420.2" y="180.6" width="26" height="5.4" fill="#2a2a2c" />
<text x="423.4" y="187.2" font-size="9.4" fill="#4d7db8" letter-spacing="0.1">Amylo-Glo</text>
<rect x="424.9" y="290.7" width="31.5" height="3.4" fill="#fff" />
<text x="459" y="295.2" font-size="7.6" fill="#fff" >1 mm</text>
<text transform="translate(554.3 179.9) scale(1.06 1)" font-size="13.2" font-weight="bold" fill="#111">f</text>
<text x="634.8" y="177.8" font-size="9.5" fill="#3a3a3a" text-anchor="middle" >Total amyloid</text>
<line x1="589.3" y1="187" x2="589.3" y2="313.3" stroke="#9a9a9a" stroke-width="0.8" />
<line x1="589.3" y1="313.3" x2="680.8" y2="313.3" stroke="#9a9a9a" stroke-width="0.8" />
<line x1="586.3" y1="187" x2="589.3" y2="187" stroke="#9a9a9a" stroke-width="0.8" />
<text x="584.7" y="189.9" font-size="8.3" fill="#3a3a3a" text-anchor="end" letter-spacing="0.35" stroke="#3a3a3a" stroke-width="0.2">1.5</text>
<line x1="586.3" y1="229.1" x2="589.3" y2="229.1" stroke="#9a9a9a" stroke-width="0.8" />
<text x="584.7" y="232" font-size="8.3" fill="#3a3a3a" text-anchor="end" letter-spacing="0.35" stroke="#3a3a3a" stroke-width="0.2">1.0</text>
<line x1="586.3" y1="271.2" x2="589.3" y2="271.2" stroke="#9a9a9a" stroke-width="0.8" />
<text x="584.7" y="274.1" font-size="8.3" fill="#3a3a3a" text-anchor="end" letter-spacing="0.35" stroke="#3a3a3a" stroke-width="0.2">0.5</text>
<line x1="586.3" y1="313.3" x2="589.3" y2="313.3" stroke="#9a9a9a" stroke-width="0.8" />
<text x="584.7" y="316.2" font-size="8.3" fill="#3a3a3a" text-anchor="end" letter-spacing="0.35" stroke="#3a3a3a" stroke-width="0.2">0</text>
<text x="561.7" y="250.4" font-size="9.2" fill="#3a3a3a" text-anchor="middle" transform="rotate(-90 561.7 250.4)" >Amyloid (% area)</text>
<line x1="589.3" y1="303.8" x2="680.8" y2="303.8" stroke="#b5b5b5" stroke-width="0.8" stroke-dasharray="2.4 2.4"/>
<line x1="615.1" y1="217.31" x2="615.1" y2="296.46" stroke="#555" stroke-width="0.65" />
<line x1="609.6" y1="217.31" x2="620.6" y2="217.31" stroke="#555" stroke-width="0.65" />
<line x1="609.6" y1="296.46" x2="620.6" y2="296.46" stroke="#555" stroke-width="0.65" />
<rect x="602.4" y="256.89" width="25.4" height="35.36" fill="#ec5157" stroke="#73262c" stroke-width="0.5" />
<line x1="602.4" y1="272.04" x2="627.8" y2="272.04" stroke="#73262c" stroke-width="0.75" />
<line x1="654.3" y1="263.2" x2="654.3" y2="311.62" stroke="#555" stroke-width="0.65" />
<line x1="648.8" y1="263.2" x2="659.8" y2="263.2" stroke="#555" stroke-width="0.65" />
<line x1="648.8" y1="311.62" x2="659.8" y2="311.62" stroke="#555" stroke-width="0.65" />
<rect x="641.6" y="288.04" width="25.4" height="17.26" fill="#3a74b9" stroke="#234877" stroke-width="0.5" />
<line x1="641.6" y1="300.67" x2="667" y2="300.67" stroke="#234877" stroke-width="0.75" />
<circle cx="609.5" cy="217.6" r="2.3" fill="#a81627" stroke="#5e0d16" stroke-width="0.5" />
<circle cx="615.2" cy="218.4" r="2.3" fill="#a81627" stroke="#5e0d16" stroke-width="0.5" />
<circle cx="620.2" cy="251" r="2.3" fill="#a81627" stroke="#5e0d16" stroke-width="0.5" />
<polygon points="615.2,251.77 612.51,256.72 617.89,256.72" fill="#a81627" stroke="#5e0d16" stroke-width="0.5"/>
<circle cx="625.8" cy="266.6" r="2.3" fill="#a81627" stroke="#5e0d16" stroke-width="0.5" />
<circle cx="604.2" cy="271.6" r="2.3" fill="#a81627" stroke="#5e0d16" stroke-width="0.5" />
<polygon points="609.4,269.77 606.71,274.72 612.09,274.72" fill="#a81627" stroke="#5e0d16" stroke-width="0.5"/>
<polygon points="615.2,269.97 612.51,274.92 617.89,274.92" fill="#a81627" stroke="#5e0d16" stroke-width="0.5"/>
<circle cx="620.6" cy="270" r="2.3" fill="#a81627" stroke="#5e0d16" stroke-width="0.5" />
<circle cx="625.6" cy="271.8" r="2.3" fill="#a81627" stroke="#5e0d16" stroke-width="0.5" />
<polygon points="615.2,277.37 612.51,282.32 617.89,282.32" fill="#a81627" stroke="#5e0d16" stroke-width="0.5"/>
<circle cx="609.8" cy="292.8" r="2.3" fill="#a81627" stroke="#5e0d16" stroke-width="0.5" />
<polygon points="615.3,291.57 612.61,296.52 617.99,296.52" fill="#a81627" stroke="#5e0d16" stroke-width="0.5"/>
<polygon points="620.6,290.97 617.91,295.92 623.29,295.92" fill="#a81627" stroke="#5e0d16" stroke-width="0.5"/>
<polygon points="604.2,293.57 601.51,298.52 606.89,298.52" fill="#a81627" stroke="#5e0d16" stroke-width="0.5"/>
<polygon points="625.6,293.77 622.91,298.72 628.29,298.72" fill="#a81627" stroke="#5e0d16" stroke-width="0.5"/>
<circle cx="654.3" cy="263.4" r="2.3" fill="#1f58a2" stroke="#152f5c" stroke-width="0.5" />
<circle cx="651.6" cy="271.8" r="2.3" fill="#1f58a2" stroke="#152f5c" stroke-width="0.5" />
<circle cx="657.2" cy="271.8" r="2.3" fill="#1f58a2" stroke="#152f5c" stroke-width="0.5" />
<polygon points="659.4,284.57 656.71,289.52 662.09,289.52" fill="#1f58a2" stroke="#152f5c" stroke-width="0.5"/>
<circle cx="654.2" cy="291.2" r="2.3" fill="#1f58a2" stroke="#152f5c" stroke-width="0.5" />
<polygon points="643.6,294.57 640.91,299.52 646.29,299.52" fill="#1f58a2" stroke="#152f5c" stroke-width="0.5"/>
<polygon points="648.8,294.57 646.11,299.52 651.49,299.52" fill="#1f58a2" stroke="#152f5c" stroke-width="0.5"/>
<circle cx="665" cy="298.8" r="2.3" fill="#1f58a2" stroke="#152f5c" stroke-width="0.5" />
<circle cx="654.3" cy="300.4" r="2.3" fill="#1f58a2" stroke="#152f5c" stroke-width="0.5" />
<polygon points="643.6,299.97 640.91,304.92 646.29,304.92" fill="#1f58a2" stroke="#152f5c" stroke-width="0.5"/>
<polygon points="648.8,299.97 646.11,304.92 651.49,304.92" fill="#1f58a2" stroke="#152f5c" stroke-width="0.5"/>
<polygon points="659.6,299.37 656.91,304.32 662.29,304.32" fill="#1f58a2" stroke="#152f5c" stroke-width="0.5"/>
<circle cx="664.8" cy="304.2" r="2.3" fill="#1f58a2" stroke="#152f5c" stroke-width="0.5" />
<polygon points="654.3,304.77 651.61,309.72 656.99,309.72" fill="#1f58a2" stroke="#152f5c" stroke-width="0.5"/>
<polygon points="651.8,309.17 649.11,314.12 654.49,314.12" fill="#1f58a2" stroke="#152f5c" stroke-width="0.5"/>
<circle cx="656.8" cy="312" r="2.3" fill="#1f58a2" stroke="#152f5c" stroke-width="0.5" />
<polyline points="614.7,217.6 614.7,208.5 654.5,208.5 654.5,256.8" fill="none" stroke="#7d7d7d" stroke-width="0.65"/>
<line x1="614.7" y1="256.89" x2="614.7" y2="217.6" stroke="#666" stroke-width="0.6" />
<text x="634.6" y="207.6" font-size="11" fill="#3a3a3a" text-anchor="middle" letter-spacing="0.35" stroke="#3a3a3a" stroke-width="0.2">**</text>
<circle cx="599.3" cy="186.3" r="2.4" fill="#fff" stroke="#444" stroke-width="0.55" />
<text x="607.3" y="189" font-size="7.9" fill="#3a3a3a" >Female</text>
<polygon points="599.3,194.54 596.68,199.37 601.92,199.37" fill="#fff" stroke="#444" stroke-width="0.55"/>
<text x="607.3" y="199.6" font-size="7.9" fill="#3a3a3a" >Male</text>
<text x="613" y="326" font-size="9" fill="#3a3a3a" text-anchor="middle" >4s2/FAD</text>
<text x="656.6" y="326" font-size="9" fill="#3a3a3a" text-anchor="middle" >4s2<tspan dy="-3" font-size="60%">A</tspan><tspan dy="3" dx="0.5">/FAD</tspan></text>
<text transform="translate(1.6 325.9) scale(1.06 1)" font-size="13.2" font-weight="bold" fill="#111">g</text>
<text x="101.6" y="327.7" font-size="8.7" fill="#ee6a70" text-anchor="middle" >APOE4s2/FAD</text>
<text x="214.8" y="327.7" font-size="8.7" fill="#3f80c4" text-anchor="middle" >APOE4s2<tspan dy="-2.8" font-size="60%">A</tspan><tspan dy="2.8" dx="0.5">/FAD</tspan></text>
<defs><linearGradient id="cb" x1="0" y1="0" x2="0" y2="1"><stop offset="0" stop-color="#232021"/><stop offset="0.5" stop-color="#8c8d90"/><stop offset="1" stop-color="#ffffff"/></linearGradient></defs>
<rect x="27.6" y="363.8" width="13.4" height="92.2" fill="url(#cb)" stroke="#888" stroke-width="0.4" />
<text x="44.4" y="366" font-size="7.8" fill="#3a3a3a" >1.2</text>
<text x="44.4" y="412" font-size="7.8" fill="#3a3a3a" >0.6</text>
<text x="44.4" y="457.8" font-size="7.8" fill="#3a3a3a" >0</text>
<text x="20.8" y="406.7" font-size="8.9" fill="#3a3a3a" text-anchor="middle" transform="rotate(-90 20.8 406.7)" >Amyloid<tspan dy="-2.6" font-size="60%">+</tspan><tspan dy="2.6" dx="0.5"> area (%)</tspan></text>
<path d="M65.16 380.56 C65.16 367.42 65.13 360.56 65.16 354.28 C65.19 348 65.1 345.58 65.34 342.89 C65.57 340.21 65.8 339.27 66.56 338.16 C67.32 337.05 68.31 336.76 69.89 336.23 C71.47 335.71 72.67 335.42 76.02 335.01 C79.38 334.6 84.78 333.34 90.04 333.78 C95.29 334.22 101.72 335.91 107.56 337.64 C113.4 339.36 119.82 341.58 125.08 344.12 C130.33 346.66 135 349.37 139.09 352.88 C143.18 356.38 146.39 360.53 149.6 365.14 C152.82 369.75 156.03 375.07 158.36 380.56 C160.7 386.05 163.24 392.82 163.62 398.08 C164 403.33 162.04 407.86 160.64 412.09 C159.24 416.33 156.9 419.39 155.21 423.48 C153.52 427.57 152.58 432.09 150.48 436.62 C148.38 441.15 145.37 446.61 142.6 450.63 C139.82 454.66 136.76 458.61 133.84 460.8 C130.92 462.99 128 463.72 125.08 463.77 C122.16 463.83 118.89 462.55 116.32 461.15 C113.75 459.74 111.7 457.06 109.66 455.37 C107.62 453.67 106.01 452.59 104.05 450.99 C102.1 449.38 99.53 446.02 97.92 445.73 C96.32 445.44 96.61 447.34 94.42 449.23 C92.23 451.13 88.14 455.22 84.78 457.12 C81.42 459.01 77.25 460.3 74.27 460.62 C71.29 460.94 68.4 459.83 66.91 459.04 C65.42 458.26 65.63 460.21 65.34 455.89 C65.04 451.57 65.19 445.67 65.16 433.12 C65.13 420.56 65.16 393.7 65.16 380.56Z" fill="#a0a2a5" />
<path d="M65.34 342.89 C65.51 340.21 65.8 339.27 66.56 338.16 C67.32 337.05 68.31 336.76 69.89 336.23 C71.47 335.71 72.67 335.42 76.02 335.01 C79.38 334.6 84.78 333.34 90.04 333.78 C95.29 334.22 101.72 335.91 107.56 337.64 C113.4 339.36 119.82 341.58 125.08 344.12 C130.33 346.66 135 349.37 139.09 352.88 C143.18 356.38 146.39 360.53 149.6 365.14 C152.82 369.75 156.03 375.07 158.36 380.56 C160.7 386.05 163.24 392.82 163.62 398.08 C164 403.33 162.04 407.77 160.64 412.09 C159.24 416.41 157.63 422.6 155.21 424.01 C152.79 425.41 148.79 421.67 146.1 420.5 C143.41 419.33 140.06 419.86 139.09 417 C138.13 414.14 140.61 408.24 140.32 403.33 C140.03 398.43 139.15 392.18 137.34 387.57 C135.53 382.95 132.32 379.27 129.46 375.65 C126.6 372.03 123.82 368.82 120.17 365.84 C116.52 362.86 112 359.83 107.56 357.78 C103.12 355.74 97.92 354.28 93.54 353.58 C89.16 352.88 84.78 353.02 81.28 353.58 C77.78 354.13 74.97 355.68 72.52 356.91 C70.07 358.13 67.73 361.37 66.56 360.94 C65.39 360.5 65.72 357.29 65.51 354.28 C65.31 351.27 65.16 345.58 65.34 342.89Z" fill="#808285" />
<path d="M139.09 417 C141.14 416.06 143.41 419.33 146.1 420.5 C148.79 421.67 154.48 421.32 155.21 424.01 C155.94 426.69 152.58 432.18 150.48 436.62 C148.38 441.06 145.37 446.61 142.6 450.63 C139.82 454.66 136.76 458.61 133.84 460.8 C130.92 462.99 128 463.72 125.08 463.77 C122.16 463.83 118.89 462.55 116.32 461.15 C113.75 459.74 110.36 457.41 109.66 455.37 C108.96 453.32 111.12 450.84 112.11 448.88 C113.11 446.93 113.46 445.09 115.62 443.63 C117.78 442.17 122.04 443.04 125.08 440.12 C128.11 437.2 131.5 429.96 133.84 426.11 C136.17 422.25 137.05 417.93 139.09 417Z" fill="#a3a5a8" />
<path d="M125.08 374.95 C125.43 372.91 128.64 378.16 130.68 380.56 C132.73 382.95 135.76 385.52 137.34 389.32 C138.92 393.11 139.82 399.48 140.14 403.33 C140.46 407.19 140.55 410.34 139.27 412.44 C137.98 414.55 133.92 414.25 132.44 415.95 C130.95 417.64 131.71 420.41 130.33 422.6 C128.96 424.79 126.25 426.4 124.2 429.09 C122.16 431.77 119.53 436.24 118.07 438.72 C116.61 441.2 116.43 442.23 115.44 443.98 C114.45 445.73 113.08 447.34 112.11 449.23 C111.15 451.13 111 455.07 109.66 455.37 C108.32 455.66 106.1 452.59 104.05 450.99 C102.01 449.38 98.71 448.21 97.4 445.73 C96.08 443.25 94.77 438.49 96.17 436.09 C97.57 433.7 103.03 433.03 105.81 431.36 C108.58 429.7 110.92 428.44 112.81 426.11 C114.71 423.77 114.92 420.79 117.19 417.35 C119.47 413.9 124.58 409.52 126.48 405.44 C128.38 401.35 128.81 397.9 128.58 392.82 C128.35 387.74 124.73 377 125.08 374.95Z" fill="#d1d3d4" />
<path d="M137.34 411.04 C138.51 411.63 139.38 415.42 139.27 419.1 C139.15 422.78 137.84 429.03 136.64 433.12 C135.44 437.2 133.66 440.24 132.08 443.63 C130.51 447.01 128.93 451.98 127.18 453.44 C125.43 454.9 123.38 453.73 121.57 452.39 C119.76 451.04 116.9 447.72 116.32 445.38 C115.73 443.04 116.76 441.09 118.07 438.37 C119.38 435.66 122.16 431.71 124.2 429.09 C126.25 426.46 128.99 424.85 130.33 422.6 C131.68 420.36 131.09 417.52 132.26 415.6 C133.43 413.67 136.17 410.46 137.34 411.04Z" fill="#58595b" />
<path d="M65.16 422.6 C66.39 418.17 69.25 424.21 72.52 424.01 C75.79 423.8 80.69 422.84 84.78 421.38 C88.87 419.92 93.25 417 97.05 415.25 C100.84 413.49 104.87 411.89 107.56 410.87 C110.24 409.84 112.81 408.33 113.16 409.11 C113.51 409.9 111.41 412.76 109.66 415.6 C107.91 418.43 104.93 423.3 102.65 426.11 C100.37 428.91 96.93 430.08 96 432.41 C95.06 434.75 97.4 437.32 97.05 440.12 C96.7 442.93 95.94 446.4 93.89 449.23 C91.85 452.07 88.05 455.22 84.78 457.12 C81.51 459.01 77.34 460.33 74.27 460.62 C71.21 460.91 67.91 460.53 66.39 458.87 C64.87 457.2 65.37 456.68 65.16 450.63 C64.96 444.59 63.93 427.04 65.16 422.6Z" fill="#c0c2c4" />
<path d="M66.56 362.34 C67.29 360.67 70.07 359.1 72.52 357.78 C74.97 356.47 77.78 355.01 81.28 354.45 C84.78 353.9 89.45 353.72 93.54 354.45 C97.63 355.18 102.45 357.08 105.81 358.83 C109.16 360.59 111.7 362.8 113.69 364.97 C115.68 367.13 117.14 369.73 117.72 371.8 C118.3 373.87 118.3 376.03 117.19 377.4 C116.08 378.78 114.13 379.8 111.06 380.03 C108 380.27 102.89 378.86 98.8 378.81 C94.71 378.75 90.04 379.3 86.53 379.68 C83.03 380.06 80.26 381.75 77.78 381.08 C75.29 380.41 73.25 377.87 71.64 375.65 C70.04 373.43 68.99 369.99 68.14 367.77 C67.29 365.55 65.83 364 66.56 362.34Z" fill="#6f7073" />
<path d="M66.56 378.81 C67.03 377.11 67.61 376.18 68.31 375.65 C69.02 375.13 70.07 374.83 70.77 375.65 C71.47 376.47 71.35 379.71 72.52 380.56 C73.69 381.4 75.44 380.94 77.78 380.73 C80.11 380.53 83.03 379.71 86.53 379.33 C90.04 378.95 94.77 378.43 98.8 378.46 C102.83 378.48 108.35 378.57 110.71 379.51 C113.08 380.44 112.76 382.43 112.99 384.06 C113.22 385.7 111.7 387.27 112.11 389.32 C112.52 391.36 114.27 393.99 115.44 396.33 C116.61 398.66 119.09 401.41 119.12 403.33 C119.15 405.26 117.54 406.54 115.62 407.89 C113.69 409.23 110.65 410.08 107.56 411.39 C104.46 412.71 100.84 414.02 97.05 415.77 C93.25 417.52 88.87 420.44 84.78 421.9 C80.69 423.36 75.79 424.24 72.52 424.53 C69.25 424.82 66.39 428.06 65.16 423.66 C63.93 419.25 65.1 404.38 65.16 398.08 C65.22 391.77 65.28 389.03 65.51 385.81 C65.75 382.6 66.1 380.5 66.56 378.81Z" fill="#231f20" />
<path d="M71.82 377.4 l1.2 2.6 l1 -1.6 l2 0.6" fill="none" stroke="#bbb" stroke-width="0.5" />
<path d="M176.46 380.56 C176.46 367.42 176.43 360.56 176.46 354.28 C176.49 348 176.4 345.58 176.64 342.89 C176.87 340.21 177.1 339.27 177.86 338.16 C178.62 337.05 179.61 336.76 181.19 336.23 C182.77 335.71 183.97 335.42 187.32 335.01 C190.68 334.6 196.08 333.34 201.34 333.78 C206.59 334.22 213.02 335.91 218.86 337.64 C224.7 339.36 231.12 341.58 236.38 344.12 C241.63 346.66 246.3 349.37 250.39 352.88 C254.48 356.38 257.69 360.53 260.9 365.14 C264.12 369.75 267.33 375.07 269.66 380.56 C272 386.05 274.54 392.82 274.92 398.08 C275.3 403.33 273.34 407.86 271.94 412.09 C270.54 416.33 268.2 419.39 266.51 423.48 C264.82 427.57 263.88 432.09 261.78 436.62 C259.68 441.15 256.67 446.61 253.9 450.63 C251.12 454.66 248.06 458.61 245.14 460.8 C242.22 462.99 239.3 463.72 236.38 463.77 C233.46 463.83 230.19 462.55 227.62 461.15 C225.05 459.74 223 457.06 220.96 455.37 C218.92 453.67 217.31 452.59 215.35 450.99 C213.4 449.38 210.83 446.02 209.22 445.73 C207.62 445.44 207.91 447.34 205.72 449.23 C203.53 451.13 199.44 455.22 196.08 457.12 C192.72 459.01 188.55 460.3 185.57 460.62 C182.59 460.94 179.7 459.83 178.21 459.04 C176.72 458.26 176.93 460.21 176.64 455.89 C176.34 451.57 176.49 445.67 176.46 433.12 C176.43 420.56 176.46 393.7 176.46 380.56Z" fill="#cbccce" />
<path d="M176.64 342.89 C176.81 340.21 177.1 339.27 177.86 338.16 C178.62 337.05 179.61 336.76 181.19 336.23 C182.77 335.71 183.97 335.42 187.32 335.01 C190.68 334.6 196.08 333.34 201.34 333.78 C206.59 334.22 213.02 335.91 218.86 337.64 C224.7 339.36 231.12 341.58 236.38 344.12 C241.63 346.66 246.3 349.37 250.39 352.88 C254.48 356.38 257.69 360.53 260.9 365.14 C264.12 369.75 267.33 375.07 269.66 380.56 C272 386.05 274.54 392.82 274.92 398.08 C275.3 403.33 273.34 407.77 271.94 412.09 C270.54 416.41 268.93 422.6 266.51 424.01 C264.09 425.41 260.09 421.67 257.4 420.5 C254.71 419.33 251.36 419.86 250.39 417 C249.43 414.14 251.91 408.24 251.62 403.33 C251.33 398.43 250.45 392.18 248.64 387.57 C246.83 382.95 243.62 379.27 240.76 375.65 C237.9 372.03 235.12 368.82 231.47 365.84 C227.82 362.86 223.3 359.83 218.86 357.78 C214.42 355.74 209.22 354.28 204.84 353.58 C200.46 352.88 196.08 353.02 192.58 353.58 C189.08 354.13 186.27 355.68 183.82 356.91 C181.37 358.13 179.03 361.37 177.86 360.94 C176.69 360.5 177.02 357.29 176.81 354.28 C176.61 351.27 176.46 345.58 176.64 342.89Z" fill="#dddedf" />
<path d="M250.39 417 C252.44 416.06 254.71 419.33 257.4 420.5 C260.09 421.67 265.78 421.32 266.51 424.01 C267.24 426.69 263.88 432.18 261.78 436.62 C259.68 441.06 256.67 446.61 253.9 450.63 C251.12 454.66 248.06 458.61 245.14 460.8 C242.22 462.99 239.3 463.72 236.38 463.77 C233.46 463.83 230.19 462.55 227.62 461.15 C225.05 459.74 221.66 457.41 220.96 455.37 C220.26 453.32 222.42 450.84 223.41 448.88 C224.41 446.93 224.76 445.09 226.92 443.63 C229.08 442.17 233.34 443.04 236.38 440.12 C239.41 437.2 242.8 429.96 245.14 426.11 C247.47 422.25 248.35 417.93 250.39 417Z" fill="#dcddde" />
<path d="M236.38 374.95 C236.73 372.91 239.94 378.16 241.98 380.56 C244.03 382.95 247.06 385.52 248.64 389.32 C250.22 393.11 251.12 399.48 251.44 403.33 C251.76 407.19 251.85 410.34 250.57 412.44 C249.28 414.55 245.22 414.25 243.74 415.95 C242.25 417.64 243.01 420.41 241.63 422.6 C240.26 424.79 237.55 426.4 235.5 429.09 C233.46 431.77 230.83 436.24 229.37 438.72 C227.91 441.2 227.73 442.23 226.74 443.98 C225.75 445.73 224.38 447.34 223.41 449.23 C222.45 451.13 222.3 455.07 220.96 455.37 C219.62 455.66 217.4 452.59 215.35 450.99 C213.31 449.38 210.01 448.21 208.7 445.73 C207.38 443.25 206.07 438.49 207.47 436.09 C208.87 433.7 214.33 433.03 217.11 431.36 C219.88 429.7 222.22 428.44 224.11 426.11 C226.01 423.77 226.22 420.79 228.49 417.35 C230.77 413.9 235.88 409.52 237.78 405.44 C239.68 401.35 240.11 397.9 239.88 392.82 C239.65 387.74 236.03 377 236.38 374.95Z" fill="#ececed" />
<path d="M248.64 411.04 C249.81 411.63 250.68 415.42 250.57 419.1 C250.45 422.78 249.14 429.03 247.94 433.12 C246.74 437.2 244.96 440.24 243.38 443.63 C241.81 447.01 240.23 451.98 238.48 453.44 C236.73 454.9 234.68 453.73 232.87 452.39 C231.06 451.04 228.2 447.72 227.62 445.38 C227.03 443.04 228.06 441.09 229.37 438.37 C230.68 435.66 233.46 431.71 235.5 429.09 C237.55 426.46 240.29 424.85 241.63 422.6 C242.98 420.36 242.39 417.52 243.56 415.6 C244.73 413.67 247.47 410.46 248.64 411.04Z" fill="#818386" />
<path d="M176.46 422.6 C177.69 418.17 180.55 424.21 183.82 424.01 C187.09 423.8 191.99 422.84 196.08 421.38 C200.17 419.92 204.55 417 208.35 415.25 C212.14 413.49 216.17 411.89 218.86 410.87 C221.54 409.84 224.11 408.33 224.46 409.11 C224.81 409.9 222.71 412.76 220.96 415.6 C219.21 418.43 216.23 423.3 213.95 426.11 C211.67 428.91 208.23 430.08 207.3 432.41 C206.36 434.75 208.7 437.32 208.35 440.12 C208 442.93 207.24 446.4 205.19 449.23 C203.15 452.07 199.35 455.22 196.08 457.12 C192.81 459.01 188.64 460.33 185.57 460.62 C182.51 460.91 179.21 460.53 177.69 458.87 C176.17 457.2 176.67 456.68 176.46 450.63 C176.26 444.59 175.23 427.04 176.46 422.6Z" fill="#e1e2e3" />
<path d="M177.86 362.34 C178.59 360.67 181.37 359.1 183.82 357.78 C186.27 356.47 189.08 355.01 192.58 354.45 C196.08 353.9 200.75 353.72 204.84 354.45 C208.93 355.18 213.75 357.08 217.11 358.83 C220.46 360.59 223 362.8 224.99 364.97 C226.98 367.13 228.44 369.73 229.02 371.8 C229.6 373.87 229.6 376.03 228.49 377.4 C227.38 378.78 225.43 379.8 222.36 380.03 C219.3 380.27 214.19 378.86 210.1 378.81 C206.01 378.75 201.34 379.3 197.83 379.68 C194.33 380.06 191.56 381.75 189.08 381.08 C186.59 380.41 184.55 377.87 182.94 375.65 C181.34 373.43 180.29 369.99 179.44 367.77 C178.59 365.55 177.13 364 177.86 362.34Z" fill="#b3b5b7" />
<path d="M177.86 378.81 C178.33 377.11 178.91 376.18 179.61 375.65 C180.32 375.13 181.37 374.83 182.07 375.65 C182.77 376.47 182.65 379.71 183.82 380.56 C184.99 381.4 186.74 380.94 189.08 380.73 C191.41 380.53 194.33 379.71 197.83 379.33 C201.34 378.95 206.07 378.43 210.1 378.46 C214.13 378.48 219.65 378.57 222.01 379.51 C224.38 380.44 224.06 382.43 224.29 384.06 C224.52 385.7 223 387.27 223.41 389.32 C223.82 391.36 225.57 393.99 226.74 396.33 C227.91 398.66 230.39 401.41 230.42 403.33 C230.45 405.26 228.84 406.54 226.92 407.89 C224.99 409.23 221.95 410.08 218.86 411.39 C215.76 412.71 212.14 414.02 208.35 415.77 C204.55 417.52 200.17 420.44 196.08 421.9 C191.99 423.36 187.09 424.24 183.82 424.53 C180.55 424.82 177.69 428.06 176.46 423.66 C175.23 419.25 176.4 404.38 176.46 398.08 C176.52 391.77 176.58 389.03 176.81 385.81 C177.05 382.6 177.4 380.5 177.86 378.81Z" fill="#a7a9ab" />
<path d="M183.12 377.4 l1.2 2.6 l1 -1.6 l2 0.6" fill="none" stroke="#ccc" stroke-width="0.5" />
<text transform="translate(301.2 326.6) scale(1.06 1)" font-size="13.2" font-weight="bold" fill="#111">h</text>
<line x1="327.5" y1="329.2" x2="327.5" y2="453.1" stroke="#9a9a9a" stroke-width="0.8" />
<line x1="327.5" y1="453.1" x2="676.7" y2="453.1" stroke="#9a9a9a" stroke-width="0.8" />
<line x1="324" y1="453.1" x2="327.5" y2="453.1" stroke="#9a9a9a" stroke-width="0.8" />
<text x="320.9" y="455.8" font-size="8" fill="#3a3a3a" text-anchor="end" >0</text>
<line x1="324" y1="411.8" x2="327.5" y2="411.8" stroke="#9a9a9a" stroke-width="0.8" />
<text x="320.9" y="414.5" font-size="8" fill="#3a3a3a" text-anchor="end" >1</text>
<line x1="324" y1="370.5" x2="327.5" y2="370.5" stroke="#9a9a9a" stroke-width="0.8" />
<text x="320.9" y="373.2" font-size="8" fill="#3a3a3a" text-anchor="end" >2</text>
<line x1="324" y1="329.2" x2="327.5" y2="329.2" stroke="#9a9a9a" stroke-width="0.8" />
<text x="320.9" y="331.9" font-size="8" fill="#3a3a3a" text-anchor="end" >3</text>
<text x="309.2" y="391.5" font-size="9" fill="#3a3a3a" text-anchor="middle" transform="rotate(-90 309.2 391.5)" >Amyloid<tspan dy="-2.6" font-size="60%">+</tspan><tspan dy="2.6" dx="0.5"> area (%)</tspan></text>
<line x1="346.3" y1="453.1" x2="346.3" y2="456.1" stroke="#9a9a9a" stroke-width="0.8" />
<line x1="391.1" y1="453.1" x2="391.1" y2="456.1" stroke="#9a9a9a" stroke-width="0.8" />
<line x1="435.5" y1="453.1" x2="435.5" y2="456.1" stroke="#9a9a9a" stroke-width="0.8" />
<line x1="479.8" y1="453.1" x2="479.8" y2="456.1" stroke="#9a9a9a" stroke-width="0.8" />
<line x1="524.1" y1="453.1" x2="524.1" y2="456.1" stroke="#9a9a9a" stroke-width="0.8" />
<line x1="568.3" y1="453.1" x2="568.3" y2="456.1" stroke="#9a9a9a" stroke-width="0.8" />
<line x1="612.4" y1="453.1" x2="612.4" y2="456.1" stroke="#9a9a9a" stroke-width="0.8" />
<line x1="656.5" y1="453.1" x2="656.5" y2="456.1" stroke="#9a9a9a" stroke-width="0.8" />
<text x="346.7" y="467.2" font-size="7.9" fill="#3a3a3a" text-anchor="middle" >Hippocampus</text>
<text x="391.9" y="467.2" font-size="7.9" fill="#3a3a3a" text-anchor="middle" >Isocortex</text>
<text x="435.5" y="467.2" font-size="7.9" fill="#3a3a3a" text-anchor="middle" >Olfactory</text>
<text x="435.5" y="475.8" font-size="7.9" fill="#3a3a3a" text-anchor="middle" >area</text>
<text x="479.8" y="467.2" font-size="7.9" fill="#3a3a3a" text-anchor="middle" >Cortex</text>
<text x="479.8" y="475.8" font-size="7.9" fill="#3a3a3a" text-anchor="middle" >Subcortex</text>
<text x="524.3" y="467.2" font-size="7.9" fill="#3a3a3a" text-anchor="middle" >Striatum</text>
<text x="565.7" y="467.2" font-size="7.9" fill="#3a3a3a" text-anchor="middle" >Thalamus</text>
<text x="612.8" y="467.2" font-size="7.9" fill="#3a3a3a" text-anchor="middle" >Hypothalamus</text>
<text x="657.1" y="467.2" font-size="7.9" fill="#3a3a3a" text-anchor="middle" >White</text>
<text x="657.1" y="475.8" font-size="7.9" fill="#3a3a3a" text-anchor="middle" >matter</text>
<line x1="338.61" y1="376.9" x2="338.61" y2="443.32" stroke="#555" stroke-width="0.65" />
<rect x="333.14" y="407.12" width="10.95" height="31.82" fill="#ec5157" stroke="#73262c" stroke-width="0.5" />
<line x1="333.14" y1="427.55" x2="344.09" y2="427.55" stroke="#73262c" stroke-width="0.75" />
<polygon points="338.54,374.56 336.32,378.65 340.76,378.65" fill="#a81627" stroke="#5e0d16" stroke-width="0.5"/>
<circle cx="338.54" cy="397.34" r="1.9" fill="#a81627" stroke="#5e0d16" stroke-width="0.5" />
<circle cx="338.54" cy="410.47" r="1.9" fill="#a81627" stroke="#5e0d16" stroke-width="0.5" />
<polygon points="335.04,420.11 332.82,424.2 337.26,424.2" fill="#a81627" stroke="#5e0d16" stroke-width="0.5"/>
<circle cx="341.9" cy="426.09" r="1.9" fill="#a81627" stroke="#5e0d16" stroke-width="0.5" />
<circle cx="338.54" cy="431.64" r="1.9" fill="#a81627" stroke="#5e0d16" stroke-width="0.5" />
<circle cx="335.04" cy="437.77" r="1.9" fill="#a81627" stroke="#5e0d16" stroke-width="0.5" />
<polygon points="341.9,434.85 339.68,438.94 344.12,438.94" fill="#a81627" stroke="#5e0d16" stroke-width="0.5"/>
<polygon points="335.04,440.69 332.82,444.78 337.26,444.78" fill="#a81627" stroke="#5e0d16" stroke-width="0.5"/>
<polygon points="341.9,440.4 339.68,444.49 344.12,444.49" fill="#a81627" stroke="#5e0d16" stroke-width="0.5"/>
<line x1="355.11" y1="433.83" x2="355.11" y2="453.1" stroke="#555" stroke-width="0.65" />
<rect x="349.64" y="436.02" width="10.95" height="17.08" fill="#3a74b9" stroke="#234877" stroke-width="0.5" />
<line x1="349.64" y1="442.59" x2="360.58" y2="442.59" stroke="#234877" stroke-width="0.75" />
<circle cx="358.25" cy="434.27" r="1.9" fill="#1f58a2" stroke="#152f5c" stroke-width="0.5" />
<circle cx="355.04" cy="436.75" r="1.9" fill="#1f58a2" stroke="#152f5c" stroke-width="0.5" />
<polygon points="353.28,436.31 351.06,440.4 355.5,440.4" fill="#1f58a2" stroke="#152f5c" stroke-width="0.5"/>
<polygon points="355.04,440.25 352.82,444.34 357.26,444.34" fill="#1f58a2" stroke="#152f5c" stroke-width="0.5"/>
<polygon points="353.87,448.28 351.65,452.37 356.09,452.37" fill="#1f58a2" stroke="#152f5c" stroke-width="0.5"/>
<circle cx="358.25" cy="451.79" r="1.9" fill="#1f58a2" stroke="#152f5c" stroke-width="0.5" />
<polygon points="351.39,451.2 349.17,455.29 353.61,455.29" fill="#1f58a2" stroke="#152f5c" stroke-width="0.5"/>
<circle cx="355.77" cy="453.1" r="1.9" fill="#1f58a2" stroke="#152f5c" stroke-width="0.5" />
<line x1="382.77" y1="406.82" x2="382.77" y2="449.89" stroke="#555" stroke-width="0.65" />
<rect x="377.23" y="425.07" width="11.09" height="16.35" fill="#ec5157" stroke="#73262c" stroke-width="0.5" />
<line x1="377.23" y1="433.1" x2="388.32" y2="433.1" stroke="#73262c" stroke-width="0.75" />
<polygon points="382.77,404.78 380.55,408.87 384.99,408.87" fill="#a81627" stroke="#5e0d16" stroke-width="0.5"/>
<circle cx="382.77" cy="412.66" r="1.9" fill="#a81627" stroke="#5e0d16" stroke-width="0.5" />
<circle cx="379.12" cy="430.18" r="1.9" fill="#a81627" stroke="#5e0d16" stroke-width="0.5" />
<polygon points="386.42,427.55 384.2,431.64 388.64,431.64" fill="#a81627" stroke="#5e0d16" stroke-width="0.5"/>
<circle cx="380.58" cy="433.83" r="1.9" fill="#a81627" stroke="#5e0d16" stroke-width="0.5" />
<polygon points="384.23,431.5 382.01,435.58 386.45,435.58" fill="#a81627" stroke="#5e0d16" stroke-width="0.5"/>
<circle cx="381.31" cy="438.94" r="1.9" fill="#a81627" stroke="#5e0d16" stroke-width="0.5" />
<circle cx="384.23" cy="438.94" r="1.9" fill="#a81627" stroke="#5e0d16" stroke-width="0.5" />
<polygon points="384.23,445.07 382.01,449.16 386.45,449.16" fill="#a81627" stroke="#5e0d16" stroke-width="0.5"/>
<polygon points="381.61,447.26 379.39,451.35 383.83,451.35" fill="#a81627" stroke="#5e0d16" stroke-width="0.5"/>
<line x1="399.56" y1="431.64" x2="399.56" y2="453.1" stroke="#555" stroke-width="0.65" />
<rect x="394.16" y="436.31" width="10.8" height="16.79" fill="#3a74b9" stroke="#234877" stroke-width="0.5" />
<line x1="394.16" y1="446.24" x2="404.96" y2="446.24" stroke="#234877" stroke-width="0.75" />
<circle cx="397.81" cy="431.64" r="1.9" fill="#1f58a2" stroke="#152f5c" stroke-width="0.5" />
<circle cx="400.58" cy="435" r="1.9" fill="#1f58a2" stroke="#152f5c" stroke-width="0.5" />
<polygon points="399.56,436.6 397.34,440.69 401.78,440.69" fill="#1f58a2" stroke="#152f5c" stroke-width="0.5"/>
<polygon points="399.56,440.98 397.34,445.07 401.78,445.07" fill="#1f58a2" stroke="#152f5c" stroke-width="0.5"/>
<polygon points="397.81,447.55 395.59,451.64 400.03,451.64" fill="#1f58a2" stroke="#152f5c" stroke-width="0.5"/>
<circle cx="395.91" cy="452.08" r="1.9" fill="#1f58a2" stroke="#152f5c" stroke-width="0.5" />
<circle cx="399.56" cy="452.52" r="1.9" fill="#1f58a2" stroke="#152f5c" stroke-width="0.5" />
<circle cx="402.92" cy="452.52" r="1.9" fill="#1f58a2" stroke="#152f5c" stroke-width="0.5" />
<line x1="427.15" y1="396.61" x2="427.15" y2="446.24" stroke="#555" stroke-width="0.65" />
<rect x="421.68" y="411.2" width="10.95" height="27.3" fill="#ec5157" stroke="#73262c" stroke-width="0.5" />
<line x1="421.68" y1="431.93" x2="432.63" y2="431.93" stroke="#73262c" stroke-width="0.75" />
<circle cx="427.23" cy="396.61" r="1.9" fill="#a81627" stroke="#5e0d16" stroke-width="0.5" />
<polygon points="427.23,400.11 425.01,404.2 429.45,404.2" fill="#a81627" stroke="#5e0d16" stroke-width="0.5"/>
<circle cx="427.23" cy="413.69" r="1.9" fill="#a81627" stroke="#5e0d16" stroke-width="0.5" />
<polygon points="427.23,419.82 425.01,423.91 429.45,423.91" fill="#a81627" stroke="#5e0d16" stroke-width="0.5"/>
<polygon points="427.23,427.41 425.01,431.5 429.45,431.5" fill="#a81627" stroke="#5e0d16" stroke-width="0.5"/>
<circle cx="427.23" cy="434.56" r="1.9" fill="#a81627" stroke="#5e0d16" stroke-width="0.5" />
<circle cx="423.87" cy="437.04" r="1.9" fill="#a81627" stroke="#5e0d16" stroke-width="0.5" />
<circle cx="430.44" cy="437.04" r="1.9" fill="#a81627" stroke="#5e0d16" stroke-width="0.5" />
<polygon points="428.69,440.25 426.47,444.34 430.91,444.34" fill="#a81627" stroke="#5e0d16" stroke-width="0.5"/>
<polygon points="425.33,443.9 423.11,447.99 427.55,447.99" fill="#a81627" stroke="#5e0d16" stroke-width="0.5"/>
<line x1="443.65" y1="429.74" x2="443.65" y2="453.1" stroke="#555" stroke-width="0.65" />
<rect x="438.18" y="433.83" width="10.95" height="17.81" fill="#3a74b9" stroke="#234877" stroke-width="0.5" />
<line x1="438.18" y1="443.32" x2="449.12" y2="443.32" stroke="#234877" stroke-width="0.75" />
<polygon points="443.87,427.41 441.65,431.5 446.09,431.5" fill="#1f58a2" stroke="#152f5c" stroke-width="0.5"/>
<circle cx="440.22" cy="435" r="1.9" fill="#1f58a2" stroke="#152f5c" stroke-width="0.5" />
<circle cx="447.23" cy="435" r="1.9" fill="#1f58a2" stroke="#152f5c" stroke-width="0.5" />
<polygon points="443.87,432.66 441.65,436.75 446.09,436.75" fill="#1f58a2" stroke="#152f5c" stroke-width="0.5"/>
<circle cx="440.22" cy="442.3" r="1.9" fill="#1f58a2" stroke="#152f5c" stroke-width="0.5" />
<polygon points="447.23,442.44 445.01,446.53 449.45,446.53" fill="#1f58a2" stroke="#152f5c" stroke-width="0.5"/>
<polygon points="440.22,444.93 438,449.02 442.44,449.02" fill="#1f58a2" stroke="#152f5c" stroke-width="0.5"/>
<circle cx="443.87" cy="449.89" r="1.9" fill="#1f58a2" stroke="#152f5c" stroke-width="0.5" />
<polygon points="447.23,448.28 445.01,452.37 449.45,452.37" fill="#1f58a2" stroke="#152f5c" stroke-width="0.5"/>
<circle cx="440.22" cy="452.52" r="1.9" fill="#1f58a2" stroke="#152f5c" stroke-width="0.5" />
<line x1="471.53" y1="386.39" x2="471.53" y2="438.94" stroke="#555" stroke-width="0.65" />
<rect x="465.91" y="397.34" width="11.24" height="32.41" fill="#ec5157" stroke="#73262c" stroke-width="0.5" />
<line x1="465.91" y1="418.5" x2="477.15" y2="418.5" stroke="#73262c" stroke-width="0.75" />
<polygon points="471.31,384.05 469.09,388.14 473.53,388.14" fill="#a81627" stroke="#5e0d16" stroke-width="0.5"/>
<circle cx="467.96" cy="398.36" r="1.9" fill="#a81627" stroke="#5e0d16" stroke-width="0.5" />
<polygon points="474.96,395.73 472.74,399.82 477.18,399.82" fill="#a81627" stroke="#5e0d16" stroke-width="0.5"/>
<polygon points="471.31,407.41 469.09,411.5 473.53,411.5" fill="#a81627" stroke="#5e0d16" stroke-width="0.5"/>
<circle cx="471.31" cy="415.15" r="1.9" fill="#a81627" stroke="#5e0d16" stroke-width="0.5" />
<circle cx="467.96" cy="421.42" r="1.9" fill="#a81627" stroke="#5e0d16" stroke-width="0.5" />
<circle cx="474.96" cy="421.86" r="1.9" fill="#a81627" stroke="#5e0d16" stroke-width="0.5" />
<circle cx="471.31" cy="427.99" r="1.9" fill="#a81627" stroke="#5e0d16" stroke-width="0.5" />
<polygon points="471.31,431.5 469.09,435.58 473.53,435.58" fill="#a81627" stroke="#5e0d16" stroke-width="0.5"/>
<polygon points="471.31,436.31 469.09,440.4 473.53,440.4" fill="#a81627" stroke="#5e0d16" stroke-width="0.5"/>
<line x1="488.1" y1="400.69" x2="488.1" y2="453.1" stroke="#555" stroke-width="0.65" />
<rect x="482.55" y="420.99" width="11.09" height="23.5" fill="#3a74b9" stroke="#234877" stroke-width="0.5" />
<line x1="482.55" y1="433.1" x2="493.65" y2="433.1" stroke="#234877" stroke-width="0.75" />
<circle cx="488.1" cy="400.69" r="1.9" fill="#1f58a2" stroke="#152f5c" stroke-width="0.5" />
<circle cx="488.1" cy="413.83" r="1.9" fill="#1f58a2" stroke="#152f5c" stroke-width="0.5" />
<polygon points="484.74,424.49 482.52,428.58 486.96,428.58" fill="#1f58a2" stroke="#152f5c" stroke-width="0.5"/>
<polygon points="491.46,421.28 489.24,425.37 493.68,425.37" fill="#1f58a2" stroke="#152f5c" stroke-width="0.5"/>
<circle cx="491.46" cy="430.62" r="1.9" fill="#1f58a2" stroke="#152f5c" stroke-width="0.5" />
<polygon points="484.74,432.23 482.52,436.31 486.96,436.31" fill="#1f58a2" stroke="#152f5c" stroke-width="0.5"/>
<polygon points="491.46,432.66 489.24,436.75 493.68,436.75" fill="#1f58a2" stroke="#152f5c" stroke-width="0.5"/>
<circle cx="488.1" cy="442.3" r="1.9" fill="#1f58a2" stroke="#152f5c" stroke-width="0.5" />
<circle cx="491.46" cy="451.06" r="1.9" fill="#1f58a2" stroke="#152f5c" stroke-width="0.5" />
<polygon points="484.74,450.18 482.52,454.27 486.96,454.27" fill="#1f58a2" stroke="#152f5c" stroke-width="0.5"/>
<line x1="515.99" y1="423.61" x2="515.99" y2="453.1" stroke="#555" stroke-width="0.65" />
<rect x="510.51" y="432.66" width="10.95" height="16.93" fill="#ec5157" stroke="#73262c" stroke-width="0.5" />
<line x1="510.51" y1="444.78" x2="521.46" y2="444.78" stroke="#73262c" stroke-width="0.75" />
<polygon points="517.08,421.28 514.86,425.37 519.3,425.37" fill="#a81627" stroke="#5e0d16" stroke-width="0.5"/>
<polygon points="514.6,425.66 512.38,429.75 516.82,429.75" fill="#a81627" stroke="#5e0d16" stroke-width="0.5"/>
<circle cx="515.77" cy="434.56" r="1.9" fill="#a81627" stroke="#5e0d16" stroke-width="0.5" />
<circle cx="513.87" cy="442.59" r="1.9" fill="#a81627" stroke="#5e0d16" stroke-width="0.5" />
<circle cx="518.98" cy="442.59" r="1.9" fill="#a81627" stroke="#5e0d16" stroke-width="0.5" />
<circle cx="512.85" cy="445.51" r="1.9" fill="#a81627" stroke="#5e0d16" stroke-width="0.5" />
<circle cx="516.79" cy="446.24" r="1.9" fill="#a81627" stroke="#5e0d16" stroke-width="0.5" />
<circle cx="518.98" cy="448.43" r="1.9" fill="#a81627" stroke="#5e0d16" stroke-width="0.5" />
<polygon points="517.23,449.01 515.01,453.1 519.45,453.1" fill="#a81627" stroke="#5e0d16" stroke-width="0.5"/>
<polygon points="512.41,450.77 510.19,454.85 514.63,454.85" fill="#a81627" stroke="#5e0d16" stroke-width="0.5"/>
<line x1="532.48" y1="436.02" x2="532.48" y2="453.1" stroke="#555" stroke-width="0.65" />
<rect x="527.01" y="443.03" width="10.95" height="9.49" fill="#3a74b9" stroke="#234877" stroke-width="0.5" />
<line x1="527.01" y1="448.43" x2="537.96" y2="448.43" stroke="#234877" stroke-width="0.75" />
<circle cx="531.39" cy="436.46" r="1.9" fill="#1f58a2" stroke="#152f5c" stroke-width="0.5" />
<polygon points="533.28,435.14 531.06,439.23 535.5,439.23" fill="#1f58a2" stroke="#152f5c" stroke-width="0.5"/>
<circle cx="533.58" cy="445.51" r="1.9" fill="#1f58a2" stroke="#152f5c" stroke-width="0.5" />
<polygon points="530.66,444.63 528.44,448.72 532.88,448.72" fill="#1f58a2" stroke="#152f5c" stroke-width="0.5"/>
<circle cx="529.93" cy="448.43" r="1.9" fill="#1f58a2" stroke="#152f5c" stroke-width="0.5" />
<polygon points="534.31,446.09 532.09,450.18 536.53,450.18" fill="#1f58a2" stroke="#152f5c" stroke-width="0.5"/>
<circle cx="531.39" cy="450.62" r="1.9" fill="#1f58a2" stroke="#152f5c" stroke-width="0.5" />
<polygon points="529.2,449.01 526.98,453.1 531.42,453.1" fill="#1f58a2" stroke="#152f5c" stroke-width="0.5"/>
<circle cx="535.77" cy="452.81" r="1.9" fill="#1f58a2" stroke="#152f5c" stroke-width="0.5" />
<line x1="559.93" y1="385.95" x2="559.93" y2="432.37" stroke="#555" stroke-width="0.65" />
<rect x="554.45" y="392.96" width="10.95" height="35.77" fill="#ec5157" stroke="#73262c" stroke-width="0.5" />
<line x1="554.45" y1="417.04" x2="565.4" y2="417.04" stroke="#73262c" stroke-width="0.75" />
<polygon points="559.85,383.61 557.63,387.7 562.07,387.7" fill="#a81627" stroke="#5e0d16" stroke-width="0.5"/>
<circle cx="556.64" cy="394.42" r="1.9" fill="#a81627" stroke="#5e0d16" stroke-width="0.5" />
<circle cx="560.15" cy="394.42" r="1.9" fill="#a81627" stroke="#5e0d16" stroke-width="0.5" />
<polygon points="563.5,390.91 561.28,395 565.72,395" fill="#a81627" stroke="#5e0d16" stroke-width="0.5"/>
<circle cx="558.1" cy="417.48" r="1.9" fill="#a81627" stroke="#5e0d16" stroke-width="0.5" />
<circle cx="561.61" cy="416.02" r="1.9" fill="#a81627" stroke="#5e0d16" stroke-width="0.5" />
<polygon points="559.85,425.36 557.63,429.45 562.07,429.45" fill="#a81627" stroke="#5e0d16" stroke-width="0.5"/>
<polygon points="563.5,424.93 561.28,429.02 565.72,429.02" fill="#a81627" stroke="#5e0d16" stroke-width="0.5"/>
<circle cx="556.64" cy="433.1" r="1.9" fill="#a81627" stroke="#5e0d16" stroke-width="0.5" />
<polygon points="563.5,430.47 561.28,434.56 565.72,434.56" fill="#a81627" stroke="#5e0d16" stroke-width="0.5"/>
<line x1="576.57" y1="407.26" x2="576.57" y2="451.35" stroke="#555" stroke-width="0.65" />
<rect x="571.09" y="425.8" width="10.95" height="17.52" fill="#3a74b9" stroke="#234877" stroke-width="0.5" />
<line x1="571.09" y1="434.56" x2="582.04" y2="434.56" stroke="#234877" stroke-width="0.75" />
<circle cx="576.64" cy="407.26" r="1.9" fill="#1f58a2" stroke="#152f5c" stroke-width="0.5" />
<circle cx="576.64" cy="421.86" r="1.9" fill="#1f58a2" stroke="#152f5c" stroke-width="0.5" />
<polygon points="576.64,424.49 574.42,428.58 578.86,428.58" fill="#1f58a2" stroke="#152f5c" stroke-width="0.5"/>
<circle cx="572.99" cy="434.27" r="1.9" fill="#1f58a2" stroke="#152f5c" stroke-width="0.5" />
<polygon points="576.64,431.5 574.42,435.58 578.86,435.58" fill="#1f58a2" stroke="#152f5c" stroke-width="0.5"/>
<circle cx="580.29" cy="434.56" r="1.9" fill="#1f58a2" stroke="#152f5c" stroke-width="0.5" />
<polygon points="576.64,435.58 574.42,439.67 578.86,439.67" fill="#1f58a2" stroke="#152f5c" stroke-width="0.5"/>
<circle cx="580.29" cy="442.59" r="1.9" fill="#1f58a2" stroke="#152f5c" stroke-width="0.5" />
<circle cx="576.64" cy="445.8" r="1.9" fill="#1f58a2" stroke="#152f5c" stroke-width="0.5" />
<polygon points="576.64,449.01 574.42,453.1 578.86,453.1" fill="#1f58a2" stroke="#152f5c" stroke-width="0.5"/>
<line x1="604.34" y1="417.48" x2="604.34" y2="451.35" stroke="#555" stroke-width="0.65" />
<rect x="598.87" y="437.48" width="10.95" height="10.22" fill="#ec5157" stroke="#73262c" stroke-width="0.5" />
<line x1="598.87" y1="443.03" x2="609.82" y2="443.03" stroke="#73262c" stroke-width="0.75" />
<polygon points="604.27,415.14 602.05,419.23 606.49,419.23" fill="#a81627" stroke="#5e0d16" stroke-width="0.5"/>
<circle cx="605.44" cy="435.29" r="1.9" fill="#a81627" stroke="#5e0d16" stroke-width="0.5" />
<circle cx="602.81" cy="437.48" r="1.9" fill="#a81627" stroke="#5e0d16" stroke-width="0.5" />
<circle cx="601.06" cy="439.67" r="1.9" fill="#a81627" stroke="#5e0d16" stroke-width="0.5" />
<circle cx="606.9" cy="441.86" r="1.9" fill="#a81627" stroke="#5e0d16" stroke-width="0.5" />
<polygon points="602.23,439.52 600.01,443.61 604.45,443.61" fill="#a81627" stroke="#5e0d16" stroke-width="0.5"/>
<circle cx="601.06" cy="444.05" r="1.9" fill="#a81627" stroke="#5e0d16" stroke-width="0.5" />
<polygon points="605.44,441.71 603.22,445.8 607.66,445.8" fill="#a81627" stroke="#5e0d16" stroke-width="0.5"/>
<circle cx="607.63" cy="446.97" r="1.9" fill="#a81627" stroke="#5e0d16" stroke-width="0.5" />
<polygon points="600.77,448.28 598.55,452.37 602.99,452.37" fill="#a81627" stroke="#5e0d16" stroke-width="0.5"/>
<polygon points="605.73,447.85 603.51,451.94 607.95,451.94" fill="#a81627" stroke="#5e0d16" stroke-width="0.5"/>
<line x1="620.99" y1="437.04" x2="620.99" y2="453.1" stroke="#555" stroke-width="0.65" />
<rect x="615.36" y="443.03" width="11.24" height="10.07" fill="#3a74b9" stroke="#234877" stroke-width="0.5" />
<line x1="615.36" y1="448.43" x2="626.61" y2="448.43" stroke="#234877" stroke-width="0.75" />
<circle cx="620.04" cy="437.04" r="1.9" fill="#1f58a2" stroke="#152f5c" stroke-width="0.5" />
<circle cx="621.79" cy="436.46" r="1.9" fill="#1f58a2" stroke="#152f5c" stroke-width="0.5" />
<circle cx="622.66" cy="444.05" r="1.9" fill="#1f58a2" stroke="#152f5c" stroke-width="0.5" />
<polygon points="620.77,443.9 618.55,447.99 622.99,447.99" fill="#1f58a2" stroke="#152f5c" stroke-width="0.5"/>
<circle cx="618.28" cy="449.16" r="1.9" fill="#1f58a2" stroke="#152f5c" stroke-width="0.5" />
<polygon points="623.25,446.09 621.03,450.18 625.47,450.18" fill="#1f58a2" stroke="#152f5c" stroke-width="0.5"/>
<circle cx="617.85" cy="452.08" r="1.9" fill="#1f58a2" stroke="#152f5c" stroke-width="0.5" />
<polygon points="620.77,449.01 618.55,453.1 622.99,453.1" fill="#1f58a2" stroke="#152f5c" stroke-width="0.5"/>
<polygon points="624.42,451.2 622.2,455.29 626.64,455.29" fill="#1f58a2" stroke="#152f5c" stroke-width="0.5"/>
<line x1="648.65" y1="430.91" x2="648.65" y2="448.43" stroke="#555" stroke-width="0.65" />
<rect x="643.39" y="433.1" width="10.51" height="14.16" fill="#ec5157" stroke="#73262c" stroke-width="0.5" />
<line x1="643.39" y1="444.05" x2="653.91" y2="444.05" stroke="#73262c" stroke-width="0.75" />
<polygon points="646.31,428.87 644.09,432.96 648.53,432.96" fill="#a81627" stroke="#5e0d16" stroke-width="0.5"/>
<circle cx="651.42" cy="431.64" r="1.9" fill="#a81627" stroke="#5e0d16" stroke-width="0.5" />
<circle cx="649.23" cy="433.83" r="1.9" fill="#a81627" stroke="#5e0d16" stroke-width="0.5" />
<polygon points="648.07,432.23 645.85,436.31 650.29,436.31" fill="#a81627" stroke="#5e0d16" stroke-width="0.5"/>
<circle cx="652.15" cy="441.86" r="1.9" fill="#a81627" stroke="#5e0d16" stroke-width="0.5" />
<circle cx="646.31" cy="444.78" r="1.9" fill="#a81627" stroke="#5e0d16" stroke-width="0.5" />
<polygon points="649.23,443.17 647.01,447.26 651.45,447.26" fill="#a81627" stroke="#5e0d16" stroke-width="0.5"/>
<circle cx="644.85" cy="447.7" r="1.9" fill="#a81627" stroke="#5e0d16" stroke-width="0.5" />
<polygon points="651.42,445.36 649.2,449.45 653.64,449.45" fill="#a81627" stroke="#5e0d16" stroke-width="0.5"/>
<line x1="665.29" y1="429.16" x2="665.29" y2="453.1" stroke="#555" stroke-width="0.65" />
<rect x="659.89" y="440.4" width="10.8" height="10.95" fill="#3a74b9" stroke="#234877" stroke-width="0.5" />
<line x1="659.89" y1="446.24" x2="670.69" y2="446.24" stroke="#234877" stroke-width="0.75" />
<circle cx="665.29" cy="429.16" r="1.9" fill="#1f58a2" stroke="#152f5c" stroke-width="0.5" />
<polygon points="665.29,436.6 663.07,440.69 667.51,440.69" fill="#1f58a2" stroke="#152f5c" stroke-width="0.5"/>
<polygon points="663.83,440.98 661.61,445.07 666.05,445.07" fill="#1f58a2" stroke="#152f5c" stroke-width="0.5"/>
<circle cx="661.64" cy="446.97" r="1.9" fill="#1f58a2" stroke="#152f5c" stroke-width="0.5" />
<polygon points="666.02,444.63 663.8,448.72 668.24,448.72" fill="#1f58a2" stroke="#152f5c" stroke-width="0.5"/>
<circle cx="668.94" cy="449.89" r="1.9" fill="#1f58a2" stroke="#152f5c" stroke-width="0.5" />
<circle cx="663.1" cy="450.62" r="1.9" fill="#1f58a2" stroke="#152f5c" stroke-width="0.5" />
<polygon points="661.64,450.77 659.42,454.85 663.86,454.85" fill="#1f58a2" stroke="#152f5c" stroke-width="0.5"/>
<circle cx="666.02" cy="452.81" r="1.9" fill="#1f58a2" stroke="#152f5c" stroke-width="0.5" />
<polyline points="338,371.8 338,370.2 355.4,370.2 355.4,371.8" fill="none" stroke="#7d7d7d" stroke-width="0.65"/>
<text x="346.8" y="370.2" font-size="10" fill="#3a3a3a" text-anchor="middle" letter-spacing="0.3" stroke="#3a3a3a" stroke-width="0.2">**</text>
<polyline points="427.2,371.8 427.2,370.2 443.9,370.2 443.9,371.8" fill="none" stroke="#7d7d7d" stroke-width="0.65"/>
<text x="435.5" y="370.2" font-size="10" fill="#3a3a3a" text-anchor="middle" letter-spacing="0.3" stroke="#3a3a3a" stroke-width="0.2">*</text>
<polyline points="471.3,371.8 471.3,370.2 488.5,370.2 488.5,371.8" fill="none" stroke="#7d7d7d" stroke-width="0.65"/>
<text x="479.8" y="370.2" font-size="10" fill="#3a3a3a" text-anchor="middle" letter-spacing="0.3" stroke="#3a3a3a" stroke-width="0.2">*</text>
<polyline points="559.9,371.8 559.9,370.2 576.6,370.2 576.6,371.8" fill="none" stroke="#7d7d7d" stroke-width="0.65"/>
<text x="568.2" y="370.2" font-size="10" fill="#3a3a3a" text-anchor="middle" letter-spacing="0.3" stroke="#3a3a3a" stroke-width="0.2">**</text>
<rect x="338" y="329" width="8.2" height="8" fill="#ec5157" stroke="#73262c" stroke-width="0.5" />
<rect x="338" y="341.8" width="8.2" height="8" fill="#3a74b9" stroke="#234877" stroke-width="0.5" />
<text x="352.1" y="336" font-size="7.8" fill="#3a3a3a" >4s2/FAD</text>
<text x="352.1" y="349.2" font-size="7.8" fill="#3a3a3a" >4s2<tspan dy="-2.6" font-size="60%">A</tspan><tspan dy="2.6" dx="0.5">/FAD</tspan></text>
<circle cx="404.1" cy="333.2" r="2.5" fill="#fff" stroke="#444" stroke-width="0.55" />
<text x="412.6" y="335.9" font-size="7.4" fill="#3a3a3a" >Female</text>
<polygon points="404.1,343.03 401.37,348.06 406.83,348.06" fill="#fff" stroke="#444" stroke-width="0.55"/>
<text x="412.6" y="348.4" font-size="7.4" fill="#3a3a3a" >Male</text>
<text transform="translate(4.3 495.3) scale(1.06 1)" font-size="13.2" font-weight="bold" fill="#111">i</text>
<text x="99" y="492.6" font-size="9.5" fill="#3a3a3a" text-anchor="middle" >Soluble Aβ<tspan dy="1.8" font-size="72%">40</tspan></text>
<line x1="49.1" y1="512.3" x2="49.1" y2="642.4" stroke="#9a9a9a" stroke-width="0.8" />
<line x1="49.1" y1="642.4" x2="151.3" y2="642.4" stroke="#9a9a9a" stroke-width="0.8" />
<line x1="45.9" y1="512.6" x2="49.1" y2="512.6" stroke="#9a9a9a" stroke-width="0.8" />
<text x="44.1" y="515.3" font-size="7.5" fill="#3a3a3a" text-anchor="end" >25 × 10<tspan dy="-2.8" font-size="62%">4</tspan></text>
<line x1="45.9" y1="538.5" x2="49.1" y2="538.5" stroke="#9a9a9a" stroke-width="0.8" />
<text x="44.1" y="541.2" font-size="7.5" fill="#3a3a3a" text-anchor="end" >2 × 10<tspan dy="-2.8" font-size="62%">4</tspan></text>
<line x1="45.9" y1="564.5" x2="49.1" y2="564.5" stroke="#9a9a9a" stroke-width="0.8" />
<text x="44.1" y="567.2" font-size="7.5" fill="#3a3a3a" text-anchor="end" >15 × 10<tspan dy="-2.8" font-size="62%">4</tspan></text>
<line x1="45.9" y1="590.4" x2="49.1" y2="590.4" stroke="#9a9a9a" stroke-width="0.8" />
<text x="44.1" y="593.1" font-size="7.5" fill="#3a3a3a" text-anchor="end" >1 × 10<tspan dy="-2.8" font-size="62%">4</tspan></text>
<line x1="45.9" y1="616.5" x2="49.1" y2="616.5" stroke="#9a9a9a" stroke-width="0.8" />
<text x="44.1" y="619.2" font-size="7.5" fill="#3a3a3a" text-anchor="end" >5 × 10<tspan dy="-2.8" font-size="62%">3</tspan></text>
<line x1="45.9" y1="642.4" x2="49.1" y2="642.4" stroke="#9a9a9a" stroke-width="0.8" />
<text x="44.1" y="645.1" font-size="7.5" fill="#3a3a3a" text-anchor="end" >0</text>
<text x="8.4" y="574.3" font-size="9.2" fill="#3a3a3a" text-anchor="middle" transform="rotate(-90 8.4 574.3)" >Aβ<tspan dy="1.6" font-size="66%">40</tspan><tspan dy="-1.6"> (pg mg</tspan><tspan dy="-2.8" font-size="62%">−1</tspan><tspan dy="2.8">)</tspan></text>
<line x1="78.93" y1="512.57" x2="78.93" y2="596.33" stroke="#555" stroke-width="0.65" />
<line x1="71.93" y1="512.57" x2="85.93" y2="512.57" stroke="#555" stroke-width="0.65" />
<line x1="71.93" y1="596.33" x2="85.93" y2="596.33" stroke="#555" stroke-width="0.65" />
<rect x="64.42" y="550.1" width="29.03" height="27.55" fill="#ec5157" stroke="#73262c" stroke-width="0.5" />
<line x1="64.42" y1="567.49" x2="93.45" y2="567.49" stroke="#73262c" stroke-width="0.75" />
<polygon points="78.65,510.11 76.32,514.41 80.99,514.41" fill="#a81627" stroke="#5e0d16" stroke-width="0.5"/>
<polygon points="74.59,534.7 72.25,539 76.92,539" fill="#a81627" stroke="#5e0d16" stroke-width="0.5"/>
<circle cx="82.91" cy="539.93" r="2" fill="#a81627" stroke="#5e0d16" stroke-width="0.5" />
<polygon points="78.65,550.79 76.32,555.09 80.99,555.09" fill="#a81627" stroke="#5e0d16" stroke-width="0.5"/>
<circle cx="78.65" cy="560.27" r="2" fill="#a81627" stroke="#5e0d16" stroke-width="0.5" />
<circle cx="66.63" cy="567.49" r="2" fill="#a81627" stroke="#5e0d16" stroke-width="0.5" />
<circle cx="74.59" cy="566.19" r="2" fill="#a81627" stroke="#5e0d16" stroke-width="0.5" />
<polygon points="82.91,566.87 80.57,571.18 85.24,571.18" fill="#a81627" stroke="#5e0d16" stroke-width="0.5"/>
<circle cx="91.23" cy="567.49" r="2" fill="#a81627" stroke="#5e0d16" stroke-width="0.5" />
<circle cx="74.59" cy="574.14" r="2" fill="#a81627" stroke="#5e0d16" stroke-width="0.5" />
<circle cx="82.91" cy="576.92" r="2" fill="#a81627" stroke="#5e0d16" stroke-width="0.5" />
<polygon points="78.65,578.89 76.32,583.2 80.99,583.2" fill="#a81627" stroke="#5e0d16" stroke-width="0.5"/>
<polygon points="82.91,591.47 80.57,595.77 85.24,595.77" fill="#a81627" stroke="#5e0d16" stroke-width="0.5"/>
<polygon points="74.59,593.69 72.25,597.99 76.92,597.99" fill="#a81627" stroke="#5e0d16" stroke-width="0.5"/>
<line x1="122.39" y1="570.26" x2="122.39" y2="616.12" stroke="#555" stroke-width="0.65" />
<line x1="115.39" y1="570.26" x2="129.39" y2="570.26" stroke="#555" stroke-width="0.65" />
<line x1="115.39" y1="616.12" x2="129.39" y2="616.12" stroke="#555" stroke-width="0.65" />
<rect x="107.87" y="593" width="29.03" height="14.24" fill="#3a74b9" stroke="#234877" stroke-width="0.5" />
<line x1="107.87" y1="602.25" x2="136.9" y2="602.25" stroke="#234877" stroke-width="0.75" />
<circle cx="122.29" cy="570.26" r="2" fill="#1f58a2" stroke="#152f5c" stroke-width="0.5" />
<circle cx="115.82" cy="590.6" r="2" fill="#1f58a2" stroke="#152f5c" stroke-width="0.5" />
<circle cx="122.29" cy="593" r="2" fill="#1f58a2" stroke="#152f5c" stroke-width="0.5" />
<polygon points="128.58,589.25 126.24,593.55 130.92,593.55" fill="#1f58a2" stroke="#152f5c" stroke-width="0.5"/>
<polygon points="109.72,597.01 107.38,601.32 112.06,601.32" fill="#1f58a2" stroke="#152f5c" stroke-width="0.5"/>
<circle cx="109.72" cy="604.1" r="2" fill="#1f58a2" stroke="#152f5c" stroke-width="0.5" />
<polygon points="115.82,600.71 113.48,605.02 118.16,605.02" fill="#1f58a2" stroke="#152f5c" stroke-width="0.5"/>
<polygon points="122.29,602.01 119.96,606.31 124.63,606.31" fill="#1f58a2" stroke="#152f5c" stroke-width="0.5"/>
<polygon points="128.58,599.42 126.24,603.72 130.92,603.72" fill="#1f58a2" stroke="#152f5c" stroke-width="0.5"/>
<polygon points="134.68,598.31 132.34,602.61 137.02,602.61" fill="#1f58a2" stroke="#152f5c" stroke-width="0.5"/>
<circle cx="128.58" cy="606.87" r="2" fill="#1f58a2" stroke="#152f5c" stroke-width="0.5" />
<circle cx="122.29" cy="609.09" r="2" fill="#1f58a2" stroke="#152f5c" stroke-width="0.5" />
<polygon points="125.44,611.81 123.1,616.11 127.77,616.11" fill="#1f58a2" stroke="#152f5c" stroke-width="0.5"/>
<circle cx="118.96" cy="616.12" r="2" fill="#1f58a2" stroke="#152f5c" stroke-width="0.5" />
<polyline points="78.65,507.94 78.65,505.72 122.29,505.72 122.29,563.42" fill="none" stroke="#7d7d7d" stroke-width="0.65"/>
<text x="100.5" y="504.7" font-size="10.5" fill="#3a3a3a" text-anchor="middle" letter-spacing="0.3" stroke="#3a3a3a" stroke-width="0.2">****</text>
<circle cx="127.3" cy="504.6" r="2.5" fill="#fff" stroke="#444" stroke-width="0.55" />
<text x="135.6" y="507.3" font-size="7.7" fill="#3a3a3a" >Females</text>
<polygon points="127.3,514.22 124.57,519.26 130.03,519.26" fill="#fff" stroke="#444" stroke-width="0.55"/>
<text x="135.6" y="519.5" font-size="7.7" fill="#3a3a3a" >Males</text>
<text x="79" y="655" font-size="9" fill="#3a3a3a" text-anchor="middle" >4s2/FAD</text>
<text x="122.4" y="655" font-size="9" fill="#3a3a3a" text-anchor="middle" >4s2<tspan dy="-3" font-size="60%">A</tspan><tspan dy="3" dx="0.5">/FAD</tspan></text>
<text transform="translate(173 494.9) scale(1.06 1)" font-size="13.2" font-weight="bold" fill="#111">j</text>
<text x="272" y="490.6" font-size="9.5" fill="#3a3a3a" text-anchor="middle" >Insoluble Aβ<tspan dy="1.8" font-size="72%">40</tspan></text>
<line x1="222.4" y1="505.2" x2="222.4" y2="642.4" stroke="#9a9a9a" stroke-width="0.8" />
<line x1="222.4" y1="642.4" x2="325.4" y2="642.4" stroke="#9a9a9a" stroke-width="0.8" />
<line x1="219.2" y1="505.5" x2="222.4" y2="505.5" stroke="#9a9a9a" stroke-width="0.8" />
<text x="217.4" y="508.2" font-size="7.5" fill="#3a3a3a" text-anchor="end" >25 × 10<tspan dy="-2.8" font-size="62%">5</tspan></text>
<line x1="219.2" y1="532.9" x2="222.4" y2="532.9" stroke="#9a9a9a" stroke-width="0.8" />
<text x="217.4" y="535.6" font-size="7.5" fill="#3a3a3a" text-anchor="end" >2 × 10<tspan dy="-2.8" font-size="62%">5</tspan></text>
<line x1="219.2" y1="560.3" x2="222.4" y2="560.3" stroke="#9a9a9a" stroke-width="0.8" />
<text x="217.4" y="563" font-size="7.5" fill="#3a3a3a" text-anchor="end" >15 × 10<tspan dy="-2.8" font-size="62%">5</tspan></text>
<line x1="219.2" y1="587.5" x2="222.4" y2="587.5" stroke="#9a9a9a" stroke-width="0.8" />
<text x="217.4" y="590.2" font-size="7.5" fill="#3a3a3a" text-anchor="end" >1 × 10<tspan dy="-2.8" font-size="62%">5</tspan></text>
<line x1="219.2" y1="615.2" x2="222.4" y2="615.2" stroke="#9a9a9a" stroke-width="0.8" />
<text x="217.4" y="617.9" font-size="7.5" fill="#3a3a3a" text-anchor="end" >5 × 10<tspan dy="-2.8" font-size="62%">4</tspan></text>
<line x1="219.2" y1="642.4" x2="222.4" y2="642.4" stroke="#9a9a9a" stroke-width="0.8" />
<text x="217.4" y="645.1" font-size="7.5" fill="#3a3a3a" text-anchor="end" >0</text>
<text x="180.7" y="574.3" font-size="9.2" fill="#3a3a3a" text-anchor="middle" transform="rotate(-90 180.7 574.3)" >Aβ<tspan dy="1.6" font-size="66%">40</tspan><tspan dy="-1.6"> (pg mg</tspan><tspan dy="-2.8" font-size="62%">−1</tspan><tspan dy="2.8">)</tspan></text>
<line x1="251.52" y1="524.22" x2="251.52" y2="616.12" stroke="#555" stroke-width="0.65" />
<line x1="244.52" y1="524.22" x2="258.52" y2="524.22" stroke="#555" stroke-width="0.65" />
<line x1="244.52" y1="616.12" x2="258.52" y2="616.12" stroke="#555" stroke-width="0.65" />
<rect x="237.19" y="543.45" width="28.66" height="60.28" fill="#ec5157" stroke="#73262c" stroke-width="0.5" />
<line x1="237.19" y1="576.36" x2="265.85" y2="576.36" stroke="#73262c" stroke-width="0.75" />
<circle cx="247.36" cy="526.07" r="2" fill="#a81627" stroke="#5e0d16" stroke-width="0.5" />
<circle cx="255.68" cy="524.03" r="2" fill="#a81627" stroke="#5e0d16" stroke-width="0.5" />
<polygon points="251.43,534.51 249.09,538.82 253.76,538.82" fill="#a81627" stroke="#5e0d16" stroke-width="0.5"/>
<circle cx="251.43" cy="545.3" r="2" fill="#a81627" stroke="#5e0d16" stroke-width="0.5" />
<polygon points="251.43,551.71 249.09,556.02 253.76,556.02" fill="#a81627" stroke="#5e0d16" stroke-width="0.5"/>
<circle cx="251.43" cy="562.12" r="2" fill="#a81627" stroke="#5e0d16" stroke-width="0.5" />
<polygon points="251.43,570.57 249.09,574.88 253.76,574.88" fill="#a81627" stroke="#5e0d16" stroke-width="0.5"/>
<circle cx="247.36" cy="580.06" r="2" fill="#a81627" stroke="#5e0d16" stroke-width="0.5" />
<polygon points="255.68,581.3 253.34,585.6 258.02,585.6" fill="#a81627" stroke="#5e0d16" stroke-width="0.5"/>
<circle cx="251.43" cy="592.08" r="2" fill="#a81627" stroke="#5e0d16" stroke-width="0.5" />
<polygon points="247.36,602.01 245.02,606.31 249.7,606.31" fill="#a81627" stroke="#5e0d16" stroke-width="0.5"/>
<polygon points="255.68,602.01 253.34,606.31 258.02,606.31" fill="#a81627" stroke="#5e0d16" stroke-width="0.5"/>
<polygon points="255.68,610.51 253.34,614.82 258.02,614.82" fill="#a81627" stroke="#5e0d16" stroke-width="0.5"/>
<circle cx="247.36" cy="616.12" r="2" fill="#a81627" stroke="#5e0d16" stroke-width="0.5" />
<line x1="295.71" y1="590.6" x2="295.71" y2="616.12" stroke="#555" stroke-width="0.65" />
<line x1="288.71" y1="590.6" x2="302.71" y2="590.6" stroke="#555" stroke-width="0.65" />
<line x1="288.71" y1="616.12" x2="302.71" y2="616.12" stroke="#555" stroke-width="0.65" />
<rect x="281.2" y="595.41" width="29.03" height="16.09" fill="#3a74b9" stroke="#234877" stroke-width="0.5" />
<line x1="281.2" y1="597.81" x2="310.23" y2="597.81" stroke="#234877" stroke-width="0.75" />
<circle cx="288.96" cy="590.6" r="2" fill="#1f58a2" stroke="#152f5c" stroke-width="0.5" />
<circle cx="295.44" cy="590.23" r="2" fill="#1f58a2" stroke="#152f5c" stroke-width="0.5" />
<polygon points="301.91,588.69 299.57,593 304.25,593" fill="#1f58a2" stroke="#152f5c" stroke-width="0.5"/>
<polygon points="283.05,596.09 280.71,600.4 285.38,600.4" fill="#1f58a2" stroke="#152f5c" stroke-width="0.5"/>
<polygon points="288.96,594.24 286.63,598.55 291.3,598.55" fill="#1f58a2" stroke="#152f5c" stroke-width="0.5"/>
<circle cx="295.44" cy="599.84" r="2" fill="#1f58a2" stroke="#152f5c" stroke-width="0.5" />
<circle cx="301.91" cy="598.55" r="2" fill="#1f58a2" stroke="#152f5c" stroke-width="0.5" />
<circle cx="308.38" cy="598" r="2" fill="#1f58a2" stroke="#152f5c" stroke-width="0.5" />
<polygon points="288.96,604.04 286.63,608.35 291.3,608.35" fill="#1f58a2" stroke="#152f5c" stroke-width="0.5"/>
<circle cx="301.91" cy="607.24" r="2" fill="#1f58a2" stroke="#152f5c" stroke-width="0.5" />
<circle cx="288.96" cy="611.12" r="2" fill="#1f58a2" stroke="#152f5c" stroke-width="0.5" />
<polygon points="295.44,611.81 293.1,616.11 297.77,616.11" fill="#1f58a2" stroke="#152f5c" stroke-width="0.5"/>
<polygon points="301.91,612.73 299.57,617.04 304.25,617.04" fill="#1f58a2" stroke="#152f5c" stroke-width="0.5"/>
<polygon points="288.96,614.58 286.63,618.89 291.3,618.89" fill="#1f58a2" stroke="#152f5c" stroke-width="0.5"/>
<polyline points="251.43,519.96 251.43,516.26 295.44,516.26 295.44,581.91" fill="none" stroke="#7d7d7d" stroke-width="0.65"/>
<text x="273.2" y="514.5" font-size="10.5" fill="#3a3a3a" text-anchor="middle" letter-spacing="0.3" stroke="#3a3a3a" stroke-width="0.2">**</text>
<circle cx="301" cy="504.6" r="2.5" fill="#fff" stroke="#444" stroke-width="0.55" />
<text x="309.7" y="507.3" font-size="7.7" fill="#3a3a3a" >Females</text>
<polygon points="301,514.22 298.27,519.26 303.73,519.26" fill="#fff" stroke="#444" stroke-width="0.55"/>
<text x="309.7" y="519.5" font-size="7.7" fill="#3a3a3a" >Males</text>
<text x="251.5" y="654.4" font-size="9" fill="#3a3a3a" text-anchor="middle" >4s2/FAD</text>
<text x="295.8" y="656.2" font-size="9" fill="#3a3a3a" text-anchor="middle" >4s2<tspan dy="-3" font-size="60%">A</tspan><tspan dy="3" dx="0.5">/FAD</tspan></text>
<text transform="translate(351.8 494.8) scale(1.06 1)" font-size="13.2" font-weight="bold" fill="#111">k</text>
<text x="447.5" y="490.6" font-size="9.5" fill="#3a3a3a" text-anchor="middle" >Soluble Aβ<tspan dy="1.8" font-size="72%">42</tspan></text>
<line x1="397.4" y1="504.3" x2="397.4" y2="642.4" stroke="#9a9a9a" stroke-width="0.8" />
<line x1="397.4" y1="642.4" x2="500.4" y2="642.4" stroke="#9a9a9a" stroke-width="0.8" />
<line x1="394.2" y1="504.6" x2="397.4" y2="504.6" stroke="#9a9a9a" stroke-width="0.8" />
<text x="392.4" y="507.3" font-size="7.5" fill="#3a3a3a" text-anchor="end" >3 × 10<tspan dy="-2.8" font-size="62%">5</tspan></text>
<line x1="394.2" y1="527.5" x2="397.4" y2="527.5" stroke="#9a9a9a" stroke-width="0.8" />
<text x="392.4" y="530.2" font-size="7.5" fill="#3a3a3a" text-anchor="end" >25 × 10<tspan dy="-2.8" font-size="62%">5</tspan></text>
<line x1="394.2" y1="550.5" x2="397.4" y2="550.5" stroke="#9a9a9a" stroke-width="0.8" />
<text x="392.4" y="553.2" font-size="7.5" fill="#3a3a3a" text-anchor="end" >2 × 10<tspan dy="-2.8" font-size="62%">5</tspan></text>
<line x1="394.2" y1="573.6" x2="397.4" y2="573.6" stroke="#9a9a9a" stroke-width="0.8" />
<text x="392.4" y="576.3" font-size="7.5" fill="#3a3a3a" text-anchor="end" >15 × 10<tspan dy="-2.8" font-size="62%">5</tspan></text>
<line x1="394.2" y1="596.5" x2="397.4" y2="596.5" stroke="#9a9a9a" stroke-width="0.8" />
<text x="392.4" y="599.2" font-size="7.5" fill="#3a3a3a" text-anchor="end" >1 × 10<tspan dy="-2.8" font-size="62%">5</tspan></text>
<line x1="394.2" y1="619.4" x2="397.4" y2="619.4" stroke="#9a9a9a" stroke-width="0.8" />
<text x="392.4" y="622.1" font-size="7.5" fill="#3a3a3a" text-anchor="end" >5 × 10<tspan dy="-2.8" font-size="62%">4</tspan></text>
<line x1="394.2" y1="642.4" x2="397.4" y2="642.4" stroke="#9a9a9a" stroke-width="0.8" />
<text x="392.4" y="645.1" font-size="7.5" fill="#3a3a3a" text-anchor="end" >0</text>
<text x="355" y="574.3" font-size="9.2" fill="#3a3a3a" text-anchor="middle" transform="rotate(-90 355 574.3)" >Aβ<tspan dy="1.6" font-size="66%">42</tspan><tspan dy="-1.6"> (pg mg</tspan><tspan dy="-2.8" font-size="62%">−1</tspan><tspan dy="2.8">)</tspan></text>
<line x1="426.7" y1="515.34" x2="426.7" y2="624.44" stroke="#555" stroke-width="0.65" />
<line x1="419.7" y1="515.34" x2="433.7" y2="515.34" stroke="#555" stroke-width="0.65" />
<line x1="419.7" y1="624.44" x2="433.7" y2="624.44" stroke="#555" stroke-width="0.65" />
<rect x="412.19" y="583.39" width="29.03" height="36.8" fill="#ec5157" stroke="#73262c" stroke-width="0.5" />
<line x1="412.19" y1="603.54" x2="441.22" y2="603.54" stroke="#73262c" stroke-width="0.75" />
<polygon points="426.61,513.25 424.28,517.56 428.95,517.56" fill="#a81627" stroke="#5e0d16" stroke-width="0.5"/>
<circle cx="426.61" cy="544.37" r="2" fill="#a81627" stroke="#5e0d16" stroke-width="0.5" />
<circle cx="426.61" cy="579.32" r="2" fill="#a81627" stroke="#5e0d16" stroke-width="0.5" />
<polygon points="426.61,582.59 424.28,586.9 428.95,586.9" fill="#a81627" stroke="#5e0d16" stroke-width="0.5"/>
<circle cx="434.93" cy="596.7" r="2" fill="#a81627" stroke="#5e0d16" stroke-width="0.5" />
<polygon points="426.61,595.17 424.28,599.47 428.95,599.47" fill="#a81627" stroke="#5e0d16" stroke-width="0.5"/>
<circle cx="418.29" cy="600.03" r="2" fill="#a81627" stroke="#5e0d16" stroke-width="0.5" />
<circle cx="418.29" cy="607.8" r="2" fill="#a81627" stroke="#5e0d16" stroke-width="0.5" />
<polygon points="426.61,607.74 424.28,612.04 428.95,612.04" fill="#a81627" stroke="#5e0d16" stroke-width="0.5"/>
<polygon points="426.61,613.66 424.28,617.96 428.95,617.96" fill="#a81627" stroke="#5e0d16" stroke-width="0.5"/>
<polygon points="418.29,617.72 415.95,622.03 420.63,622.03" fill="#a81627" stroke="#5e0d16" stroke-width="0.5"/>
<circle cx="426.61" cy="621.29" r="2" fill="#a81627" stroke="#5e0d16" stroke-width="0.5" />
<circle cx="434.93" cy="622.22" r="2" fill="#a81627" stroke="#5e0d16" stroke-width="0.5" />
<polygon points="418.29,622.53 415.95,626.84 420.63,626.84" fill="#a81627" stroke="#5e0d16" stroke-width="0.5"/>
<line x1="471.08" y1="575.07" x2="471.08" y2="633.31" stroke="#555" stroke-width="0.65" />
<line x1="464.08" y1="575.07" x2="478.08" y2="575.07" stroke="#555" stroke-width="0.65" />
<line x1="464.08" y1="633.31" x2="478.08" y2="633.31" stroke="#555" stroke-width="0.65" />
<rect x="456.57" y="617.41" width="29.03" height="11.65" fill="#3a74b9" stroke="#234877" stroke-width="0.5" />
<line x1="456.57" y1="624.44" x2="485.6" y2="624.44" stroke="#234877" stroke-width="0.75" />
<circle cx="470.81" cy="575.07" r="2" fill="#1f58a2" stroke="#152f5c" stroke-width="0.5" />
<circle cx="470.81" cy="585.61" r="2" fill="#1f58a2" stroke="#152f5c" stroke-width="0.5" />
<polygon points="473.58,612.73 471.24,617.04 475.92,617.04" fill="#1f58a2" stroke="#152f5c" stroke-width="0.5"/>
<circle cx="463.04" cy="617.97" r="2" fill="#1f58a2" stroke="#152f5c" stroke-width="0.5" />
<polygon points="478.76,617.36 476.42,621.66 481.09,621.66" fill="#1f58a2" stroke="#152f5c" stroke-width="0.5"/>
<circle cx="473.58" cy="621.66" r="2" fill="#1f58a2" stroke="#152f5c" stroke-width="0.5" />
<polygon points="468.59,620.13 466.25,624.43 470.92,624.43" fill="#1f58a2" stroke="#152f5c" stroke-width="0.5"/>
<circle cx="463.04" cy="625.73" r="2" fill="#1f58a2" stroke="#152f5c" stroke-width="0.5" />
<polygon points="458.05,625.12 455.71,629.43 460.38,629.43" fill="#1f58a2" stroke="#152f5c" stroke-width="0.5"/>
<polygon points="468.59,625.12 466.25,629.43 470.92,629.43" fill="#1f58a2" stroke="#152f5c" stroke-width="0.5"/>
<polygon points="483.93,623.83 481.6,628.13 486.27,628.13" fill="#1f58a2" stroke="#152f5c" stroke-width="0.5"/>
<circle cx="473.58" cy="629.62" r="2" fill="#1f58a2" stroke="#152f5c" stroke-width="0.5" />
<circle cx="478.76" cy="629.62" r="2" fill="#1f58a2" stroke="#152f5c" stroke-width="0.5" />
<polygon points="463.04,630.85 460.7,635.16 465.38,635.16" fill="#1f58a2" stroke="#152f5c" stroke-width="0.5"/>
<polyline points="426.61,512.57 426.61,509.05 470.81,509.05 470.81,568.04" fill="none" stroke="#7d7d7d" stroke-width="0.65"/>
<text x="448.8" y="508.4" font-size="10.5" fill="#3a3a3a" text-anchor="middle" letter-spacing="0.3" stroke="#3a3a3a" stroke-width="0.2">*</text>
<circle cx="477.8" cy="504.6" r="2.5" fill="#fff" stroke="#444" stroke-width="0.55" />
<text x="485.8" y="507.3" font-size="7.7" fill="#3a3a3a" >Females</text>
<polygon points="477.8,514.22 475.07,519.26 480.53,519.26" fill="#fff" stroke="#444" stroke-width="0.55"/>
<text x="485.8" y="519.5" font-size="7.7" fill="#3a3a3a" >Males</text>
<text x="426.5" y="654.4" font-size="9" fill="#3a3a3a" text-anchor="middle" >4s2/FAD</text>
<text x="470.8" y="654.4" font-size="9" fill="#3a3a3a" text-anchor="middle" >4s2<tspan dy="-3" font-size="60%">A</tspan><tspan dy="3" dx="0.5">/FAD</tspan></text>
<text transform="translate(528.2 496.4) scale(1.06 1)" font-size="13.2" font-weight="bold" fill="#111">l</text>
<text x="615.5" y="492.6" font-size="9.5" fill="#3a3a3a" text-anchor="middle" >Insoluble Aβ<tspan dy="1.8" font-size="72%">42</tspan></text>
<line x1="565.9" y1="507.1" x2="565.9" y2="642.4" stroke="#9a9a9a" stroke-width="0.8" />
<line x1="565.9" y1="642.4" x2="667.6" y2="642.4" stroke="#9a9a9a" stroke-width="0.8" />
<line x1="562.7" y1="507.4" x2="565.9" y2="507.4" stroke="#9a9a9a" stroke-width="0.8" />
<text x="560.9" y="510.1" font-size="7.5" fill="#3a3a3a" text-anchor="end" >2 × 10<tspan dy="-2.8" font-size="62%">6</tspan></text>
<line x1="562.7" y1="534.4" x2="565.9" y2="534.4" stroke="#9a9a9a" stroke-width="0.8" />
<text x="560.9" y="537.1" font-size="7.5" fill="#3a3a3a" text-anchor="end" >16 × 10<tspan dy="-2.8" font-size="62%">5</tspan></text>
<line x1="562.7" y1="561.2" x2="565.9" y2="561.2" stroke="#9a9a9a" stroke-width="0.8" />
<text x="560.9" y="563.9" font-size="7.5" fill="#3a3a3a" text-anchor="end" >12 × 10<tspan dy="-2.8" font-size="62%">5</tspan></text>
<line x1="562.7" y1="588.4" x2="565.9" y2="588.4" stroke="#9a9a9a" stroke-width="0.8" />
<text x="560.9" y="591.1" font-size="7.5" fill="#3a3a3a" text-anchor="end" >8 × 10<tspan dy="-2.8" font-size="62%">5</tspan></text>
<line x1="562.7" y1="615.4" x2="565.9" y2="615.4" stroke="#9a9a9a" stroke-width="0.8" />
<text x="560.9" y="618.1" font-size="7.5" fill="#3a3a3a" text-anchor="end" >4 × 10<tspan dy="-2.8" font-size="62%">5</tspan></text>
<line x1="562.7" y1="642.4" x2="565.9" y2="642.4" stroke="#9a9a9a" stroke-width="0.8" />
<text x="560.9" y="645.1" font-size="7.5" fill="#3a3a3a" text-anchor="end" >0</text>
<text x="523.8" y="574.3" font-size="9.2" fill="#3a3a3a" text-anchor="middle" transform="rotate(-90 523.8 574.3)" >Aβ<tspan dy="1.6" font-size="66%">42</tspan><tspan dy="-1.6"> (pg mg</tspan><tspan dy="-2.8" font-size="62%">−1</tspan><tspan dy="2.8">)</tspan></text>
<line x1="594.86" y1="512.57" x2="594.86" y2="621.66" stroke="#555" stroke-width="0.65" />
<line x1="587.86" y1="512.57" x2="601.86" y2="512.57" stroke="#555" stroke-width="0.65" />
<line x1="587.86" y1="621.66" x2="601.86" y2="621.66" stroke="#555" stroke-width="0.65" />
<rect x="580.34" y="565.82" width="29.03" height="37.91" fill="#ec5157" stroke="#73262c" stroke-width="0.5" />
<line x1="580.34" y1="593.56" x2="609.37" y2="593.56" stroke="#73262c" stroke-width="0.75" />
<polygon points="594.76,510.48 592.43,514.78 597.1,514.78" fill="#a81627" stroke="#5e0d16" stroke-width="0.5"/>
<polygon points="594.76,539.69 592.43,544 597.1,544" fill="#a81627" stroke="#5e0d16" stroke-width="0.5"/>
<circle cx="594.76" cy="556.02" r="2" fill="#a81627" stroke="#5e0d16" stroke-width="0.5" />
<polygon points="586.81,566.5 584.48,570.81 589.15,570.81" fill="#a81627" stroke="#5e0d16" stroke-width="0.5"/>
<polygon points="594.76,567.8 592.43,572.1 597.1,572.1" fill="#a81627" stroke="#5e0d16" stroke-width="0.5"/>
<circle cx="594.76" cy="584.13" r="2" fill="#a81627" stroke="#5e0d16" stroke-width="0.5" />
<circle cx="594.76" cy="591.52" r="2" fill="#a81627" stroke="#5e0d16" stroke-width="0.5" />
<circle cx="586.81" cy="596.15" r="2" fill="#a81627" stroke="#5e0d16" stroke-width="0.5" />
<circle cx="602.9" cy="596.15" r="2" fill="#a81627" stroke="#5e0d16" stroke-width="0.5" />
<polygon points="594.76,596.09 592.43,600.4 597.1,600.4" fill="#a81627" stroke="#5e0d16" stroke-width="0.5"/>
<circle cx="594.76" cy="602.25" r="2" fill="#a81627" stroke="#5e0d16" stroke-width="0.5" />
<polygon points="594.76,605.71 592.43,610.01 597.1,610.01" fill="#a81627" stroke="#5e0d16" stroke-width="0.5"/>
<polygon points="598.83,617.72 596.49,622.03 601.17,622.03" fill="#a81627" stroke="#5e0d16" stroke-width="0.5"/>
<circle cx="590.88" cy="621.85" r="2" fill="#a81627" stroke="#5e0d16" stroke-width="0.5" />
<line x1="638.49" y1="587.46" x2="638.49" y2="624.44" stroke="#555" stroke-width="0.65" />
<line x1="631.49" y1="587.46" x2="645.49" y2="587.46" stroke="#555" stroke-width="0.65" />
<line x1="631.49" y1="624.44" x2="645.49" y2="624.44" stroke="#555" stroke-width="0.65" />
<rect x="624.16" y="601.32" width="28.66" height="18.86" fill="#3a74b9" stroke="#234877" stroke-width="0.5" />
<line x1="624.16" y1="610.57" x2="652.83" y2="610.57" stroke="#234877" stroke-width="0.75" />
<polygon points="638.22,585.55 635.88,589.86 640.55,589.86" fill="#1f58a2" stroke="#152f5c" stroke-width="0.5"/>
<circle cx="638.22" cy="592.45" r="2" fill="#1f58a2" stroke="#152f5c" stroke-width="0.5" />
<circle cx="638.22" cy="599.11" r="2" fill="#1f58a2" stroke="#152f5c" stroke-width="0.5" />
<circle cx="632.12" cy="602.62" r="2" fill="#1f58a2" stroke="#152f5c" stroke-width="0.5" />
<polygon points="644.5,599.42 642.17,603.72 646.84,603.72" fill="#1f58a2" stroke="#152f5c" stroke-width="0.5"/>
<circle cx="638.22" cy="605.02" r="2" fill="#1f58a2" stroke="#152f5c" stroke-width="0.5" />
<polygon points="634.89,608.66 632.55,612.97 637.23,612.97" fill="#1f58a2" stroke="#152f5c" stroke-width="0.5"/>
<circle cx="641.36" cy="610.94" r="2" fill="#1f58a2" stroke="#152f5c" stroke-width="0.5" />
<circle cx="626.01" cy="617.41" r="2" fill="#1f58a2" stroke="#152f5c" stroke-width="0.5" />
<polygon points="638.22,614.95 635.88,619.26 640.55,619.26" fill="#1f58a2" stroke="#152f5c" stroke-width="0.5"/>
<polygon points="650.61,615.51 648.27,619.81 652.94,619.81" fill="#1f58a2" stroke="#152f5c" stroke-width="0.5"/>
<circle cx="632.12" cy="621.29" r="2" fill="#1f58a2" stroke="#152f5c" stroke-width="0.5" />
<polygon points="644.5,618.65 642.17,622.95 646.84,622.95" fill="#1f58a2" stroke="#152f5c" stroke-width="0.5"/>
<circle cx="632.12" cy="624.44" r="2" fill="#1f58a2" stroke="#152f5c" stroke-width="0.5" />
<polyline points="594.76,506.09 594.76,502.4 638.22,502.4 638.22,580.43" fill="none" stroke="#7d7d7d" stroke-width="0.65"/>
<text x="616.4" y="503.9" font-size="10.5" fill="#3a3a3a" text-anchor="middle" letter-spacing="0.3" stroke="#3a3a3a" stroke-width="0.2">**</text>
<circle cx="647.5" cy="506.1" r="2.5" fill="#fff" stroke="#444" stroke-width="0.55" />
<text x="655.8" y="508.8" font-size="7.7" fill="#3a3a3a" >Females</text>
<polygon points="647.5,515.92 644.77,520.96 650.23,520.96" fill="#fff" stroke="#444" stroke-width="0.55"/>
<text x="655.8" y="521.2" font-size="7.7" fill="#3a3a3a" >Males</text>
<text x="595" y="654" font-size="9" fill="#3a3a3a" text-anchor="middle" >4s2/FAD</text>
<text x="638.8" y="654" font-size="9" fill="#3a3a3a" text-anchor="middle" >4s2<tspan dy="-3" font-size="60%">A</tspan><tspan dy="3" dx="0.5">/FAD</tspan></text>
<text transform="translate(5.1 685) scale(1.06 1)" font-size="13.2" font-weight="bold" fill="#111">m</text>
<defs>
<filter id="mb" x="-20%" y="-20%" width="140%" height="140%"><feGaussianBlur stdDeviation="0.45"/></filter>
<filter id="mn" x="0" y="0" width="100%" height="100%" color-interpolation-filters="sRGB"><feTurbulence type="fractalNoise" baseFrequency="0.75" numOctaves="2" seed="7"/><feColorMatrix type="matrix" values="0 0 0 0 0.55  0 0 0 0 0.03  0 0 0 0 0.07  2.4 0 0 0 -1.0"/><feGaussianBlur stdDeviation="0.4"/></filter>
<filter id="mg" x="0" y="0" width="100%" height="100%" color-interpolation-filters="sRGB"><feTurbulence type="fractalNoise" baseFrequency="0.6" numOctaves="3" seed="12"/><feColorMatrix type="matrix" values="0 0 0 0 0.12  0 0 0 0 0.42  0 0 0 0 0.12  0 2.6 0 0 -1.15"/></filter>
<linearGradient id="gh" x1="0" y1="0" x2="0" y2="1"><stop offset="0" stop-color="#fff"/><stop offset="0.45" stop-color="#888"/><stop offset="0.75" stop-color="#000"/></linearGradient>
<mask id="mk1"><rect x="40" y="672" width="350" height="111" fill="url(#gh)"/></mask>
</defs>
<rect x="24.4" y="673.3" width="19.4" height="108.5" fill="#e98a93" stroke="#5a4447" stroke-width="0.55" />
<text x="37" y="727.55" font-size="8.75" fill="#333" text-anchor="middle" transform="rotate(-90 37 727.55)" >APOE4s2/FAD</text>
<rect x="24.4" y="784.8" width="19.4" height="109.2" fill="#9c9dd3" stroke="#5a4447" stroke-width="0.55" />
<text x="37" y="839.4" font-size="8.8" fill="#333" text-anchor="middle" transform="rotate(-90 37 839.4)" >APOE4s2<tspan dy="-2.8" font-size="60%">A</tspan><tspan dy="2.8" dx="0.5">/FAD</tspan></text>
<rect x="44.6" y="672.4" width="343.2" height="221" fill="#c4c4c4" />
<rect x="45" y="672.8" width="114.3" height="110.1" fill="#030202" />
<rect x="45" y="784.1" width="114.3" height="109" fill="#030202" />
<rect x="160.4" y="672.8" width="112.5" height="110.1" fill="#030202" />
<rect x="160.4" y="784.1" width="112.5" height="109" fill="#030202" />
<rect x="274" y="672.8" width="113.6" height="110.1" fill="#030202" />
<rect x="274" y="784.1" width="113.6" height="109" fill="#030202" />
<g clip-path="url(#cm0)">
<clipPath id="cm0"><rect x="45" y="672.8" width="114.3" height="110.1"/></clipPath>
<rect x="45" y="672.8" width="114.3" height="110.1" fill="#000" filter="url(#mg)" mask="url(#mk1)" opacity="0.36"/>
<rect x="45" y="672.8" width="114.3" height="110.1" fill="#000" filter="url(#mn)" opacity="0.28"/>
<g filter="url(#mb)"><path d="M109.74 694.24 C110.03 694.01 110.89 693.32 111.47 692.87 C112.04 692.41 112.6 691.92 113.2 691.5 C113.8 691.07 114.75 690.51 115.06 690.31" fill="none" stroke="#c8141e" stroke-width="0.85" opacity="0.38" stroke-linecap="round"/><path d="M132.23 709.03 C132.04 709.22 131.51 709.87 131.09 710.2 C130.66 710.54 129.91 710.9 129.68 711.04" fill="none" stroke="#c8141e" stroke-width="0.55" opacity="0.38" stroke-linecap="round"/><path d="M81.32 742.98 C81.18 743.08 80.74 743.35 80.5 743.58 C80.27 743.82 80.12 744.14 79.9 744.39 C79.67 744.65 79.29 744.98 79.17 745.1" fill="none" stroke="#c8141e" stroke-width="0.69" opacity="0.33" stroke-linecap="round"/><path d="M140.68 702.23 C140.71 701.97 140.74 701.18 140.84 700.67 C140.94 700.15 141.2 699.41 141.27 699.15" fill="none" stroke="#c8141e" stroke-width="0.35" opacity="0.38" stroke-linecap="round"/><path d="M104.61 710.84 C105.07 710.79 106.45 710.51 107.36 710.56 C108.26 710.62 109.6 711.06 110.05 711.16" fill="none" stroke="#c8141e" stroke-width="0.89" opacity="0.37" stroke-linecap="round"/><path d="M75.94 756.87 C75.56 756.95 74.43 757.21 73.67 757.34 C72.91 757.47 72.1 757.43 71.37 757.65 C70.65 757.88 69.65 758.53 69.3 758.7" fill="none" stroke="#c8141e" stroke-width="0.81" opacity="0.39" stroke-linecap="round"/><path d="M141.72 692.75 C141.21 692.87 139.67 693.3 138.63 693.51 C137.6 693.73 136.02 693.96 135.5 694.05" fill="none" stroke="#c8141e" stroke-width="0.64" opacity="0.46" stroke-linecap="round"/><path d="M94.27 762.78 C94.24 762.57 94.07 761.95 94.07 761.53 C94.06 761.11 94.26 760.69 94.24 760.28 C94.22 759.87 94.11 759.43 93.95 759.05 C93.8 758.66 93.41 758.15 93.3 757.97" fill="none" stroke="#c8141e" stroke-width="0.79" opacity="0.48" stroke-linecap="round"/><path d="M144.42 721.96 C144.63 721.89 145.29 721.71 145.7 721.54 C146.12 721.37 146.7 721.03 146.9 720.93" fill="none" stroke="#c8141e" stroke-width="0.39" opacity="0.41" stroke-linecap="round"/><path d="M121.78 711.38 C121.97 711.37 122.54 711.26 122.91 711.32 C123.27 711.38 123.59 711.65 123.95 711.75 C124.32 711.85 124.89 711.88 125.07 711.91" fill="none" stroke="#c8141e" stroke-width="0.46" opacity="0.25" stroke-linecap="round"/><path d="M154.29 772.01 C154.21 772.07 153.94 772.24 153.8 772.39 C153.66 772.53 153.52 772.71 153.45 772.9 C153.39 773.09 153.4 773.31 153.39 773.52 C153.38 773.72 153.39 774.03 153.39 774.14" fill="none" stroke="#c8141e" stroke-width="0.69" opacity="0.45" stroke-linecap="round"/><path d="M49.95 709.85 C50.06 709.5 50.38 708.46 50.61 707.77 C50.84 707.08 51.22 706.06 51.34 705.72" fill="none" stroke="#c8141e" stroke-width="0.53" opacity="0.55" stroke-linecap="round"/><path d="M77.1 747.55 C77.4 747.41 78.31 746.99 78.93 746.72 C79.54 746.45 80.46 746.06 80.76 745.93" fill="none" stroke="#c8141e" stroke-width="0.47" opacity="0.45" stroke-linecap="round"/><path d="M61.25 686.17 C61.75 686.34 63.28 686.75 64.23 687.18 C65.19 687.6 66.52 688.47 66.98 688.72" fill="none" stroke="#c8141e" stroke-width="0.55" opacity="0.45" stroke-linecap="round"/><path d="M106.25 686.84 C106.1 686.83 105.65 686.75 105.35 686.76 C105.06 686.77 104.76 686.91 104.47 686.9 C104.17 686.89 103.89 686.72 103.59 686.7 C103.3 686.68 102.85 686.76 102.7 686.77" fill="none" stroke="#c8141e" stroke-width="0.89" opacity="0.48" stroke-linecap="round"/><path d="M72.41 736.46 C72.17 736.72 71.38 737.45 70.96 738.02 C70.55 738.59 70.32 739.3 69.91 739.87 C69.5 740.45 68.73 741.2 68.5 741.47" fill="none" stroke="#c8141e" stroke-width="0.87" opacity="0.49" stroke-linecap="round"/><path d="M96.82 781.09 C96.95 781.08 97.33 781.04 97.58 781.04 C97.83 781.05 98.1 781.06 98.34 781.12 C98.59 781.18 98.93 781.35 99.05 781.4" fill="none" stroke="#c8141e" stroke-width="0.87" opacity="0.39" stroke-linecap="round"/><path d="M134.71 742.8 C134.96 742.89 135.72 743.13 136.19 743.36 C136.67 743.6 137.18 743.83 137.54 744.2 C137.91 744.56 138.16 745.07 138.36 745.56 C138.56 746.04 138.68 746.84 138.74 747.1" fill="none" stroke="#c8141e" stroke-width="0.54" opacity="0.47" stroke-linecap="round"/><path d="M61.35 751.37 C61.14 751.54 60.5 752.09 60.05 752.4 C59.59 752.71 58.84 753.09 58.6 753.22" fill="none" stroke="#c8141e" stroke-width="0.64" opacity="0.56" stroke-linecap="round"/><path d="M126.72 744.5 C126.78 744.77 126.91 745.6 127.12 746.1 C127.34 746.59 127.63 747.09 128 747.49 C128.36 747.89 128.97 748.07 129.31 748.48 C129.64 748.9 129.89 749.73 130.01 749.97" fill="none" stroke="#c8141e" stroke-width="0.84" opacity="0.55" stroke-linecap="round"/><path d="M133.5 748.04 C133.6 748.01 133.91 747.93 134.1 747.84 C134.29 747.76 134.46 747.6 134.66 747.55 C134.86 747.49 135.08 747.48 135.29 747.51 C135.49 747.54 135.78 747.69 135.88 747.73" fill="none" stroke="#c8141e" stroke-width="0.67" opacity="0.38" stroke-linecap="round"/><path d="M59.36 684.96 C59.53 685.09 60.06 685.44 60.38 685.71 C60.71 685.98 60.96 686.35 61.31 686.57 C61.67 686.78 62.1 686.89 62.5 686.98 C62.91 687.07 63.55 687.1 63.76 687.12" fill="none" stroke="#c8141e" stroke-width="0.76" opacity="0.46" stroke-linecap="round"/><path d="M57.97 748.17 C58.11 748.19 58.52 748.21 58.79 748.27 C59.06 748.34 59.31 748.47 59.57 748.55 C59.83 748.63 60.24 748.71 60.37 748.75" fill="none" stroke="#c8141e" stroke-width="0.66" opacity="0.26" stroke-linecap="round"/><path d="M140.05 774.02 C140.14 773.66 140.48 772.59 140.55 771.85 C140.63 771.12 140.55 770.37 140.48 769.63 C140.41 768.89 140.21 767.79 140.16 767.42" fill="none" stroke="#c8141e" stroke-width="0.48" opacity="0.3" stroke-linecap="round"/><path d="M90.45 738.67 C90.1 738.54 89.02 738.24 88.37 737.9 C87.72 737.56 86.86 736.84 86.55 736.63" fill="none" stroke="#c8141e" stroke-width="0.77" opacity="0.28" stroke-linecap="round"/><path d="M131.62 697.46 C131.5 697.49 131.15 697.58 130.91 697.62 C130.67 697.66 130.43 697.69 130.19 697.7 C129.95 697.71 129.59 697.68 129.47 697.67" fill="none" stroke="#c8141e" stroke-width="0.7" opacity="0.46" stroke-linecap="round"/><path d="M86.14 760.03 C86.42 760.02 87.3 760.1 87.84 759.96 C88.37 759.82 88.82 759.39 89.34 759.17 C89.85 758.95 90.68 758.74 90.95 758.65" fill="none" stroke="#c8141e" stroke-width="0.4" opacity="0.45" stroke-linecap="round"/><path d="M86.36 766.88 C86.92 766.95 88.59 767.33 89.7 767.33 C90.81 767.33 92.48 766.96 93.04 766.88" fill="none" stroke="#c8141e" stroke-width="0.56" opacity="0.39" stroke-linecap="round"/><path d="M88.61 684.28 C88.64 684.11 88.7 683.59 88.81 683.27 C88.91 682.95 89.12 682.66 89.23 682.33 C89.33 682.01 89.28 681.63 89.42 681.33 C89.56 681.02 89.94 680.65 90.05 680.52" fill="none" stroke="#c8141e" stroke-width="0.75" opacity="0.46" stroke-linecap="round"/><path d="M76.7 716.55 C76.66 716.3 76.61 715.52 76.46 715.04 C76.32 714.55 75.95 714.13 75.83 713.65 C75.72 713.16 75.77 712.38 75.76 712.12" fill="none" stroke="#c8141e" stroke-width="0.64" opacity="0.23" stroke-linecap="round"/><path d="M56.96 750.75 C56.99 750.51 57.06 749.77 57.16 749.28 C57.26 748.8 57.5 748.33 57.54 747.85 C57.58 747.36 57.41 746.62 57.39 746.37" fill="none" stroke="#c8141e" stroke-width="0.87" opacity="0.3" stroke-linecap="round"/><path d="M60.2 721.54 C60.34 721.54 60.76 721.53 61.04 721.54 C61.31 721.55 61.6 721.51 61.87 721.57 C62.14 721.64 62.5 721.86 62.63 721.92" fill="none" stroke="#c8141e" stroke-width="0.6" opacity="0.5" stroke-linecap="round"/><path d="M137.49 690.92 C137.71 691.04 138.39 691.36 138.78 691.65 C139.17 691.95 139.46 692.36 139.83 692.7 C140.19 693.03 140.57 693.35 140.96 693.66 C141.34 693.96 141.96 694.37 142.16 694.52" fill="none" stroke="#c8141e" stroke-width="0.45" opacity="0.46" stroke-linecap="round"/><path d="M86.76 764.72 C86.87 764.75 87.2 764.9 87.44 764.93 C87.67 764.96 87.91 764.87 88.15 764.88 C88.38 764.89 88.62 764.95 88.85 764.99 C89.09 765.03 89.44 765.1 89.55 765.12" fill="none" stroke="#c8141e" stroke-width="0.67" opacity="0.45" stroke-linecap="round"/></g>
<path d="M73.2 696 C73.83 696.47 75.57 697.7 77 698.8 C78.43 699.9 81 701.97 81.8 702.6" fill="none" stroke="#d4502a" stroke-width="1.9" opacity="0.9" stroke-linecap="round" filter="url(#mb)"/>
<path d="M73.2 696 C73.83 696.47 75.57 697.7 77 698.8 C78.43 699.9 81 701.97 81.8 702.6" fill="none" stroke="#c8a040" stroke-width="0.8" opacity="0.85" stroke-linecap="round" filter="url(#mb)"/>
<path d="M83.5 705.2 C84.92 705.83 89.17 707.95 92 709 C94.83 710.05 97.33 710.72 100.5 711.5 C103.67 712.28 109.25 713.33 111 713.7" fill="none" stroke="#c8141e" stroke-width="0.8" opacity="0.9" stroke-linecap="round" filter="url(#mb)"/>
<path d="M129 704.1 C129.25 704.55 130.07 705.73 130.5 706.8 C130.93 707.87 131.42 709.88 131.6 710.5" fill="none" stroke="#d4502a" stroke-width="1.3" opacity="0.9" stroke-linecap="round" filter="url(#mb)"/>
<path d="M129 704.1 C129.25 704.55 130.07 705.73 130.5 706.8 C130.93 707.87 131.42 709.88 131.6 710.5" fill="none" stroke="#c8a040" stroke-width="0.55" opacity="0.85" stroke-linecap="round" filter="url(#mb)"/>
<path d="M140.7 709.8 C141.58 709.55 144.07 708.9 146 708.3 C147.93 707.7 151.25 706.55 152.3 706.2" fill="none" stroke="#d4502a" stroke-width="1.7" opacity="0.9" stroke-linecap="round" filter="url(#mb)"/>
<path d="M140.7 709.8 C141.58 709.55 144.07 708.9 146 708.3 C147.93 707.7 151.25 706.55 152.3 706.2" fill="none" stroke="#c8a040" stroke-width="0.71" opacity="0.85" stroke-linecap="round" filter="url(#mb)"/>
<path d="M107.2 735.5 C107.1 736.05 106.83 737.5 106.6 738.8 C106.37 740.1 105.93 742.55 105.8 743.3" fill="none" stroke="#d4502a" stroke-width="1.5" opacity="0.9" stroke-linecap="round" filter="url(#mb)"/>
<path d="M107.2 735.5 C107.1 736.05 106.83 737.5 106.6 738.8 C106.37 740.1 105.93 742.55 105.8 743.3" fill="none" stroke="#c8a040" stroke-width="0.63" opacity="0.85" stroke-linecap="round" filter="url(#mb)"/>
<path d="M61.5 764.2 C61.57 764.43 61.83 765.37 61.9 765.6" fill="none" stroke="#d4502a" stroke-width="1.3" opacity="0.9" stroke-linecap="round" filter="url(#mb)"/>
<path d="M61.5 764.2 C61.57 764.43 61.83 765.37 61.9 765.6" fill="none" stroke="#c8a040" stroke-width="0.55" opacity="0.85" stroke-linecap="round" filter="url(#mb)"/>
<path d="M52 701.8 C52.5 702.38 54.5 704.72 55 705.3" fill="none" stroke="#c8141e" stroke-width="0.7" opacity="0.9" stroke-linecap="round" filter="url(#mb)"/>
<path d="M71 715.8 C70.42 716.22 68.08 717.88 67.5 718.3" fill="none" stroke="#c8141e" stroke-width="0.7" opacity="0.9" stroke-linecap="round" filter="url(#mb)"/>
<path d="M111 678.8 C110.67 679.47 109.33 682.13 109 682.8" fill="none" stroke="#c8141e" stroke-width="0.6" opacity="0.9" stroke-linecap="round" filter="url(#mb)"/>
<path d="M138.5 691.8 C139.58 692.05 143.92 693.05 145 693.3" fill="none" stroke="#c8141e" stroke-width="0.7" opacity="0.9" stroke-linecap="round" filter="url(#mb)"/>
<path d="M121.5 733.8 C121.33 734.47 120.67 737.13 120.5 737.8" fill="none" stroke="#c8141e" stroke-width="0.6" opacity="0.9" stroke-linecap="round" filter="url(#mb)"/>
<path d="M129 762.8 C129.33 763.22 130.67 764.88 131 765.3" fill="none" stroke="#c8141e" stroke-width="0.7" opacity="0.9" stroke-linecap="round" filter="url(#mb)"/>
<path d="M71 735.8 C71.5 736.22 73.5 737.88 74 738.3" fill="none" stroke="#c8141e" stroke-width="0.6" opacity="0.9" stroke-linecap="round" filter="url(#mb)"/>
</g>
<g clip-path="url(#cm1)">
<clipPath id="cm1"><rect x="160.4" y="672.8" width="112.5" height="110.1"/></clipPath>
<rect x="160.4" y="672.8" width="112.5" height="110.1" fill="#000" filter="url(#mg)" mask="url(#mk1)" opacity="0.42"/>
<path d="M188.6 696 C189.23 696.47 190.97 697.7 192.4 698.8 C193.83 699.9 196.4 701.97 197.2 702.6" fill="none" stroke="#2fae4a" stroke-width="1.71" opacity="0.9" stroke-linecap="round" filter="url(#mb)"/>
<path d="M188.6 696 C189.23 696.47 190.97 697.7 192.4 698.8 C193.83 699.9 196.4 701.97 197.2 702.6" fill="none" stroke="#04140a" stroke-width="0.57" opacity="0.9" stroke-linecap="round" filter="url(#mb)"/>
<path d="M244.4 704.1 C244.65 704.55 245.47 705.73 245.9 706.8 C246.33 707.87 246.82 709.88 247 710.5" fill="none" stroke="#2fae4a" stroke-width="1.17" opacity="0.9" stroke-linecap="round" filter="url(#mb)"/>
<path d="M244.4 704.1 C244.65 704.55 245.47 705.73 245.9 706.8 C246.33 707.87 246.82 709.88 247 710.5" fill="none" stroke="#04140a" stroke-width="0.39" opacity="0.9" stroke-linecap="round" filter="url(#mb)"/>
<path d="M256.1 709.8 C256.98 709.55 259.47 708.9 261.4 708.3 C263.33 707.7 266.65 706.55 267.7 706.2" fill="none" stroke="#2fae4a" stroke-width="1.53" opacity="0.9" stroke-linecap="round" filter="url(#mb)"/>
<path d="M256.1 709.8 C256.98 709.55 259.47 708.9 261.4 708.3 C263.33 707.7 266.65 706.55 267.7 706.2" fill="none" stroke="#04140a" stroke-width="0.51" opacity="0.9" stroke-linecap="round" filter="url(#mb)"/>
<path d="M222.6 735.5 C222.5 736.05 222.23 737.5 222 738.8 C221.77 740.1 221.33 742.55 221.2 743.3" fill="none" stroke="#2fae4a" stroke-width="1.35" opacity="0.9" stroke-linecap="round" filter="url(#mb)"/>
<path d="M222.6 735.5 C222.5 736.05 222.23 737.5 222 738.8 C221.77 740.1 221.33 742.55 221.2 743.3" fill="none" stroke="#04140a" stroke-width="0.45" opacity="0.9" stroke-linecap="round" filter="url(#mb)"/>
<path d="M176.9 764.2 C176.97 764.43 177.23 765.37 177.3 765.6" fill="none" stroke="#2fae4a" stroke-width="1.17" opacity="0.9" stroke-linecap="round" filter="url(#mb)"/>
<path d="M176.9 764.2 C176.97 764.43 177.23 765.37 177.3 765.6" fill="none" stroke="#04140a" stroke-width="0.39" opacity="0.9" stroke-linecap="round" filter="url(#mb)"/>
</g>
<g clip-path="url(#cm2)">
<clipPath id="cm2"><rect x="274" y="672.8" width="113.6" height="110.1"/></clipPath>
<rect x="274" y="672.8" width="113.6" height="110.1" fill="#000" filter="url(#mn)" opacity="0.28"/>
<g filter="url(#mb)"><path d="M338.74 694.24 C339.03 694.01 339.89 693.32 340.47 692.87 C341.04 692.41 341.6 691.92 342.2 691.5 C342.8 691.07 343.75 690.51 344.06 690.31" fill="none" stroke="#c8141e" stroke-width="0.85" opacity="0.38" stroke-linecap="round"/><path d="M361.23 709.03 C361.04 709.22 360.51 709.87 360.09 710.2 C359.66 710.54 358.91 710.9 358.68 711.04" fill="none" stroke="#c8141e" stroke-width="0.55" opacity="0.38" stroke-linecap="round"/><path d="M310.32 742.98 C310.18 743.08 309.74 743.35 309.5 743.58 C309.27 743.82 309.12 744.14 308.9 744.39 C308.67 744.65 308.29 744.98 308.17 745.1" fill="none" stroke="#c8141e" stroke-width="0.69" opacity="0.33" stroke-linecap="round"/><path d="M369.68 702.23 C369.71 701.97 369.74 701.18 369.84 700.67 C369.94 700.15 370.2 699.41 370.27 699.15" fill="none" stroke="#c8141e" stroke-width="0.35" opacity="0.38" stroke-linecap="round"/><path d="M333.61 710.84 C334.07 710.79 335.45 710.51 336.36 710.56 C337.26 710.62 338.6 711.06 339.05 711.16" fill="none" stroke="#c8141e" stroke-width="0.89" opacity="0.37" stroke-linecap="round"/><path d="M304.94 756.87 C304.56 756.95 303.43 757.21 302.67 757.34 C301.91 757.47 301.1 757.43 300.37 757.65 C299.65 757.88 298.65 758.53 298.3 758.7" fill="none" stroke="#c8141e" stroke-width="0.81" opacity="0.39" stroke-linecap="round"/><path d="M370.72 692.75 C370.21 692.87 368.67 693.3 367.63 693.51 C366.6 693.73 365.02 693.96 364.5 694.05" fill="none" stroke="#c8141e" stroke-width="0.64" opacity="0.46" stroke-linecap="round"/><path d="M323.27 762.78 C323.24 762.57 323.07 761.95 323.07 761.53 C323.06 761.11 323.26 760.69 323.24 760.28 C323.22 759.87 323.11 759.43 322.95 759.05 C322.8 758.66 322.41 758.15 322.3 757.97" fill="none" stroke="#c8141e" stroke-width="0.79" opacity="0.48" stroke-linecap="round"/><path d="M373.42 721.96 C373.63 721.89 374.29 721.71 374.7 721.54 C375.12 721.37 375.7 721.03 375.9 720.93" fill="none" stroke="#c8141e" stroke-width="0.39" opacity="0.41" stroke-linecap="round"/><path d="M350.78 711.38 C350.97 711.37 351.54 711.26 351.91 711.32 C352.27 711.38 352.59 711.65 352.95 711.75 C353.32 711.85 353.89 711.88 354.07 711.91" fill="none" stroke="#c8141e" stroke-width="0.46" opacity="0.25" stroke-linecap="round"/><path d="M383.29 772.01 C383.21 772.07 382.94 772.24 382.8 772.39 C382.66 772.53 382.52 772.71 382.45 772.9 C382.39 773.09 382.4 773.31 382.39 773.52 C382.38 773.72 382.39 774.03 382.39 774.14" fill="none" stroke="#c8141e" stroke-width="0.69" opacity="0.45" stroke-linecap="round"/><path d="M278.95 709.85 C279.06 709.5 279.38 708.46 279.61 707.77 C279.84 707.08 280.22 706.06 280.34 705.72" fill="none" stroke="#c8141e" stroke-width="0.53" opacity="0.55" stroke-linecap="round"/><path d="M306.1 747.55 C306.4 747.41 307.31 746.99 307.93 746.72 C308.54 746.45 309.46 746.06 309.76 745.93" fill="none" stroke="#c8141e" stroke-width="0.47" opacity="0.45" stroke-linecap="round"/><path d="M290.25 686.17 C290.75 686.34 292.28 686.75 293.23 687.18 C294.19 687.6 295.52 688.47 295.98 688.72" fill="none" stroke="#c8141e" stroke-width="0.55" opacity="0.45" stroke-linecap="round"/><path d="M335.25 686.84 C335.1 686.83 334.65 686.75 334.35 686.76 C334.06 686.77 333.76 686.91 333.47 686.9 C333.17 686.89 332.89 686.72 332.59 686.7 C332.3 686.68 331.85 686.76 331.7 686.77" fill="none" stroke="#c8141e" stroke-width="0.89" opacity="0.48" stroke-linecap="round"/><path d="M301.41 736.46 C301.17 736.72 300.38 737.45 299.96 738.02 C299.55 738.59 299.32 739.3 298.91 739.87 C298.5 740.45 297.73 741.2 297.5 741.47" fill="none" stroke="#c8141e" stroke-width="0.87" opacity="0.49" stroke-linecap="round"/><path d="M325.82 781.09 C325.95 781.08 326.33 781.04 326.58 781.04 C326.83 781.05 327.1 781.06 327.34 781.12 C327.59 781.18 327.93 781.35 328.05 781.4" fill="none" stroke="#c8141e" stroke-width="0.87" opacity="0.39" stroke-linecap="round"/><path d="M363.71 742.8 C363.96 742.89 364.72 743.13 365.19 743.36 C365.67 743.6 366.18 743.83 366.54 744.2 C366.91 744.56 367.16 745.07 367.36 745.56 C367.56 746.04 367.68 746.84 367.74 747.1" fill="none" stroke="#c8141e" stroke-width="0.54" opacity="0.47" stroke-linecap="round"/><path d="M290.35 751.37 C290.14 751.54 289.5 752.09 289.05 752.4 C288.59 752.71 287.84 753.09 287.6 753.22" fill="none" stroke="#c8141e" stroke-width="0.64" opacity="0.56" stroke-linecap="round"/><path d="M355.72 744.5 C355.78 744.77 355.91 745.6 356.12 746.1 C356.34 746.59 356.63 747.09 357 747.49 C357.36 747.89 357.97 748.07 358.31 748.48 C358.64 748.9 358.89 749.73 359.01 749.97" fill="none" stroke="#c8141e" stroke-width="0.84" opacity="0.55" stroke-linecap="round"/><path d="M362.5 748.04 C362.6 748.01 362.91 747.93 363.1 747.84 C363.29 747.76 363.46 747.6 363.66 747.55 C363.86 747.49 364.08 747.48 364.29 747.51 C364.49 747.54 364.78 747.69 364.88 747.73" fill="none" stroke="#c8141e" stroke-width="0.67" opacity="0.38" stroke-linecap="round"/><path d="M288.36 684.96 C288.53 685.09 289.06 685.44 289.38 685.71 C289.71 685.98 289.96 686.35 290.31 686.57 C290.67 686.78 291.1 686.89 291.5 686.98 C291.91 687.07 292.55 687.1 292.76 687.12" fill="none" stroke="#c8141e" stroke-width="0.76" opacity="0.46" stroke-linecap="round"/><path d="M286.97 748.17 C287.11 748.19 287.52 748.21 287.79 748.27 C288.06 748.34 288.31 748.47 288.57 748.55 C288.83 748.63 289.24 748.71 289.37 748.75" fill="none" stroke="#c8141e" stroke-width="0.66" opacity="0.26" stroke-linecap="round"/><path d="M369.05 774.02 C369.14 773.66 369.48 772.59 369.55 771.85 C369.63 771.12 369.55 770.37 369.48 769.63 C369.41 768.89 369.21 767.79 369.16 767.42" fill="none" stroke="#c8141e" stroke-width="0.48" opacity="0.3" stroke-linecap="round"/><path d="M319.45 738.67 C319.1 738.54 318.02 738.24 317.37 737.9 C316.72 737.56 315.86 736.84 315.55 736.63" fill="none" stroke="#c8141e" stroke-width="0.77" opacity="0.28" stroke-linecap="round"/><path d="M360.62 697.46 C360.5 697.49 360.15 697.58 359.91 697.62 C359.67 697.66 359.43 697.69 359.19 697.7 C358.95 697.71 358.59 697.68 358.47 697.67" fill="none" stroke="#c8141e" stroke-width="0.7" opacity="0.46" stroke-linecap="round"/><path d="M315.14 760.03 C315.42 760.02 316.3 760.1 316.84 759.96 C317.37 759.82 317.82 759.39 318.34 759.17 C318.85 758.95 319.68 758.74 319.95 758.65" fill="none" stroke="#c8141e" stroke-width="0.4" opacity="0.45" stroke-linecap="round"/><path d="M315.36 766.88 C315.92 766.95 317.59 767.33 318.7 767.33 C319.81 767.33 321.48 766.96 322.04 766.88" fill="none" stroke="#c8141e" stroke-width="0.56" opacity="0.39" stroke-linecap="round"/><path d="M317.61 684.28 C317.64 684.11 317.7 683.59 317.81 683.27 C317.91 682.95 318.12 682.66 318.23 682.33 C318.33 682.01 318.28 681.63 318.42 681.33 C318.56 681.02 318.94 680.65 319.05 680.52" fill="none" stroke="#c8141e" stroke-width="0.75" opacity="0.46" stroke-linecap="round"/><path d="M305.7 716.55 C305.66 716.3 305.61 715.52 305.46 715.04 C305.32 714.55 304.95 714.13 304.83 713.65 C304.72 713.16 304.77 712.38 304.76 712.12" fill="none" stroke="#c8141e" stroke-width="0.64" opacity="0.23" stroke-linecap="round"/><path d="M285.96 750.75 C285.99 750.51 286.06 749.77 286.16 749.28 C286.26 748.8 286.5 748.33 286.54 747.85 C286.58 747.36 286.41 746.62 286.39 746.37" fill="none" stroke="#c8141e" stroke-width="0.87" opacity="0.3" stroke-linecap="round"/><path d="M289.2 721.54 C289.34 721.54 289.76 721.53 290.04 721.54 C290.31 721.55 290.6 721.51 290.87 721.57 C291.14 721.64 291.5 721.86 291.63 721.92" fill="none" stroke="#c8141e" stroke-width="0.6" opacity="0.5" stroke-linecap="round"/><path d="M366.49 690.92 C366.71 691.04 367.39 691.36 367.78 691.65 C368.17 691.95 368.46 692.36 368.83 692.7 C369.19 693.03 369.57 693.35 369.96 693.66 C370.34 693.96 370.96 694.37 371.16 694.52" fill="none" stroke="#c8141e" stroke-width="0.45" opacity="0.46" stroke-linecap="round"/><path d="M315.76 764.72 C315.87 764.75 316.2 764.9 316.44 764.93 C316.67 764.96 316.91 764.87 317.15 764.88 C317.38 764.89 317.62 764.95 317.85 764.99 C318.09 765.03 318.44 765.1 318.55 765.12" fill="none" stroke="#c8141e" stroke-width="0.67" opacity="0.45" stroke-linecap="round"/></g>
<path d="M302.2 696 C302.83 696.47 304.57 697.7 306 698.8 C307.43 699.9 310 701.97 310.8 702.6" fill="none" stroke="#e0202c" stroke-width="1.9" opacity="0.95" stroke-linecap="round" filter="url(#mb)"/>
<path d="M302.2 696 C302.83 696.47 304.57 697.7 306 698.8 C307.43 699.9 310 701.97 310.8 702.6" fill="none" stroke="#ff6a6a" stroke-width="0.57" opacity="0.7" stroke-linecap="round" filter="url(#mb)"/>
<path d="M312.5 705.2 C313.92 705.83 318.17 707.95 321 709 C323.83 710.05 326.33 710.72 329.5 711.5 C332.67 712.28 338.25 713.33 340 713.7" fill="none" stroke="#e0202c" stroke-width="0.8" opacity="0.95" stroke-linecap="round" filter="url(#mb)"/>
<path d="M358 704.1 C358.25 704.55 359.07 705.73 359.5 706.8 C359.93 707.87 360.42 709.88 360.6 710.5" fill="none" stroke="#e0202c" stroke-width="1.3" opacity="0.95" stroke-linecap="round" filter="url(#mb)"/>
<path d="M358 704.1 C358.25 704.55 359.07 705.73 359.5 706.8 C359.93 707.87 360.42 709.88 360.6 710.5" fill="none" stroke="#ff6a6a" stroke-width="0.39" opacity="0.7" stroke-linecap="round" filter="url(#mb)"/>
<path d="M369.7 709.8 C370.58 709.55 373.07 708.9 375 708.3 C376.93 707.7 380.25 706.55 381.3 706.2" fill="none" stroke="#e0202c" stroke-width="1.7" opacity="0.95" stroke-linecap="round" filter="url(#mb)"/>
<path d="M369.7 709.8 C370.58 709.55 373.07 708.9 375 708.3 C376.93 707.7 380.25 706.55 381.3 706.2" fill="none" stroke="#ff6a6a" stroke-width="0.51" opacity="0.7" stroke-linecap="round" filter="url(#mb)"/>
<path d="M336.2 735.5 C336.1 736.05 335.83 737.5 335.6 738.8 C335.37 740.1 334.93 742.55 334.8 743.3" fill="none" stroke="#e0202c" stroke-width="1.5" opacity="0.95" stroke-linecap="round" filter="url(#mb)"/>
<path d="M336.2 735.5 C336.1 736.05 335.83 737.5 335.6 738.8 C335.37 740.1 334.93 742.55 334.8 743.3" fill="none" stroke="#ff6a6a" stroke-width="0.45" opacity="0.7" stroke-linecap="round" filter="url(#mb)"/>
<path d="M290.5 764.2 C290.57 764.43 290.83 765.37 290.9 765.6" fill="none" stroke="#e0202c" stroke-width="1.3" opacity="0.95" stroke-linecap="round" filter="url(#mb)"/>
<path d="M290.5 764.2 C290.57 764.43 290.83 765.37 290.9 765.6" fill="none" stroke="#ff6a6a" stroke-width="0.39" opacity="0.7" stroke-linecap="round" filter="url(#mb)"/>
<path d="M281 701.8 C281.5 702.38 283.5 704.72 284 705.3" fill="none" stroke="#e0202c" stroke-width="0.7" opacity="0.95" stroke-linecap="round" filter="url(#mb)"/>
<path d="M300 715.8 C299.42 716.22 297.08 717.88 296.5 718.3" fill="none" stroke="#e0202c" stroke-width="0.7" opacity="0.95" stroke-linecap="round" filter="url(#mb)"/>
<path d="M340 678.8 C339.67 679.47 338.33 682.13 338 682.8" fill="none" stroke="#e0202c" stroke-width="0.6" opacity="0.95" stroke-linecap="round" filter="url(#mb)"/>
<path d="M367.5 691.8 C368.58 692.05 372.92 693.05 374 693.3" fill="none" stroke="#e0202c" stroke-width="0.7" opacity="0.95" stroke-linecap="round" filter="url(#mb)"/>
<path d="M350.5 733.8 C350.33 734.47 349.67 737.13 349.5 737.8" fill="none" stroke="#e0202c" stroke-width="0.6" opacity="0.95" stroke-linecap="round" filter="url(#mb)"/>
<path d="M358 762.8 C358.33 763.22 359.67 764.88 360 765.3" fill="none" stroke="#e0202c" stroke-width="0.7" opacity="0.95" stroke-linecap="round" filter="url(#mb)"/>
<path d="M300 735.8 C300.5 736.22 302.5 737.88 303 738.3" fill="none" stroke="#e0202c" stroke-width="0.6" opacity="0.95" stroke-linecap="round" filter="url(#mb)"/>
</g>
<g clip-path="url(#cn0)">
<clipPath id="cn0"><rect x="45" y="784.1" width="114.3" height="109"/></clipPath>
<rect x="45" y="784.1" width="114.3" height="109" fill="#0a0001" />
<rect x="45" y="784.1" width="114.3" height="109" fill="#000" filter="url(#mn)" opacity="0.34"/>
<g filter="url(#mb)"><path d="M130.1 854.38 C130.37 855.03 131.42 856.91 131.73 858.26 C132.04 859.6 131.9 861.76 131.93 862.46" fill="none" stroke="#c8141e" stroke-width="0.37" opacity="0.41" stroke-linecap="round"/><path d="M140.35 841.1 C140.2 841.27 139.8 841.83 139.46 842.11 C139.11 842.38 138.69 842.58 138.29 842.77 C137.88 842.96 137.24 843.16 137.03 843.24" fill="none" stroke="#c8141e" stroke-width="0.64" opacity="0.5" stroke-linecap="round"/><path d="M94.79 879.36 C95.65 879.5 98.29 879.7 99.94 880.21 C101.59 880.72 103.88 882.05 104.67 882.42" fill="none" stroke="#c8141e" stroke-width="0.37" opacity="0.31" stroke-linecap="round"/><path d="M64.69 883.83 C64.87 883.93 65.46 884.14 65.74 884.4 C66.03 884.66 66.15 885.09 66.4 885.39 C66.65 885.7 66.98 885.94 67.24 886.24 C67.5 886.54 67.83 887.04 67.94 887.2" fill="none" stroke="#c8141e" stroke-width="0.46" opacity="0.33" stroke-linecap="round"/><path d="M141.41 892.83 C141.18 893.01 140.47 893.51 140.03 893.89 C139.6 894.26 138.99 894.88 138.78 895.08" fill="none" stroke="#c8141e" stroke-width="0.77" opacity="0.35" stroke-linecap="round"/><path d="M143.76 796.21 C143.64 796.3 143.26 796.56 143.03 796.75 C142.79 796.94 142.62 797.22 142.36 797.37 C142.1 797.51 141.75 797.47 141.48 797.61 C141.21 797.74 140.88 798.07 140.76 798.17" fill="none" stroke="#c8141e" stroke-width="0.86" opacity="0.28" stroke-linecap="round"/><path d="M59.89 790.04 C59.55 790.34 58.39 791.14 57.83 791.84 C57.27 792.54 56.97 793.44 56.54 794.25 C56.11 795.05 55.47 796.25 55.25 796.66" fill="none" stroke="#c8141e" stroke-width="0.45" opacity="0.52" stroke-linecap="round"/><path d="M141.07 793.64 C140.81 793.79 139.99 794.19 139.53 794.56 C139.08 794.94 138.73 795.45 138.33 795.9 C137.94 796.35 137.44 796.75 137.18 797.27 C136.91 797.79 136.82 798.72 136.75 799.01" fill="none" stroke="#c8141e" stroke-width="0.65" opacity="0.5" stroke-linecap="round"/><path d="M100.65 869.7 C100.44 869.51 99.84 868.89 99.38 868.59 C98.91 868.28 98.36 868.1 97.85 867.87 C97.33 867.64 96.77 867.49 96.29 867.2 C95.82 866.9 95.21 866.29 95 866.11" fill="none" stroke="#c8141e" stroke-width="0.4" opacity="0.29" stroke-linecap="round"/><path d="M49.72 889.45 C49.56 889.75 49.13 890.66 48.77 891.22 C48.42 891.78 48.07 892.4 47.59 892.84 C47.11 893.28 46.42 893.5 45.87 893.87 C45.32 894.24 44.54 894.88 44.27 895.08" fill="none" stroke="#c8141e" stroke-width="0.82" opacity="0.57" stroke-linecap="round"/><path d="M79.6 811.33 C79.25 811.23 78.19 810.89 77.46 810.73 C76.74 810.58 76 810.53 75.27 810.39 C74.54 810.26 73.83 810 73.1 809.93 C72.37 809.87 71.25 810.01 70.88 810.02" fill="none" stroke="#c8141e" stroke-width="0.88" opacity="0.45" stroke-linecap="round"/><path d="M150.93 860.39 C151.08 860.09 151.64 859.25 151.83 858.62 C152.02 858 151.84 857.26 152.07 856.66 C152.29 856.06 152.98 855.28 153.16 855.01" fill="none" stroke="#c8141e" stroke-width="0.77" opacity="0.29" stroke-linecap="round"/><path d="M97.75 821.34 C97.61 820.97 97.13 819.88 96.92 819.13 C96.72 818.37 96.58 817.19 96.51 816.8" fill="none" stroke="#c8141e" stroke-width="0.7" opacity="0.29" stroke-linecap="round"/><path d="M135.48 815.59 C135.66 815.43 136.26 815.04 136.52 814.68 C136.78 814.31 136.79 813.78 137.04 813.4 C137.28 813.03 137.82 812.57 137.98 812.4" fill="none" stroke="#c8141e" stroke-width="0.73" opacity="0.34" stroke-linecap="round"/><path d="M110.09 826.22 C109.21 826.11 106.57 825.55 104.81 825.53 C103.05 825.5 100.39 825.99 99.51 826.08" fill="none" stroke="#c8141e" stroke-width="0.58" opacity="0.28" stroke-linecap="round"/><path d="M95.3 852.81 C95.3 852.95 95.3 853.35 95.26 853.61 C95.22 853.87 95.17 854.14 95.05 854.37 C94.93 854.6 94.72 854.78 94.55 854.99 C94.38 855.19 94.11 855.48 94.02 855.58" fill="none" stroke="#c8141e" stroke-width="0.54" opacity="0.49" stroke-linecap="round"/><path d="M148.2 841.32 C147.79 841.09 146.6 840.29 145.75 839.91 C144.89 839.53 143.5 839.19 143.05 839.04" fill="none" stroke="#c8141e" stroke-width="0.79" opacity="0.44" stroke-linecap="round"/><path d="M131.59 823.75 C131.48 823.93 131.2 824.53 130.94 824.87 C130.68 825.21 130.32 825.47 130.04 825.8 C129.76 826.12 129.56 826.52 129.27 826.84 C128.97 827.15 128.45 827.54 128.29 827.68" fill="none" stroke="#c8141e" stroke-width="0.87" opacity="0.53" stroke-linecap="round"/><path d="M64.52 788.85 C64.2 788.38 62.97 787.07 62.56 786.03 C62.16 784.99 62.18 783.19 62.1 782.62" fill="none" stroke="#c8141e" stroke-width="0.89" opacity="0.25" stroke-linecap="round"/><path d="M80.17 821.55 C80.44 821.28 81.17 820.32 81.8 819.89 C82.43 819.47 83.21 819.22 83.95 819 C84.7 818.79 85.55 818.89 86.25 818.6 C86.95 818.31 87.84 817.49 88.16 817.26" fill="none" stroke="#c8141e" stroke-width="0.54" opacity="0.38" stroke-linecap="round"/><path d="M46.85 800.63 C46.58 800.15 45.77 798.72 45.26 797.75 C44.76 796.77 44.24 795.8 43.82 794.79 C43.4 793.78 42.92 792.2 42.74 791.68" fill="none" stroke="#c8141e" stroke-width="0.71" opacity="0.33" stroke-linecap="round"/><path d="M98.97 798.8 C98.48 799.54 97.24 801.98 96.05 803.26 C94.86 804.54 92.52 805.95 91.82 806.49" fill="none" stroke="#c8141e" stroke-width="0.59" opacity="0.57" stroke-linecap="round"/><path d="M155.57 883.47 C155.22 883.39 154.2 883.02 153.5 882.99 C152.81 882.97 151.76 883.25 151.41 883.3" fill="none" stroke="#c8141e" stroke-width="0.77" opacity="0.27" stroke-linecap="round"/><path d="M143.13 866.92 C143.26 866.67 143.59 865.9 143.88 865.42 C144.17 864.94 144.7 864.28 144.86 864.06" fill="none" stroke="#c8141e" stroke-width="0.88" opacity="0.35" stroke-linecap="round"/><path d="M52.37 879.27 C52.89 879.19 54.48 879.08 55.48 878.79 C56.48 878.49 57.37 877.8 58.37 877.51 C59.37 877.22 60.97 877.13 61.49 877.05" fill="none" stroke="#c8141e" stroke-width="0.43" opacity="0.41" stroke-linecap="round"/><path d="M90.65 802.49 C91.1 801.99 92.51 800.54 93.31 799.47 C94.12 798.4 95.14 796.65 95.5 796.08" fill="none" stroke="#c8141e" stroke-width="0.52" opacity="0.36" stroke-linecap="round"/><path d="M155.4 884.7 C155.99 885.09 157.77 886.22 158.93 887.02 C160.09 887.83 161.77 889.11 162.34 889.53" fill="none" stroke="#c8141e" stroke-width="0.59" opacity="0.23" stroke-linecap="round"/><path d="M105.98 816.3 C105.58 816.03 104.33 815.24 103.56 814.65 C102.78 814.06 101.7 813.07 101.33 812.75" fill="none" stroke="#c8141e" stroke-width="0.56" opacity="0.27" stroke-linecap="round"/><path d="M97.78 817.89 C97.58 817.83 96.96 817.56 96.53 817.52 C96.1 817.48 95.64 817.53 95.23 817.65 C94.81 817.76 94.25 818.13 94.05 818.22" fill="none" stroke="#c8141e" stroke-width="0.86" opacity="0.28" stroke-linecap="round"/><path d="M87.8 826.14 C87.46 826.37 86.52 827.2 85.79 827.53 C85.06 827.86 84.2 827.88 83.42 828.11 C82.64 828.34 81.77 828.46 81.1 828.89 C80.44 829.31 79.7 830.36 79.42 830.65" fill="none" stroke="#c8141e" stroke-width="0.73" opacity="0.29" stroke-linecap="round"/><path d="M125.12 796.62 C125.76 796.7 127.72 796.79 128.94 797.13 C130.17 797.48 131.89 798.43 132.48 798.68" fill="none" stroke="#c8141e" stroke-width="0.87" opacity="0.54" stroke-linecap="round"/><path d="M116.89 867.38 C117.2 867.93 118.15 869.56 118.7 870.68 C119.25 871.81 119.94 873.56 120.19 874.14" fill="none" stroke="#c8141e" stroke-width="0.74" opacity="0.43" stroke-linecap="round"/><path d="M92.85 878.8 C92.66 878.76 92.08 878.59 91.69 878.55 C91.3 878.51 90.9 878.57 90.51 878.59 C90.11 878.6 89.72 878.64 89.32 878.65 C88.93 878.66 88.33 878.66 88.14 878.66" fill="none" stroke="#c8141e" stroke-width="0.61" opacity="0.23" stroke-linecap="round"/><path d="M122.11 857.03 C121.7 856.88 120.48 856.27 119.63 856.11 C118.77 855.95 117.86 856.08 116.98 856.08 C116.1 856.07 114.77 856.07 114.33 856.07" fill="none" stroke="#c8141e" stroke-width="0.63" opacity="0.43" stroke-linecap="round"/><path d="M154.63 832.8 C154.45 832.69 153.92 832.32 153.53 832.16 C153.14 832 152.71 831.93 152.3 831.83 C151.89 831.73 151.27 831.59 151.06 831.55" fill="none" stroke="#c8141e" stroke-width="0.66" opacity="0.34" stroke-linecap="round"/><path d="M74.23 806.57 C73.86 806.54 72.74 806.34 72.02 806.41 C71.3 806.48 70.24 806.9 69.89 807" fill="none" stroke="#c8141e" stroke-width="0.57" opacity="0.57" stroke-linecap="round"/><path d="M154.04 794.69 C154.38 794.36 155.33 793.28 156.09 792.73 C156.85 792.19 158.18 791.64 158.6 791.42" fill="none" stroke="#c8141e" stroke-width="0.44" opacity="0.58" stroke-linecap="round"/><path d="M116.55 852.79 C116.42 852.56 115.93 851.89 115.76 851.4 C115.59 850.9 115.72 850.3 115.54 849.81 C115.35 849.33 114.78 848.71 114.63 848.5" fill="none" stroke="#c8141e" stroke-width="0.52" opacity="0.28" stroke-linecap="round"/><path d="M129.07 830.2 C128.91 830.09 128.45 829.73 128.12 829.56 C127.78 829.38 127.4 829.29 127.05 829.14 C126.7 828.99 126.2 828.72 126.03 828.63" fill="none" stroke="#c8141e" stroke-width="0.68" opacity="0.32" stroke-linecap="round"/><path d="M139.05 851.63 C139.17 851.24 139.65 850.07 139.78 849.26 C139.91 848.45 139.88 847.6 139.82 846.77 C139.76 845.95 139.48 844.73 139.41 844.32" fill="none" stroke="#c8141e" stroke-width="0.46" opacity="0.41" stroke-linecap="round"/><path d="M134.51 844.76 C134.86 844.76 135.9 844.77 136.6 844.75 C137.3 844.74 138.01 844.6 138.69 844.68 C139.38 844.75 140.07 844.96 140.71 845.21 C141.36 845.46 142.26 846.02 142.57 846.18" fill="none" stroke="#c8141e" stroke-width="0.5" opacity="0.55" stroke-linecap="round"/><path d="M53.36 880.8 C53.44 880.13 53.55 878.08 53.87 876.78 C54.19 875.48 55.05 873.62 55.29 872.99" fill="none" stroke="#c8141e" stroke-width="0.86" opacity="0.57" stroke-linecap="round"/><path d="M135.75 804.2 C135.93 804.38 136.41 804.98 136.81 805.28 C137.2 805.59 137.65 805.85 138.11 806.05 C138.57 806.25 139.32 806.4 139.56 806.47" fill="none" stroke="#c8141e" stroke-width="0.74" opacity="0.25" stroke-linecap="round"/><path d="M86.16 844.56 C85.88 844.99 84.9 846.23 84.45 847.15 C83.99 848.08 83.8 849.13 83.44 850.1 C83.07 851.07 82.46 852.5 82.27 852.98" fill="none" stroke="#c8141e" stroke-width="0.64" opacity="0.24" stroke-linecap="round"/><path d="M100.53 823.54 C100.8 823.72 101.6 824.31 102.18 824.6 C102.76 824.9 103.41 825.06 104 825.33 C104.59 825.61 105.44 826.1 105.73 826.25" fill="none" stroke="#c8141e" stroke-width="0.88" opacity="0.4" stroke-linecap="round"/><path d="M131.13 810.65 C131.02 810.99 130.66 812 130.43 812.67 C130.2 813.35 130.1 814.1 129.75 814.7 C129.39 815.3 128.54 816.02 128.3 816.28" fill="none" stroke="#c8141e" stroke-width="0.76" opacity="0.37" stroke-linecap="round"/><path d="M106.07 831.09 C106.18 830.53 106.31 828.79 106.69 827.74 C107.08 826.68 107.84 825.77 108.37 824.77 C108.9 823.76 109.62 822.22 109.88 821.71" fill="none" stroke="#c8141e" stroke-width="0.84" opacity="0.26" stroke-linecap="round"/><path d="M58.91 877.51 C59.28 877.84 60.48 878.74 61.09 879.5 C61.7 880.25 62.2 881.15 62.55 882.05 C62.89 882.96 63.06 884.45 63.17 884.93" fill="none" stroke="#c8141e" stroke-width="0.71" opacity="0.41" stroke-linecap="round"/><path d="M107.95 866.11 C108.21 866.45 109.06 867.46 109.54 868.18 C110.02 868.91 110.62 870.08 110.83 870.46" fill="none" stroke="#c8141e" stroke-width="0.88" opacity="0.54" stroke-linecap="round"/><path d="M120.15 817.93 C120.48 817.83 121.47 817.48 122.14 817.33 C122.82 817.17 123.51 817.08 124.2 816.98 C124.89 816.89 125.62 816.96 126.27 816.76 C126.93 816.57 127.82 815.97 128.13 815.82" fill="none" stroke="#c8141e" stroke-width="0.48" opacity="0.25" stroke-linecap="round"/><path d="M148.03 890.56 C147.79 890.2 147.16 889.03 146.57 888.4 C145.99 887.77 145.12 887.42 144.52 886.8 C143.92 886.18 143.35 885.47 142.96 884.71 C142.58 883.95 142.33 882.63 142.21 882.22" fill="none" stroke="#c8141e" stroke-width="0.52" opacity="0.24" stroke-linecap="round"/><path d="M49.74 819.17 C49.91 819.33 50.38 819.9 50.77 820.14 C51.17 820.39 51.72 820.4 52.1 820.65 C52.49 820.91 52.69 821.44 53.08 821.69 C53.47 821.94 54.2 822.07 54.42 822.15" fill="none" stroke="#c8141e" stroke-width="0.5" opacity="0.58" stroke-linecap="round"/><path d="M84.09 850.21 C83.79 850.42 82.74 850.94 82.26 851.48 C81.78 852.01 81.67 852.88 81.19 853.43 C80.72 853.98 79.94 854.25 79.42 854.78 C78.91 855.31 78.34 856.29 78.12 856.59" fill="none" stroke="#c8141e" stroke-width="0.65" opacity="0.5" stroke-linecap="round"/><path d="M95.04 881.81 C94.81 881.45 94.02 880.43 93.67 879.67 C93.32 878.91 93.28 878 92.92 877.25 C92.55 876.5 91.72 875.51 91.48 875.16" fill="none" stroke="#c8141e" stroke-width="0.74" opacity="0.38" stroke-linecap="round"/><path d="M75.78 889.91 C75.12 890.22 73.2 891.28 71.85 891.76 C70.49 892.24 68.33 892.62 67.63 892.79" fill="none" stroke="#c8141e" stroke-width="0.69" opacity="0.54" stroke-linecap="round"/><path d="M84.89 892.28 C84.42 891.96 82.85 891.13 82.02 890.35 C81.2 889.57 80.27 888.06 79.92 887.6" fill="none" stroke="#c8141e" stroke-width="0.5" opacity="0.23" stroke-linecap="round"/><path d="M60.12 814.63 C60.22 814.93 60.37 815.89 60.67 816.42 C60.98 816.95 61.48 817.37 61.94 817.8 C62.39 818.23 63.14 818.78 63.39 818.98" fill="none" stroke="#c8141e" stroke-width="0.4" opacity="0.52" stroke-linecap="round"/><path d="M137.96 886.11 C138.1 886.37 138.55 887.11 138.8 887.63 C139.05 888.15 139.19 888.73 139.48 889.23 C139.77 889.72 140.15 890.18 140.55 890.59 C140.95 891 141.68 891.49 141.91 891.67" fill="none" stroke="#c8141e" stroke-width="0.38" opacity="0.58" stroke-linecap="round"/><path d="M129.42 890.97 C128.98 891.3 127.67 892.33 126.78 892.98 C125.89 893.64 124.53 894.59 124.08 894.92" fill="none" stroke="#c8141e" stroke-width="0.8" opacity="0.52" stroke-linecap="round"/><path d="M155.52 889.31 C155.3 889.83 154.55 891.33 154.17 892.38 C153.78 893.43 153.65 894.57 153.22 895.6 C152.8 896.62 151.88 898.05 151.62 898.54" fill="none" stroke="#c8141e" stroke-width="0.68" opacity="0.37" stroke-linecap="round"/><path d="M145.23 813.86 C145.46 814.4 146.44 815.96 146.63 817.07 C146.82 818.19 146.62 819.45 146.35 820.57 C146.09 821.7 145.26 823.28 145.04 823.82" fill="none" stroke="#c8141e" stroke-width="0.71" opacity="0.39" stroke-linecap="round"/><path d="M156.26 804.42 C156.41 804.6 156.96 805.12 157.16 805.54 C157.36 805.96 157.41 806.47 157.46 806.95 C157.51 807.42 157.56 807.92 157.48 808.39 C157.4 808.85 157.06 809.51 156.98 809.74" fill="none" stroke="#c8141e" stroke-width="0.55" opacity="0.26" stroke-linecap="round"/></g>
<path d="M106.8 786.6 C104.68 788.37 98.68 793.48 94.1 797.2 C89.52 800.92 83.53 805.9 79.3 808.9 C75.07 811.9 70.47 814.15 68.7 815.2" fill="none" stroke="#d0141e" stroke-width="1" opacity="0.95" stroke-linecap="round" filter="url(#mb)"/>
<path d="M94.1 797.2 C95.17 798.27 99.43 802.53 100.5 803.6" fill="none" stroke="#d0141e" stroke-width="0.7" opacity="0.95" stroke-linecap="round" filter="url(#mb)"/>
<path d="M58.1 835.3 C58.82 835.83 60.82 837.62 62.4 838.5 C63.98 839.38 66.73 840.25 67.6 840.6" fill="none" stroke="#d0141e" stroke-width="0.9" opacity="0.95" stroke-linecap="round" filter="url(#mb)"/>
<path d="M78.2 850.1 C78.98 849.58 82.12 847.52 82.9 847" fill="none" stroke="#e0602a" stroke-width="1.6" opacity="0.95" stroke-linecap="round" filter="url(#mb)"/>
<path d="M78.2 850.1 C78.98 849.58 82.12 847.52 82.9 847" fill="none" stroke="#f0d040" stroke-width="0.8" opacity="0.95" stroke-linecap="round" filter="url(#mb)"/>
<path d="M113.2 832.1 C113.97 831.15 117.03 827.35 117.8 826.4" fill="none" stroke="#e0602a" stroke-width="1.2" opacity="0.95" stroke-linecap="round" filter="url(#mb)"/>
<path d="M113.2 832.1 C113.97 831.15 117.03 827.35 117.8 826.4" fill="none" stroke="#f0d040" stroke-width="0.6" opacity="0.95" stroke-linecap="round" filter="url(#mb)"/>
<path d="M107.9 866.7 C108.33 866.77 110.07 867.03 110.5 867.1" fill="none" stroke="#e0602a" stroke-width="1.2" opacity="0.95" stroke-linecap="round" filter="url(#mb)"/>
<path d="M107.9 866.7 C108.33 866.77 110.07 867.03 110.5 867.1" fill="none" stroke="#f0d040" stroke-width="0.6" opacity="0.95" stroke-linecap="round" filter="url(#mb)"/>
<path d="M61.3 873.9 C61.55 874.03 62.55 874.57 62.8 874.7" fill="none" stroke="#e0602a" stroke-width="1.1" opacity="0.95" stroke-linecap="round" filter="url(#mb)"/>
<path d="M61.3 873.9 C61.55 874.03 62.55 874.57 62.8 874.7" fill="none" stroke="#f0d040" stroke-width="0.55" opacity="0.95" stroke-linecap="round" filter="url(#mb)"/>
<path d="M138.5 816.1 C138.25 817.77 137.52 822.6 137 826.1 C136.48 829.6 135.67 835.27 135.4 837.1" fill="none" stroke="#d0141e" stroke-width="0.8" opacity="0.95" stroke-linecap="round" filter="url(#mb)"/>
<path d="M147 812.1 C146.75 813.43 146.03 817.27 145.5 820.1 C144.97 822.93 144.08 827.6 143.8 829.1" fill="none" stroke="#d0141e" stroke-width="0.8" opacity="0.95" stroke-linecap="round" filter="url(#mb)"/>
<path d="M154.5 795.1 C154.67 797.22 155.33 805.68 155.5 807.8" fill="none" stroke="#d0141e" stroke-width="0.8" opacity="0.95" stroke-linecap="round" filter="url(#mb)"/>
<path d="M151.3 824.7 C152.35 825.23 156.55 827.37 157.6 827.9" fill="none" stroke="#d0141e" stroke-width="0.8" opacity="0.95" stroke-linecap="round" filter="url(#mb)"/>
<path d="M152.3 837.4 C153 838.47 155.8 842.73 156.5 843.8" fill="none" stroke="#d0141e" stroke-width="0.8" opacity="0.95" stroke-linecap="round" filter="url(#mb)"/>
<path d="M123.7 867.1 C124.42 866.22 126.58 862.87 128 861.8 C129.42 860.73 131.5 860.88 132.2 860.7" fill="none" stroke="#d0141e" stroke-width="0.9" opacity="0.95" stroke-linecap="round" filter="url(#mb)"/>
<path d="M140.7 875.5 C141.75 876.22 144.53 878.92 147 879.8 C149.47 880.68 154.08 880.63 155.5 880.8" fill="none" stroke="#d0141e" stroke-width="0.9" opacity="0.95" stroke-linecap="round" filter="url(#mb)"/>
<path d="M77.2 878.7 C78.25 879.58 82.45 883.12 83.5 884" fill="none" stroke="#d0141e" stroke-width="0.8" opacity="0.95" stroke-linecap="round" filter="url(#mb)"/>
<path d="M90.9 836.4 C91.62 835.87 94.48 833.73 95.2 833.2" fill="none" stroke="#d0141e" stroke-width="0.9" opacity="0.95" stroke-linecap="round" filter="url(#mb)"/>
</g>
<g clip-path="url(#cn1)">
<clipPath id="cn1"><rect x="160.4" y="784.1" width="112.5" height="109"/></clipPath>
<path d="M193.6 850.1 C194.38 849.58 197.52 847.52 198.3 847" fill="none" stroke="#2fce5a" stroke-width="1.12" opacity="0.95" stroke-linecap="round" filter="url(#mb)"/>
<path d="M228.6 832.1 C229.37 831.15 232.43 827.35 233.2 826.4" fill="none" stroke="#2fce5a" stroke-width="0.84" opacity="0.95" stroke-linecap="round" filter="url(#mb)"/>
<path d="M223.3 866.7 C223.73 866.77 225.47 867.03 225.9 867.1" fill="none" stroke="#2fce5a" stroke-width="0.84" opacity="0.95" stroke-linecap="round" filter="url(#mb)"/>
<path d="M176.7 873.9 C176.95 874.03 177.95 874.57 178.2 874.7" fill="none" stroke="#2fce5a" stroke-width="0.77" opacity="0.95" stroke-linecap="round" filter="url(#mb)"/>
</g>
<g clip-path="url(#cn2)">
<clipPath id="cn2"><rect x="274" y="784.1" width="113.6" height="109"/></clipPath>
<rect x="274" y="784.1" width="113.6" height="109" fill="#0a0001" />
<rect x="274" y="784.1" width="113.6" height="109" fill="#000" filter="url(#mn)" opacity="0.34"/>
<g filter="url(#mb)"><path d="M359.1 854.38 C359.37 855.03 360.42 856.91 360.73 858.26 C361.04 859.6 360.9 861.76 360.93 862.46" fill="none" stroke="#c8141e" stroke-width="0.37" opacity="0.41" stroke-linecap="round"/><path d="M369.35 841.1 C369.2 841.27 368.8 841.83 368.46 842.11 C368.11 842.38 367.69 842.58 367.29 842.77 C366.88 842.96 366.24 843.16 366.03 843.24" fill="none" stroke="#c8141e" stroke-width="0.64" opacity="0.5" stroke-linecap="round"/><path d="M323.79 879.36 C324.65 879.5 327.29 879.7 328.94 880.21 C330.59 880.72 332.88 882.05 333.67 882.42" fill="none" stroke="#c8141e" stroke-width="0.37" opacity="0.31" stroke-linecap="round"/><path d="M293.69 883.83 C293.87 883.93 294.46 884.14 294.74 884.4 C295.03 884.66 295.15 885.09 295.4 885.39 C295.65 885.7 295.98 885.94 296.24 886.24 C296.5 886.54 296.83 887.04 296.94 887.2" fill="none" stroke="#c8141e" stroke-width="0.46" opacity="0.33" stroke-linecap="round"/><path d="M370.41 892.83 C370.18 893.01 369.47 893.51 369.03 893.89 C368.6 894.26 367.99 894.88 367.78 895.08" fill="none" stroke="#c8141e" stroke-width="0.77" opacity="0.35" stroke-linecap="round"/><path d="M372.76 796.21 C372.64 796.3 372.26 796.56 372.03 796.75 C371.79 796.94 371.62 797.22 371.36 797.37 C371.1 797.51 370.75 797.47 370.48 797.61 C370.21 797.74 369.88 798.07 369.76 798.17" fill="none" stroke="#c8141e" stroke-width="0.86" opacity="0.28" stroke-linecap="round"/><path d="M288.89 790.04 C288.55 790.34 287.39 791.14 286.83 791.84 C286.27 792.54 285.97 793.44 285.54 794.25 C285.11 795.05 284.47 796.25 284.25 796.66" fill="none" stroke="#c8141e" stroke-width="0.45" opacity="0.52" stroke-linecap="round"/><path d="M370.07 793.64 C369.81 793.79 368.99 794.19 368.53 794.56 C368.08 794.94 367.73 795.45 367.33 795.9 C366.94 796.35 366.44 796.75 366.18 797.27 C365.91 797.79 365.82 798.72 365.75 799.01" fill="none" stroke="#c8141e" stroke-width="0.65" opacity="0.5" stroke-linecap="round"/><path d="M329.65 869.7 C329.44 869.51 328.84 868.89 328.38 868.59 C327.91 868.28 327.36 868.1 326.85 867.87 C326.33 867.64 325.77 867.49 325.29 867.2 C324.82 866.9 324.21 866.29 324 866.11" fill="none" stroke="#c8141e" stroke-width="0.4" opacity="0.29" stroke-linecap="round"/><path d="M278.72 889.45 C278.56 889.75 278.13 890.66 277.77 891.22 C277.42 891.78 277.07 892.4 276.59 892.84 C276.11 893.28 275.42 893.5 274.87 893.87 C274.32 894.24 273.54 894.88 273.27 895.08" fill="none" stroke="#c8141e" stroke-width="0.82" opacity="0.57" stroke-linecap="round"/><path d="M308.6 811.33 C308.25 811.23 307.19 810.89 306.46 810.73 C305.74 810.58 305 810.53 304.27 810.39 C303.54 810.26 302.83 810 302.1 809.93 C301.37 809.87 300.25 810.01 299.88 810.02" fill="none" stroke="#c8141e" stroke-width="0.88" opacity="0.45" stroke-linecap="round"/><path d="M379.93 860.39 C380.08 860.09 380.64 859.25 380.83 858.62 C381.02 858 380.84 857.26 381.07 856.66 C381.29 856.06 381.98 855.28 382.16 855.01" fill="none" stroke="#c8141e" stroke-width="0.77" opacity="0.29" stroke-linecap="round"/><path d="M326.75 821.34 C326.61 820.97 326.13 819.88 325.92 819.13 C325.72 818.37 325.58 817.19 325.51 816.8" fill="none" stroke="#c8141e" stroke-width="0.7" opacity="0.29" stroke-linecap="round"/><path d="M364.48 815.59 C364.66 815.43 365.26 815.04 365.52 814.68 C365.78 814.31 365.79 813.78 366.04 813.4 C366.28 813.03 366.82 812.57 366.98 812.4" fill="none" stroke="#c8141e" stroke-width="0.73" opacity="0.34" stroke-linecap="round"/><path d="M339.09 826.22 C338.21 826.11 335.57 825.55 333.81 825.53 C332.05 825.5 329.39 825.99 328.51 826.08" fill="none" stroke="#c8141e" stroke-width="0.58" opacity="0.28" stroke-linecap="round"/><path d="M324.3 852.81 C324.3 852.95 324.3 853.35 324.26 853.61 C324.22 853.87 324.17 854.14 324.05 854.37 C323.93 854.6 323.72 854.78 323.55 854.99 C323.38 855.19 323.11 855.48 323.02 855.58" fill="none" stroke="#c8141e" stroke-width="0.54" opacity="0.49" stroke-linecap="round"/><path d="M377.2 841.32 C376.79 841.09 375.6 840.29 374.75 839.91 C373.89 839.53 372.5 839.19 372.05 839.04" fill="none" stroke="#c8141e" stroke-width="0.79" opacity="0.44" stroke-linecap="round"/><path d="M360.59 823.75 C360.48 823.93 360.2 824.53 359.94 824.87 C359.68 825.21 359.32 825.47 359.04 825.8 C358.76 826.12 358.56 826.52 358.27 826.84 C357.97 827.15 357.45 827.54 357.29 827.68" fill="none" stroke="#c8141e" stroke-width="0.87" opacity="0.53" stroke-linecap="round"/><path d="M293.52 788.85 C293.2 788.38 291.97 787.07 291.56 786.03 C291.16 784.99 291.18 783.19 291.1 782.62" fill="none" stroke="#c8141e" stroke-width="0.89" opacity="0.25" stroke-linecap="round"/><path d="M309.17 821.55 C309.44 821.28 310.17 820.32 310.8 819.89 C311.43 819.47 312.21 819.22 312.95 819 C313.7 818.79 314.55 818.89 315.25 818.6 C315.95 818.31 316.84 817.49 317.16 817.26" fill="none" stroke="#c8141e" stroke-width="0.54" opacity="0.38" stroke-linecap="round"/><path d="M275.85 800.63 C275.58 800.15 274.77 798.72 274.26 797.75 C273.76 796.77 273.24 795.8 272.82 794.79 C272.4 793.78 271.92 792.2 271.74 791.68" fill="none" stroke="#c8141e" stroke-width="0.71" opacity="0.33" stroke-linecap="round"/><path d="M327.97 798.8 C327.48 799.54 326.24 801.98 325.05 803.26 C323.86 804.54 321.52 805.95 320.82 806.49" fill="none" stroke="#c8141e" stroke-width="0.59" opacity="0.57" stroke-linecap="round"/><path d="M384.57 883.47 C384.22 883.39 383.2 883.02 382.5 882.99 C381.81 882.97 380.76 883.25 380.41 883.3" fill="none" stroke="#c8141e" stroke-width="0.77" opacity="0.27" stroke-linecap="round"/><path d="M372.13 866.92 C372.26 866.67 372.59 865.9 372.88 865.42 C373.17 864.94 373.7 864.28 373.86 864.06" fill="none" stroke="#c8141e" stroke-width="0.88" opacity="0.35" stroke-linecap="round"/><path d="M281.37 879.27 C281.89 879.19 283.48 879.08 284.48 878.79 C285.48 878.49 286.37 877.8 287.37 877.51 C288.37 877.22 289.97 877.13 290.49 877.05" fill="none" stroke="#c8141e" stroke-width="0.43" opacity="0.41" stroke-linecap="round"/><path d="M319.65 802.49 C320.1 801.99 321.51 800.54 322.31 799.47 C323.12 798.4 324.14 796.65 324.5 796.08" fill="none" stroke="#c8141e" stroke-width="0.52" opacity="0.36" stroke-linecap="round"/><path d="M384.4 884.7 C384.99 885.09 386.77 886.22 387.93 887.02 C389.09 887.83 390.77 889.11 391.34 889.53" fill="none" stroke="#c8141e" stroke-width="0.59" opacity="0.23" stroke-linecap="round"/><path d="M334.98 816.3 C334.58 816.03 333.33 815.24 332.56 814.65 C331.78 814.06 330.7 813.07 330.33 812.75" fill="none" stroke="#c8141e" stroke-width="0.56" opacity="0.27" stroke-linecap="round"/><path d="M326.78 817.89 C326.58 817.83 325.96 817.56 325.53 817.52 C325.1 817.48 324.64 817.53 324.23 817.65 C323.81 817.76 323.25 818.13 323.05 818.22" fill="none" stroke="#c8141e" stroke-width="0.86" opacity="0.28" stroke-linecap="round"/><path d="M316.8 826.14 C316.46 826.37 315.52 827.2 314.79 827.53 C314.06 827.86 313.2 827.88 312.42 828.11 C311.64 828.34 310.77 828.46 310.1 828.89 C309.44 829.31 308.7 830.36 308.42 830.65" fill="none" stroke="#c8141e" stroke-width="0.73" opacity="0.29" stroke-linecap="round"/><path d="M354.12 796.62 C354.76 796.7 356.72 796.79 357.94 797.13 C359.17 797.48 360.89 798.43 361.48 798.68" fill="none" stroke="#c8141e" stroke-width="0.87" opacity="0.54" stroke-linecap="round"/><path d="M345.89 867.38 C346.2 867.93 347.15 869.56 347.7 870.68 C348.25 871.81 348.94 873.56 349.19 874.14" fill="none" stroke="#c8141e" stroke-width="0.74" opacity="0.43" stroke-linecap="round"/><path d="M321.85 878.8 C321.66 878.76 321.08 878.59 320.69 878.55 C320.3 878.51 319.9 878.57 319.51 878.59 C319.11 878.6 318.72 878.64 318.32 878.65 C317.93 878.66 317.33 878.66 317.14 878.66" fill="none" stroke="#c8141e" stroke-width="0.61" opacity="0.23" stroke-linecap="round"/><path d="M351.11 857.03 C350.7 856.88 349.48 856.27 348.63 856.11 C347.77 855.95 346.86 856.08 345.98 856.08 C345.1 856.07 343.77 856.07 343.33 856.07" fill="none" stroke="#c8141e" stroke-width="0.63" opacity="0.43" stroke-linecap="round"/><path d="M383.63 832.8 C383.45 832.69 382.92 832.32 382.53 832.16 C382.14 832 381.71 831.93 381.3 831.83 C380.89 831.73 380.27 831.59 380.06 831.55" fill="none" stroke="#c8141e" stroke-width="0.66" opacity="0.34" stroke-linecap="round"/><path d="M303.23 806.57 C302.86 806.54 301.74 806.34 301.02 806.41 C300.3 806.48 299.24 806.9 298.89 807" fill="none" stroke="#c8141e" stroke-width="0.57" opacity="0.57" stroke-linecap="round"/><path d="M383.04 794.69 C383.38 794.36 384.33 793.28 385.09 792.73 C385.85 792.19 387.18 791.64 387.6 791.42" fill="none" stroke="#c8141e" stroke-width="0.44" opacity="0.58" stroke-linecap="round"/><path d="M345.55 852.79 C345.42 852.56 344.93 851.89 344.76 851.4 C344.59 850.9 344.72 850.3 344.54 849.81 C344.35 849.33 343.78 848.71 343.63 848.5" fill="none" stroke="#c8141e" stroke-width="0.52" opacity="0.28" stroke-linecap="round"/><path d="M358.07 830.2 C357.91 830.09 357.45 829.73 357.12 829.56 C356.78 829.38 356.4 829.29 356.05 829.14 C355.7 828.99 355.2 828.72 355.03 828.63" fill="none" stroke="#c8141e" stroke-width="0.68" opacity="0.32" stroke-linecap="round"/><path d="M368.05 851.63 C368.17 851.24 368.65 850.07 368.78 849.26 C368.91 848.45 368.88 847.6 368.82 846.77 C368.76 845.95 368.48 844.73 368.41 844.32" fill="none" stroke="#c8141e" stroke-width="0.46" opacity="0.41" stroke-linecap="round"/><path d="M363.51 844.76 C363.86 844.76 364.9 844.77 365.6 844.75 C366.3 844.74 367.01 844.6 367.69 844.68 C368.38 844.75 369.07 844.96 369.71 845.21 C370.36 845.46 371.26 846.02 371.57 846.18" fill="none" stroke="#c8141e" stroke-width="0.5" opacity="0.55" stroke-linecap="round"/><path d="M282.36 880.8 C282.44 880.13 282.55 878.08 282.87 876.78 C283.19 875.48 284.05 873.62 284.29 872.99" fill="none" stroke="#c8141e" stroke-width="0.86" opacity="0.57" stroke-linecap="round"/><path d="M364.75 804.2 C364.93 804.38 365.41 804.98 365.81 805.28 C366.2 805.59 366.65 805.85 367.11 806.05 C367.57 806.25 368.32 806.4 368.56 806.47" fill="none" stroke="#c8141e" stroke-width="0.74" opacity="0.25" stroke-linecap="round"/><path d="M315.16 844.56 C314.88 844.99 313.9 846.23 313.45 847.15 C312.99 848.08 312.8 849.13 312.44 850.1 C312.07 851.07 311.46 852.5 311.27 852.98" fill="none" stroke="#c8141e" stroke-width="0.64" opacity="0.24" stroke-linecap="round"/><path d="M329.53 823.54 C329.8 823.72 330.6 824.31 331.18 824.6 C331.76 824.9 332.41 825.06 333 825.33 C333.59 825.61 334.44 826.1 334.73 826.25" fill="none" stroke="#c8141e" stroke-width="0.88" opacity="0.4" stroke-linecap="round"/><path d="M360.13 810.65 C360.02 810.99 359.66 812 359.43 812.67 C359.2 813.35 359.1 814.1 358.75 814.7 C358.39 815.3 357.54 816.02 357.3 816.28" fill="none" stroke="#c8141e" stroke-width="0.76" opacity="0.37" stroke-linecap="round"/><path d="M335.07 831.09 C335.18 830.53 335.31 828.79 335.69 827.74 C336.08 826.68 336.84 825.77 337.37 824.77 C337.9 823.76 338.62 822.22 338.88 821.71" fill="none" stroke="#c8141e" stroke-width="0.84" opacity="0.26" stroke-linecap="round"/><path d="M287.91 877.51 C288.28 877.84 289.48 878.74 290.09 879.5 C290.7 880.25 291.2 881.15 291.55 882.05 C291.89 882.96 292.06 884.45 292.17 884.93" fill="none" stroke="#c8141e" stroke-width="0.71" opacity="0.41" stroke-linecap="round"/><path d="M336.95 866.11 C337.21 866.45 338.06 867.46 338.54 868.18 C339.02 868.91 339.62 870.08 339.83 870.46" fill="none" stroke="#c8141e" stroke-width="0.88" opacity="0.54" stroke-linecap="round"/><path d="M349.15 817.93 C349.48 817.83 350.47 817.48 351.14 817.33 C351.82 817.17 352.51 817.08 353.2 816.98 C353.89 816.89 354.62 816.96 355.27 816.76 C355.93 816.57 356.82 815.97 357.13 815.82" fill="none" stroke="#c8141e" stroke-width="0.48" opacity="0.25" stroke-linecap="round"/><path d="M377.03 890.56 C376.79 890.2 376.16 889.03 375.57 888.4 C374.99 887.77 374.12 887.42 373.52 886.8 C372.92 886.18 372.35 885.47 371.96 884.71 C371.58 883.95 371.33 882.63 371.21 882.22" fill="none" stroke="#c8141e" stroke-width="0.52" opacity="0.24" stroke-linecap="round"/><path d="M278.74 819.17 C278.91 819.33 279.38 819.9 279.77 820.14 C280.17 820.39 280.72 820.4 281.1 820.65 C281.49 820.91 281.69 821.44 282.08 821.69 C282.47 821.94 283.2 822.07 283.42 822.15" fill="none" stroke="#c8141e" stroke-width="0.5" opacity="0.58" stroke-linecap="round"/><path d="M313.09 850.21 C312.79 850.42 311.74 850.94 311.26 851.48 C310.78 852.01 310.67 852.88 310.19 853.43 C309.72 853.98 308.94 854.25 308.42 854.78 C307.91 855.31 307.34 856.29 307.12 856.59" fill="none" stroke="#c8141e" stroke-width="0.65" opacity="0.5" stroke-linecap="round"/><path d="M324.04 881.81 C323.81 881.45 323.02 880.43 322.67 879.67 C322.32 878.91 322.28 878 321.92 877.25 C321.55 876.5 320.72 875.51 320.48 875.16" fill="none" stroke="#c8141e" stroke-width="0.74" opacity="0.38" stroke-linecap="round"/><path d="M304.78 889.91 C304.12 890.22 302.2 891.28 300.85 891.76 C299.49 892.24 297.33 892.62 296.63 892.79" fill="none" stroke="#c8141e" stroke-width="0.69" opacity="0.54" stroke-linecap="round"/><path d="M313.89 892.28 C313.42 891.96 311.85 891.13 311.02 890.35 C310.2 889.57 309.27 888.06 308.92 887.6" fill="none" stroke="#c8141e" stroke-width="0.5" opacity="0.23" stroke-linecap="round"/><path d="M289.12 814.63 C289.22 814.93 289.37 815.89 289.67 816.42 C289.98 816.95 290.48 817.37 290.94 817.8 C291.39 818.23 292.14 818.78 292.39 818.98" fill="none" stroke="#c8141e" stroke-width="0.4" opacity="0.52" stroke-linecap="round"/><path d="M366.96 886.11 C367.1 886.37 367.55 887.11 367.8 887.63 C368.05 888.15 368.19 888.73 368.48 889.23 C368.77 889.72 369.15 890.18 369.55 890.59 C369.95 891 370.68 891.49 370.91 891.67" fill="none" stroke="#c8141e" stroke-width="0.38" opacity="0.58" stroke-linecap="round"/><path d="M358.42 890.97 C357.98 891.3 356.67 892.33 355.78 892.98 C354.89 893.64 353.53 894.59 353.08 894.92" fill="none" stroke="#c8141e" stroke-width="0.8" opacity="0.52" stroke-linecap="round"/><path d="M384.52 889.31 C384.3 889.83 383.55 891.33 383.17 892.38 C382.78 893.43 382.65 894.57 382.22 895.6 C381.8 896.62 380.88 898.05 380.62 898.54" fill="none" stroke="#c8141e" stroke-width="0.68" opacity="0.37" stroke-linecap="round"/><path d="M374.23 813.86 C374.46 814.4 375.44 815.96 375.63 817.07 C375.82 818.19 375.62 819.45 375.35 820.57 C375.09 821.7 374.26 823.28 374.04 823.82" fill="none" stroke="#c8141e" stroke-width="0.71" opacity="0.39" stroke-linecap="round"/><path d="M385.26 804.42 C385.41 804.6 385.96 805.12 386.16 805.54 C386.36 805.96 386.41 806.47 386.46 806.95 C386.51 807.42 386.56 807.92 386.48 808.39 C386.4 808.85 386.06 809.51 385.98 809.74" fill="none" stroke="#c8141e" stroke-width="0.55" opacity="0.26" stroke-linecap="round"/></g>
<path d="M335.8 786.6 C333.68 788.37 327.68 793.48 323.1 797.2 C318.52 800.92 312.53 805.9 308.3 808.9 C304.07 811.9 299.47 814.15 297.7 815.2" fill="none" stroke="#e0202c" stroke-width="1" opacity="0.95" stroke-linecap="round" filter="url(#mb)"/>
<path d="M323.1 797.2 C324.17 798.27 328.43 802.53 329.5 803.6" fill="none" stroke="#e0202c" stroke-width="0.7" opacity="0.95" stroke-linecap="round" filter="url(#mb)"/>
<path d="M287.1 835.3 C287.82 835.83 289.82 837.62 291.4 838.5 C292.98 839.38 295.73 840.25 296.6 840.6" fill="none" stroke="#e0202c" stroke-width="0.9" opacity="0.95" stroke-linecap="round" filter="url(#mb)"/>
<path d="M307.2 850.1 C307.98 849.58 311.12 847.52 311.9 847" fill="none" stroke="#e0202c" stroke-width="1.6" opacity="0.95" stroke-linecap="round" filter="url(#mb)"/>
<path d="M342.2 832.1 C342.97 831.15 346.03 827.35 346.8 826.4" fill="none" stroke="#e0202c" stroke-width="1.2" opacity="0.95" stroke-linecap="round" filter="url(#mb)"/>
<path d="M336.9 866.7 C337.33 866.77 339.07 867.03 339.5 867.1" fill="none" stroke="#e0202c" stroke-width="1.2" opacity="0.95" stroke-linecap="round" filter="url(#mb)"/>
<path d="M290.3 873.9 C290.55 874.03 291.55 874.57 291.8 874.7" fill="none" stroke="#e0202c" stroke-width="1.1" opacity="0.95" stroke-linecap="round" filter="url(#mb)"/>
<path d="M367.5 816.1 C367.25 817.77 366.52 822.6 366 826.1 C365.48 829.6 364.67 835.27 364.4 837.1" fill="none" stroke="#e0202c" stroke-width="0.8" opacity="0.95" stroke-linecap="round" filter="url(#mb)"/>
<path d="M376 812.1 C375.75 813.43 375.03 817.27 374.5 820.1 C373.97 822.93 373.08 827.6 372.8 829.1" fill="none" stroke="#e0202c" stroke-width="0.8" opacity="0.95" stroke-linecap="round" filter="url(#mb)"/>
<path d="M383.5 795.1 C383.67 797.22 384.33 805.68 384.5 807.8" fill="none" stroke="#e0202c" stroke-width="0.8" opacity="0.95" stroke-linecap="round" filter="url(#mb)"/>
<path d="M380.3 824.7 C381.35 825.23 385.55 827.37 386.6 827.9" fill="none" stroke="#e0202c" stroke-width="0.8" opacity="0.95" stroke-linecap="round" filter="url(#mb)"/>
<path d="M381.3 837.4 C382 838.47 384.8 842.73 385.5 843.8" fill="none" stroke="#e0202c" stroke-width="0.8" opacity="0.95" stroke-linecap="round" filter="url(#mb)"/>
<path d="M352.7 867.1 C353.42 866.22 355.58 862.87 357 861.8 C358.42 860.73 360.5 860.88 361.2 860.7" fill="none" stroke="#e0202c" stroke-width="0.9" opacity="0.95" stroke-linecap="round" filter="url(#mb)"/>
<path d="M369.7 875.5 C370.75 876.22 373.53 878.92 376 879.8 C378.47 880.68 383.08 880.63 384.5 880.8" fill="none" stroke="#e0202c" stroke-width="0.9" opacity="0.95" stroke-linecap="round" filter="url(#mb)"/>
<path d="M306.2 878.7 C307.25 879.58 311.45 883.12 312.5 884" fill="none" stroke="#e0202c" stroke-width="0.8" opacity="0.95" stroke-linecap="round" filter="url(#mb)"/>
<path d="M319.9 836.4 C320.62 835.87 323.48 833.73 324.2 833.2" fill="none" stroke="#e0202c" stroke-width="0.9" opacity="0.95" stroke-linecap="round" filter="url(#mb)"/>
</g>
<text x="50.7" y="682.8" font-size="7.6" fill="#fff" >Merged</text>
<text x="164.8" y="682.6" font-size="7.6" fill="#2f9e48" >mOC31</text>
<text x="281.1" y="682.6" font-size="7.6" fill="#d8202c" >CD31</text>
<text x="50.7" y="794.9" font-size="7.6" fill="#fff" >Merged</text>
<text x="162.7" y="795" font-size="7.6" fill="#2f9e48" >mOC31</text>
<text x="279.4" y="795" font-size="7.6" fill="#d8202c" >CD31</text>
<rect x="51.1" y="774.9" width="25" height="3.4" fill="#fff" />
<text x="80.3" y="779.4" font-size="7.8" fill="#fff" >100 µm</text>
<rect x="167.3" y="774.1" width="24.5" height="3.4" fill="#fff" />
<text x="196.3" y="778.6" font-size="7.8" fill="#fff" >100 µm</text>
<rect x="282.9" y="774.1" width="24.5" height="3.4" fill="#fff" />
<text x="311.6" y="778.6" font-size="7.8" fill="#fff" >100 µm</text>
<rect x="50.3" y="884.5" width="24.3" height="3.4" fill="#fff" />
<text x="76.3" y="889" font-size="7.8" fill="#fff" >100 µm</text>
<rect x="162.7" y="884.1" width="24.5" height="3.4" fill="#fff" />
<text x="190" y="888.6" font-size="7.8" fill="#fff" >100 µm</text>
<rect x="278.3" y="884.1" width="24.6" height="3.4" fill="#fff" />
<text x="306.7" y="888.6" font-size="7.8" fill="#fff" >100 µm</text>
<text transform="translate(417.5 686.2) scale(1.06 1)" font-size="13.2" font-weight="bold" fill="#111">n</text>
<line x1="449.5" y1="682" x2="449.5" y2="854.2" stroke="#9a9a9a" stroke-width="0.8" />
<line x1="449.5" y1="854.2" x2="597.3" y2="854.2" stroke="#9a9a9a" stroke-width="0.8" />
<line x1="446.2" y1="682" x2="449.5" y2="682" stroke="#9a9a9a" stroke-width="0.8" />
<text x="442.5" y="684.7" font-size="7.4" fill="#3a3a3a" text-anchor="end" >3.0</text>
<line x1="446.2" y1="739.4" x2="449.5" y2="739.4" stroke="#9a9a9a" stroke-width="0.8" />
<text x="442.5" y="742.1" font-size="7.4" fill="#3a3a3a" text-anchor="end" >2.0</text>
<line x1="446.2" y1="796.8" x2="449.5" y2="796.8" stroke="#9a9a9a" stroke-width="0.8" />
<text x="442.5" y="799.5" font-size="7.4" fill="#3a3a3a" text-anchor="end" >1.0</text>
<line x1="446.2" y1="854.2" x2="449.5" y2="854.2" stroke="#9a9a9a" stroke-width="0.8" />
<text x="442.5" y="856.9" font-size="7.4" fill="#3a3a3a" text-anchor="end" >0</text>
<line x1="478.7" y1="854.2" x2="478.7" y2="857" stroke="#9a9a9a" stroke-width="0.8" />
<line x1="523.1" y1="854.2" x2="523.1" y2="857" stroke="#9a9a9a" stroke-width="0.8" />
<line x1="567.3" y1="854.2" x2="567.3" y2="857" stroke="#9a9a9a" stroke-width="0.8" />
<text x="424.2" y="769" font-size="8" fill="#3a3a3a" text-anchor="middle" transform="rotate(-90 424.2 769)" >CAA<tspan dy="-2.6" font-size="60%">+</tspan><tspan dy="2.6" dx="0.5"> vessels</tspan></text>
<line x1="479.07" y1="826.02" x2="479.07" y2="854.22" stroke="#555" stroke-width="0.65" />
<line x1="472.07" y1="826.02" x2="486.07" y2="826.02" stroke="#555" stroke-width="0.65" />
<rect x="464.46" y="840.24" width="29.21" height="13.98" fill="#e8757c" stroke="#73262c" stroke-width="0.5" />
<polygon points="479.19,822.82 476.15,828.41 482.23,828.41" fill="#ee4f59" stroke="#7d1320" stroke-width="0.5"/>
<circle cx="476.2" cy="840.24" r="2.6" fill="#ee4f59" stroke="#7d1320" stroke-width="0.5" />
<polygon points="481.94,837.55 478.9,843.14 484.98,843.14" fill="#ee4f59" stroke="#7d1320" stroke-width="0.5"/>
<circle cx="466.96" cy="854.22" r="2.6" fill="#ee4f59" stroke="#7d1320" stroke-width="0.5" />
<circle cx="472.95" cy="854.22" r="2.6" fill="#ee4f59" stroke="#7d1320" stroke-width="0.5" />
<polygon points="479.19,851.52 476.15,857.12 482.23,857.12" fill="#ee4f59" stroke="#7d1320" stroke-width="0.5"/>
<polygon points="484.93,851.52 481.89,857.12 487.97,857.12" fill="#ee4f59" stroke="#7d1320" stroke-width="0.5"/>
<circle cx="491.17" cy="854.22" r="2.6" fill="#ee4f59" stroke="#7d1320" stroke-width="0.5" />
<line x1="523.5" y1="705.7" x2="523.5" y2="854.22" stroke="#555" stroke-width="0.65" />
<line x1="518" y1="705.7" x2="529" y2="705.7" stroke="#555" stroke-width="0.65" />
<rect x="509.15" y="754.37" width="28.71" height="76.64" fill="#ec5157" stroke="#73262c" stroke-width="0.5" />
<line x1="509.15" y1="785.33" x2="537.85" y2="785.33" stroke="#73262c" stroke-width="0.8" />
<polygon points="523.13,702.5 520.09,708.09 526.16,708.09" fill="#a81627" stroke="#5e0d16" stroke-width="0.5"/>
<polygon points="523.13,748.43 520.09,754.03 526.16,754.03" fill="#a81627" stroke="#5e0d16" stroke-width="0.5"/>
<polygon points="523.13,759.66 520.09,765.26 526.16,765.26" fill="#a81627" stroke="#5e0d16" stroke-width="0.5"/>
<circle cx="523.13" cy="774.09" r="2.6" fill="#a81627" stroke="#5e0d16" stroke-width="0.5" />
<circle cx="517.88" cy="797.06" r="2.6" fill="#a81627" stroke="#5e0d16" stroke-width="0.5" />
<circle cx="529.12" cy="797.06" r="2.6" fill="#a81627" stroke="#5e0d16" stroke-width="0.5" />
<polygon points="523.13,839.54 520.09,845.14 526.16,845.14" fill="#a81627" stroke="#5e0d16" stroke-width="0.5"/>
<circle cx="523.13" cy="854.22" r="2.6" fill="#a81627" stroke="#5e0d16" stroke-width="0.5" />
<line x1="567.93" y1="774.09" x2="567.93" y2="831.76" stroke="#555" stroke-width="0.65" />
<line x1="560.93" y1="774.09" x2="574.93" y2="774.09" stroke="#555" stroke-width="0.65" />
<line x1="560.93" y1="831.76" x2="574.93" y2="831.76" stroke="#555" stroke-width="0.65" />
<rect x="553.58" y="785.58" width="28.71" height="42.94" fill="#3a74b9" stroke="#234877" stroke-width="0.5" />
<line x1="553.58" y1="801.55" x2="582.29" y2="801.55" stroke="#234877" stroke-width="0.8" />
<polygon points="567.31,770.9 564.27,776.49 570.35,776.49" fill="#1f58a2" stroke="#152f5c" stroke-width="0.5"/>
<polygon points="561.82,782.88 558.78,788.47 564.86,788.47" fill="#1f58a2" stroke="#152f5c" stroke-width="0.5"/>
<circle cx="573.05" cy="785.58" r="2.6" fill="#1f58a2" stroke="#152f5c" stroke-width="0.5" />
<polygon points="567.31,793.86 564.27,799.46 570.35,799.46" fill="#1f58a2" stroke="#152f5c" stroke-width="0.5"/>
<polygon points="567.31,803.35 564.27,808.94 570.35,808.94" fill="#1f58a2" stroke="#152f5c" stroke-width="0.5"/>
<circle cx="567.31" cy="819.78" r="2.6" fill="#1f58a2" stroke="#152f5c" stroke-width="0.5" />
<circle cx="561.82" cy="831.26" r="2.6" fill="#1f58a2" stroke="#152f5c" stroke-width="0.5" />
<circle cx="573.05" cy="831.26" r="2.6" fill="#1f58a2" stroke="#152f5c" stroke-width="0.5" />
<polyline points="478.9,685.5 478.9,682.5 567.8,682.5 567.8,762.9" fill="none" stroke="#7d7d7d" stroke-width="0.65"/>
<polyline points="478,811 478,698 523.1,698 523.1,701.2" fill="none" stroke="#7d7d7d" stroke-width="0.65"/>
<text x="523.1" y="682.3" font-size="10.5" fill="#3a3a3a" text-anchor="middle" stroke="#3a3a3a" stroke-width="0.2">*</text>
<text x="501.7" y="699.2" font-size="10.5" fill="#3a3a3a" text-anchor="middle" letter-spacing="0.3" stroke="#3a3a3a" stroke-width="0.2">**</text>
<text x="478.7" y="866.9" font-size="7.8" fill="#3a3a3a" text-anchor="middle" >6 months</text>
<text x="523.1" y="866.9" font-size="7.8" fill="#3a3a3a" text-anchor="middle" >8 months</text>
<text x="567.3" y="866.9" font-size="7.8" fill="#3a3a3a" text-anchor="middle" >8 months</text>
<text x="481.2" y="880.8" font-size="9" fill="#3a3a3a" text-anchor="middle" >Before the</text>
<text x="481.2" y="891" font-size="9" fill="#3a3a3a" text-anchor="middle" >switch</text>
<text x="544.8" y="880.8" font-size="9" fill="#3a3a3a" text-anchor="middle" >After the</text>
<text x="544.8" y="891" font-size="9" fill="#3a3a3a" text-anchor="middle" >switch</text>
<line x1="509" y1="877.7" x2="517.4" y2="877.7" stroke="#555" stroke-width="0.7" />
<line x1="509" y1="875" x2="509" y2="880.4" stroke="#555" stroke-width="0.7" />
<line x1="576.8" y1="877.7" x2="587.6" y2="877.7" stroke="#555" stroke-width="0.7" />
<line x1="587.6" y1="875" x2="587.6" y2="880.4" stroke="#555" stroke-width="0.7" />
<rect x="582.2" y="681.3" width="8.5" height="8.4" fill="#e8757c" stroke="#73262c" stroke-width="0.5" />
<rect x="582.2" y="694.5" width="8.5" height="8.4" fill="#ec5157" stroke="#73262c" stroke-width="0.5" />
<rect x="582.2" y="708.1" width="8.5" height="8.4" fill="#3a74b9" stroke="#234877" stroke-width="0.5" />
<text x="597" y="688.7" font-size="7.6" fill="#3a3a3a" >4s2/FAD</text>
<text x="597" y="701.7" font-size="7.6" fill="#3a3a3a" >4s2/FAD</text>
<text x="597" y="716.6" font-size="7.6" fill="#3a3a3a" >4s2<tspan dy="-2.6" font-size="60%">A</tspan><tspan dy="2.6" dx="0.5">/FAD</tspan></text>
<circle cx="587" cy="725.5" r="4.3" fill="#fff" stroke="#444" stroke-width="0.6" />
<text x="597" y="728.2" font-size="7.6" fill="#3a3a3a" >Female</text>
<polygon points="587.5,732.8 582.8,741.2 592.2,741.2" fill="#fff" stroke="#444" stroke-width="0.6"/>
<text x="597" y="740.9" font-size="7.6" fill="#3a3a3a" >Male</text>
</svg>
</body></html>
